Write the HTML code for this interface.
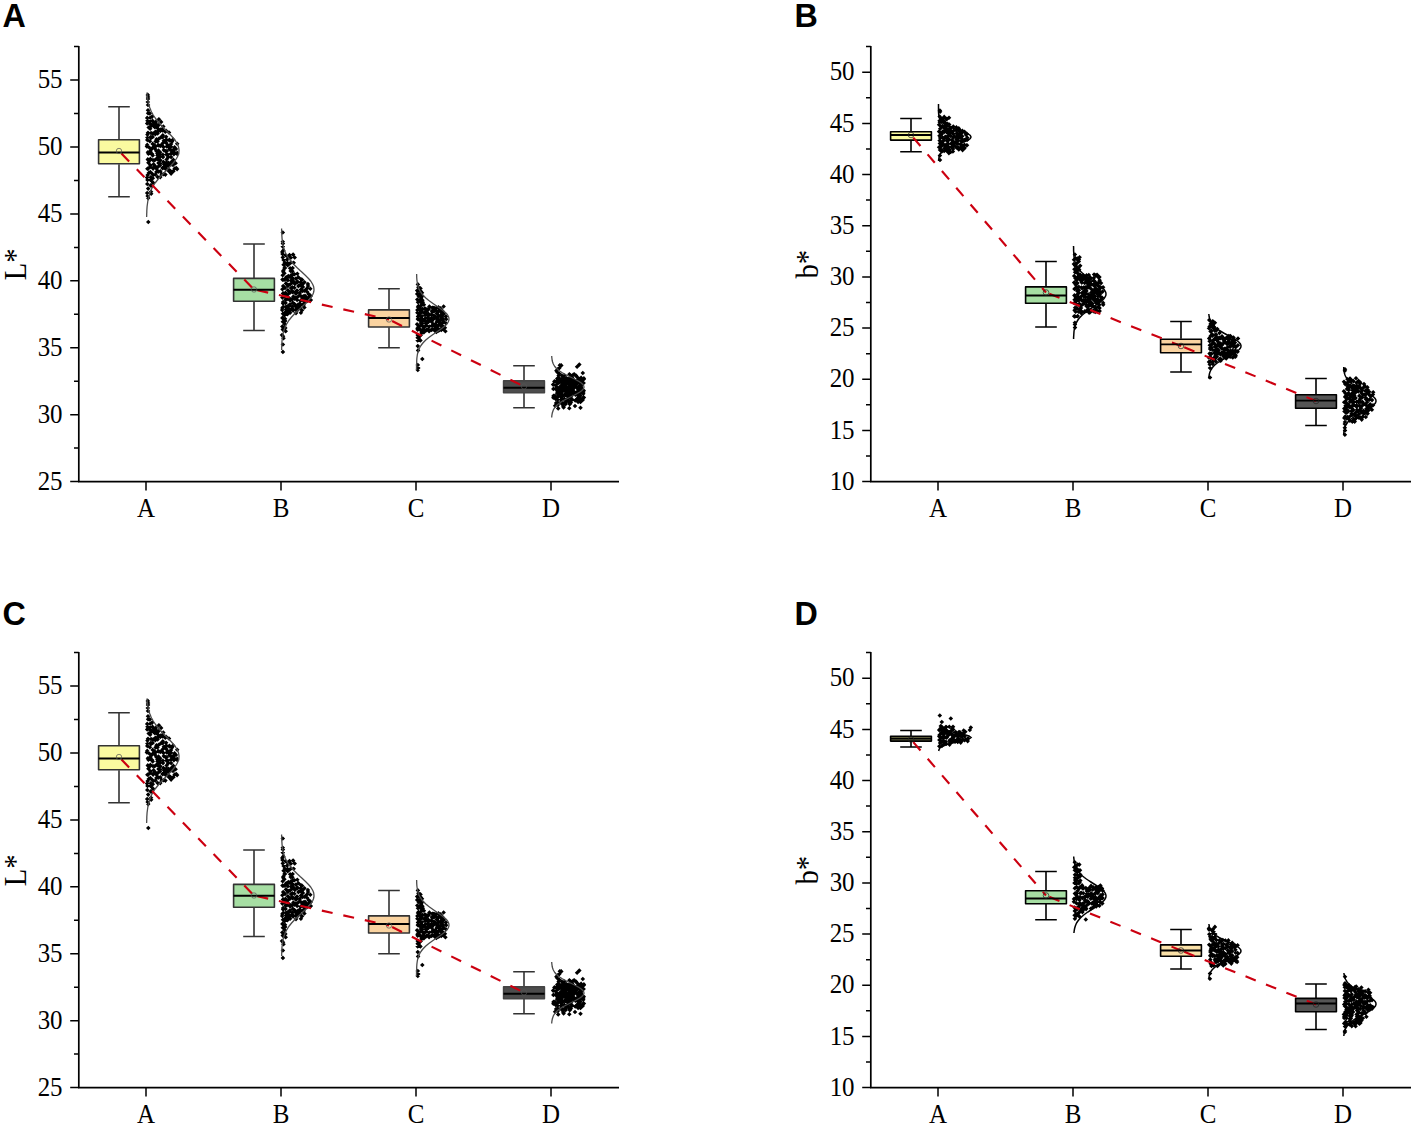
<!DOCTYPE html>
<html lang="en"><head><meta charset="utf-8"><title>Figure</title>
<style>html,body{margin:0;padding:0;background:#fff}svg{display:block}</style></head>
<body>
<svg width="1417" height="1129" viewBox="0 0 1417 1129">
<rect width="1417" height="1129" fill="#fff"/>
<g transform="translate(0 0)">
<path d="M78.8 45.9V481.6H619" fill="none" stroke="#000" stroke-width="1.7"/>
<path d="M78.8 481.6h-8.6M78.8 448.1h-4.8M78.8 414.7h-8.6M78.8 381.2h-4.8M78.8 347.8h-8.6M78.8 314.3h-4.8M78.8 280.8h-8.6M78.8 247.4h-4.8M78.8 213.9h-8.6M78.8 180.4h-4.8M78.8 147h-8.6M78.8 113.5h-4.8M78.8 80.1h-8.6M78.8 46.6h-4.8M146 481.6v9M281 481.6v9M416 481.6v9M551 481.6v9" fill="none" stroke="#000" stroke-width="1.5"/>
<g font-family="'Liberation Serif','Times New Roman',serif" font-size="27" fill="#000">
<text transform="translate(62.6 489.7) scale(0.925 1)" text-anchor="end">25</text>
<text transform="translate(62.6 422.8) scale(0.925 1)" text-anchor="end">30</text>
<text transform="translate(62.6 355.9) scale(0.925 1)" text-anchor="end">35</text>
<text transform="translate(62.6 288.9) scale(0.925 1)" text-anchor="end">40</text>
<text transform="translate(62.6 222) scale(0.925 1)" text-anchor="end">45</text>
<text transform="translate(62.6 155.1) scale(0.925 1)" text-anchor="end">50</text>
<text transform="translate(62.6 88.2) scale(0.925 1)" text-anchor="end">55</text>
<text transform="translate(146 517) scale(0.925 1)" text-anchor="middle">A</text>
<text transform="translate(281 517) scale(0.925 1)" text-anchor="middle">B</text>
<text transform="translate(416 517) scale(0.925 1)" text-anchor="middle">C</text>
<text transform="translate(551 517) scale(0.925 1)" text-anchor="middle">D</text>
<text transform="translate(26.4 264.3) rotate(-90) scale(0.93 1)" text-anchor="middle" font-size="30.8">L*</text>
</g>
<path d="M119 106.8V139.5M119 164.2V196.8M108.2 106.8h21.6M108.2 196.8h21.6" fill="none" stroke="#333333" stroke-width="1.6"/>
<rect x="98.6" y="139.8" width="40.8" height="24" fill="#FAFAA0" stroke="#333333" stroke-width="1.6" stroke-linejoin="round"/>
<path d="M254 244V278M254 301.5V330.5M243.2 244h21.6M243.2 330.5h21.6" fill="none" stroke="#333333" stroke-width="1.6"/>
<rect x="233.6" y="278.4" width="40.8" height="22.8" fill="#A6DEA3" stroke="#333333" stroke-width="1.6" stroke-linejoin="round"/>
<path d="M389 288.8V309.5M389 327.3V347.8M378.2 288.8h21.6M378.2 347.8h21.6" fill="none" stroke="#333333" stroke-width="1.6"/>
<rect x="368.6" y="309.9" width="40.8" height="17.1" fill="#FAD3A0" stroke="#333333" stroke-width="1.6" stroke-linejoin="round"/>
<path d="M524 365.8V380.5M524 393V407.8M513.2 365.8h21.6M513.2 407.8h21.6" fill="none" stroke="#333333" stroke-width="1.6"/>
<rect x="503.6" y="380.9" width="40.8" height="11.8" fill="#4C4C4C" stroke="#444" stroke-width="1.6" stroke-linejoin="round"/>
<path d="M145.5 94.9l2.3-2.3 2.3 2.3-2.3 2.3zM145.7 97l2.3-2.3 2.3 2.3-2.3 2.3zM145.7 98.9l2.3-2.3 2.3 2.3-2.3 2.3zM145.5 102l2.3-2.3 2.3 2.3-2.3 2.3zM145.7 105l2.3-2.3 2.3 2.3-2.3 2.3zM145.7 110.2l2.3-2.3 2.3 2.3-2.3 2.3zM145.8 113.2l2.3-2.3 2.3 2.3-2.3 2.3zM147.5 113.4l2.3-2.3 2.3 2.3-2.3 2.3zM144.9 117.9l2.3-2.3 2.3 2.3-2.3 2.3zM147.9 117.8l2.3-2.3 2.3 2.3-2.3 2.3zM149.9 116.6l2.3-2.3 2.3 2.3-2.3 2.3zM145.2 120.8l2.3-2.3 2.3 2.3-2.3 2.3zM147.7 121.6l2.3-2.3 2.3 2.3-2.3 2.3zM150.2 120.8l2.3-2.3 2.3 2.3-2.3 2.3zM154 121.4l2.3-2.3 2.3 2.3-2.3 2.3zM156.6 119.2l2.3-2.3 2.3 2.3-2.3 2.3zM144.9 123.4l2.3-2.3 2.3 2.3-2.3 2.3zM148.4 124.4l2.3-2.3 2.3 2.3-2.3 2.3zM151.4 122.8l2.3-2.3 2.3 2.3-2.3 2.3zM153.5 123.7l2.3-2.3 2.3 2.3-2.3 2.3zM156.5 125l2.3-2.3 2.3 2.3-2.3 2.3zM158.8 121.9l2.3-2.3 2.3 2.3-2.3 2.3zM146.4 127.5l2.3-2.3 2.3 2.3-2.3 2.3zM147.9 126.9l2.3-2.3 2.3 2.3-2.3 2.3zM150.6 125.2l2.3-2.3 2.3 2.3-2.3 2.3zM152.5 127.3l2.3-2.3 2.3 2.3-2.3 2.3zM155.4 126l2.3-2.3 2.3 2.3-2.3 2.3zM161 126.5l2.3-2.3 2.3 2.3-2.3 2.3zM147.9 128.8l2.3-2.3 2.3 2.3-2.3 2.3zM155.3 128.3l2.3-2.3 2.3 2.3-2.3 2.3zM158.5 129.6l2.3-2.3 2.3 2.3-2.3 2.3zM160.2 129l2.3-2.3 2.3 2.3-2.3 2.3zM163.8 130.8l2.3-2.3 2.3 2.3-2.3 2.3zM145.7 132.8l2.3-2.3 2.3 2.3-2.3 2.3zM148.8 133.1l2.3-2.3 2.3 2.3-2.3 2.3zM153.1 131.8l2.3-2.3 2.3 2.3-2.3 2.3zM156.1 130.6l2.3-2.3 2.3 2.3-2.3 2.3zM158 131l2.3-2.3 2.3 2.3-2.3 2.3zM160.3 130.4l2.3-2.3 2.3 2.3-2.3 2.3zM163 131.7l2.3-2.3 2.3 2.3-2.3 2.3zM166.7 132.5l2.3-2.3 2.3 2.3-2.3 2.3zM145.2 134.6l2.3-2.3 2.3 2.3-2.3 2.3zM148.7 136.8l2.3-2.3 2.3 2.3-2.3 2.3zM150.7 133.6l2.3-2.3 2.3 2.3-2.3 2.3zM153 134.2l2.3-2.3 2.3 2.3-2.3 2.3zM155.3 133.4l2.3-2.3 2.3 2.3-2.3 2.3zM160.5 135.2l2.3-2.3 2.3 2.3-2.3 2.3zM163.8 136.7l2.3-2.3 2.3 2.3-2.3 2.3zM145.1 137.5l2.3-2.3 2.3 2.3-2.3 2.3zM148.6 138.1l2.3-2.3 2.3 2.3-2.3 2.3zM150.4 137l2.3-2.3 2.3 2.3-2.3 2.3zM154.2 139.2l2.3-2.3 2.3 2.3-2.3 2.3zM156.5 138.8l2.3-2.3 2.3 2.3-2.3 2.3zM158.5 137.4l2.3-2.3 2.3 2.3-2.3 2.3zM160.3 137.2l2.3-2.3 2.3 2.3-2.3 2.3zM164 139.5l2.3-2.3 2.3 2.3-2.3 2.3zM167.1 139.7l2.3-2.3 2.3 2.3-2.3 2.3zM145 139.9l2.3-2.3 2.3 2.3-2.3 2.3zM147.6 141.3l2.3-2.3 2.3 2.3-2.3 2.3zM153.3 141.4l2.3-2.3 2.3 2.3-2.3 2.3zM155.2 141.4l2.3-2.3 2.3 2.3-2.3 2.3zM161.6 140.8l2.3-2.3 2.3 2.3-2.3 2.3zM164.2 140.3l2.3-2.3 2.3 2.3-2.3 2.3zM167.1 140.5l2.3-2.3 2.3 2.3-2.3 2.3zM169.7 141.6l2.3-2.3 2.3 2.3-2.3 2.3zM170.8 139.6l2.3-2.3 2.3 2.3-2.3 2.3zM144.9 144.9l2.3-2.3 2.3 2.3-2.3 2.3zM150.4 143.9l2.3-2.3 2.3 2.3-2.3 2.3zM152.4 145.4l2.3-2.3 2.3 2.3-2.3 2.3zM155.9 145.3l2.3-2.3 2.3 2.3-2.3 2.3zM159.2 144.9l2.3-2.3 2.3 2.3-2.3 2.3zM160.7 143l2.3-2.3 2.3 2.3-2.3 2.3zM163.9 142.9l2.3-2.3 2.3 2.3-2.3 2.3zM165.6 145.2l2.3-2.3 2.3 2.3-2.3 2.3zM168.8 144l2.3-2.3 2.3 2.3-2.3 2.3zM174.9 143.8l2.3-2.3 2.3 2.3-2.3 2.3zM144.6 146.4l2.3-2.3 2.3 2.3-2.3 2.3zM147.2 147.7l2.3-2.3 2.3 2.3-2.3 2.3zM150.7 147.4l2.3-2.3 2.3 2.3-2.3 2.3zM153 146.7l2.3-2.3 2.3 2.3-2.3 2.3zM156.4 145.3l2.3-2.3 2.3 2.3-2.3 2.3zM158 145.9l2.3-2.3 2.3 2.3-2.3 2.3zM161.1 146.9l2.3-2.3 2.3 2.3-2.3 2.3zM164.4 146.5l2.3-2.3 2.3 2.3-2.3 2.3zM166.3 146.7l2.3-2.3 2.3 2.3-2.3 2.3zM168.8 146.8l2.3-2.3 2.3 2.3-2.3 2.3zM172.3 147.3l2.3-2.3 2.3 2.3-2.3 2.3zM148.2 151.1l2.3-2.3 2.3 2.3-2.3 2.3zM150 148.2l2.3-2.3 2.3 2.3-2.3 2.3zM152.5 148.6l2.3-2.3 2.3 2.3-2.3 2.3zM156.2 150.5l2.3-2.3 2.3 2.3-2.3 2.3zM161.5 150.1l2.3-2.3 2.3 2.3-2.3 2.3zM164.4 151.2l2.3-2.3 2.3 2.3-2.3 2.3zM167.1 149.2l2.3-2.3 2.3 2.3-2.3 2.3zM169.8 150.7l2.3-2.3 2.3 2.3-2.3 2.3zM171.4 149.6l2.3-2.3 2.3 2.3-2.3 2.3zM173.6 148.9l2.3-2.3 2.3 2.3-2.3 2.3zM145.6 152.2l2.3-2.3 2.3 2.3-2.3 2.3zM147.8 152.9l2.3-2.3 2.3 2.3-2.3 2.3zM149.9 154.1l2.3-2.3 2.3 2.3-2.3 2.3zM154.1 151.1l2.3-2.3 2.3 2.3-2.3 2.3zM155.1 153.4l2.3-2.3 2.3 2.3-2.3 2.3zM157.8 152.2l2.3-2.3 2.3 2.3-2.3 2.3zM163.3 151.2l2.3-2.3 2.3 2.3-2.3 2.3zM169.3 151l2.3-2.3 2.3 2.3-2.3 2.3zM171.8 152.2l2.3-2.3 2.3 2.3-2.3 2.3zM174.9 152.9l2.3-2.3 2.3 2.3-2.3 2.3zM146.1 153.8l2.3-2.3 2.3 2.3-2.3 2.3zM150.4 155.5l2.3-2.3 2.3 2.3-2.3 2.3zM155.2 155.4l2.3-2.3 2.3 2.3-2.3 2.3zM157.8 154.2l2.3-2.3 2.3 2.3-2.3 2.3zM160.6 154.7l2.3-2.3 2.3 2.3-2.3 2.3zM164.2 154.6l2.3-2.3 2.3 2.3-2.3 2.3zM165.7 154.8l2.3-2.3 2.3 2.3-2.3 2.3zM168.5 153.7l2.3-2.3 2.3 2.3-2.3 2.3zM171.6 154.3l2.3-2.3 2.3 2.3-2.3 2.3zM174.9 154l2.3-2.3 2.3 2.3-2.3 2.3zM145.5 159.4l2.3-2.3 2.3 2.3-2.3 2.3zM148.1 158.9l2.3-2.3 2.3 2.3-2.3 2.3zM153.9 159l2.3-2.3 2.3 2.3-2.3 2.3zM155.7 157.7l2.3-2.3 2.3 2.3-2.3 2.3zM157.8 156.7l2.3-2.3 2.3 2.3-2.3 2.3zM160.7 157.1l2.3-2.3 2.3 2.3-2.3 2.3zM164.3 159.5l2.3-2.3 2.3 2.3-2.3 2.3zM165.9 157.3l2.3-2.3 2.3 2.3-2.3 2.3zM168.8 157.1l2.3-2.3 2.3 2.3-2.3 2.3zM171.1 159.9l2.3-2.3 2.3 2.3-2.3 2.3zM146.3 160.5l2.3-2.3 2.3 2.3-2.3 2.3zM147.2 160.7l2.3-2.3 2.3 2.3-2.3 2.3zM150.7 160.1l2.3-2.3 2.3 2.3-2.3 2.3zM152.4 160.3l2.3-2.3 2.3 2.3-2.3 2.3zM155.7 159.5l2.3-2.3 2.3 2.3-2.3 2.3zM158.1 160.2l2.3-2.3 2.3 2.3-2.3 2.3zM161.2 162l2.3-2.3 2.3 2.3-2.3 2.3zM164.1 162.5l2.3-2.3 2.3 2.3-2.3 2.3zM166 162.8l2.3-2.3 2.3 2.3-2.3 2.3zM169.3 161.7l2.3-2.3 2.3 2.3-2.3 2.3zM172.1 162.5l2.3-2.3 2.3 2.3-2.3 2.3zM146.1 162.8l2.3-2.3 2.3 2.3-2.3 2.3zM148.1 165.2l2.3-2.3 2.3 2.3-2.3 2.3zM151.3 164.3l2.3-2.3 2.3 2.3-2.3 2.3zM156.2 163.1l2.3-2.3 2.3 2.3-2.3 2.3zM157.8 163.6l2.3-2.3 2.3 2.3-2.3 2.3zM161.7 164.3l2.3-2.3 2.3 2.3-2.3 2.3zM163.9 164.7l2.3-2.3 2.3 2.3-2.3 2.3zM165.4 165.1l2.3-2.3 2.3 2.3-2.3 2.3zM168.9 164.2l2.3-2.3 2.3 2.3-2.3 2.3zM170.7 164.9l2.3-2.3 2.3 2.3-2.3 2.3zM173.3 163.2l2.3-2.3 2.3 2.3-2.3 2.3zM145.9 168.6l2.3-2.3 2.3 2.3-2.3 2.3zM147.9 166.9l2.3-2.3 2.3 2.3-2.3 2.3zM151.2 167.4l2.3-2.3 2.3 2.3-2.3 2.3zM152.5 165.7l2.3-2.3 2.3 2.3-2.3 2.3zM156.3 166.3l2.3-2.3 2.3 2.3-2.3 2.3zM157.6 165.4l2.3-2.3 2.3 2.3-2.3 2.3zM161.4 167.6l2.3-2.3 2.3 2.3-2.3 2.3zM163.3 167l2.3-2.3 2.3 2.3-2.3 2.3zM166.2 165.6l2.3-2.3 2.3 2.3-2.3 2.3zM172.4 168.5l2.3-2.3 2.3 2.3-2.3 2.3zM174 168.1l2.3-2.3 2.3 2.3-2.3 2.3zM145.1 168.8l2.3-2.3 2.3 2.3-2.3 2.3zM150.8 168.6l2.3-2.3 2.3 2.3-2.3 2.3zM154.1 168.6l2.3-2.3 2.3 2.3-2.3 2.3zM155.9 171.2l2.3-2.3 2.3 2.3-2.3 2.3zM158 171.2l2.3-2.3 2.3 2.3-2.3 2.3zM160.2 168.1l2.3-2.3 2.3 2.3-2.3 2.3zM163.6 169.2l2.3-2.3 2.3 2.3-2.3 2.3zM166 169.2l2.3-2.3 2.3 2.3-2.3 2.3zM168 170.7l2.3-2.3 2.3 2.3-2.3 2.3zM170.8 171.3l2.3-2.3 2.3 2.3-2.3 2.3zM174.8 169.1l2.3-2.3 2.3 2.3-2.3 2.3zM146.4 173.1l2.3-2.3 2.3 2.3-2.3 2.3zM148 172l2.3-2.3 2.3 2.3-2.3 2.3zM150 173.9l2.3-2.3 2.3 2.3-2.3 2.3zM154.1 171.9l2.3-2.3 2.3 2.3-2.3 2.3zM155.9 171.7l2.3-2.3 2.3 2.3-2.3 2.3zM159.3 174.1l2.3-2.3 2.3 2.3-2.3 2.3zM161.3 174.2l2.3-2.3 2.3 2.3-2.3 2.3zM166.7 171.2l2.3-2.3 2.3 2.3-2.3 2.3zM168.8 173.6l2.3-2.3 2.3 2.3-2.3 2.3zM171.1 171.2l2.3-2.3 2.3 2.3-2.3 2.3zM145.4 175.1l2.3-2.3 2.3 2.3-2.3 2.3zM148.5 177.3l2.3-2.3 2.3 2.3-2.3 2.3zM151 175l2.3-2.3 2.3 2.3-2.3 2.3zM153.1 174.5l2.3-2.3 2.3 2.3-2.3 2.3zM155.4 177.1l2.3-2.3 2.3 2.3-2.3 2.3zM158 177.1l2.3-2.3 2.3 2.3-2.3 2.3zM163.1 174.6l2.3-2.3 2.3 2.3-2.3 2.3zM144.8 177.6l2.3-2.3 2.3 2.3-2.3 2.3zM148.2 179.9l2.3-2.3 2.3 2.3-2.3 2.3zM150.5 178.2l2.3-2.3 2.3 2.3-2.3 2.3zM145.2 179.9l2.3-2.3 2.3 2.3-2.3 2.3zM148.9 180.1l2.3-2.3 2.3 2.3-2.3 2.3zM150.9 182.7l2.3-2.3 2.3 2.3-2.3 2.3zM145 184l2.3-2.3 2.3 2.3-2.3 2.3zM148.9 185.6l2.3-2.3 2.3 2.3-2.3 2.3zM145.9 188.6l2.3-2.3 2.3 2.3-2.3 2.3zM148.3 185.5l2.3-2.3 2.3 2.3-2.3 2.3zM148.7 191.8l2.3-2.3 2.3 2.3-2.3 2.3zM144.9 193.1l2.3-2.3 2.3 2.3-2.3 2.3zM148.9 193.8l2.3-2.3 2.3 2.3-2.3 2.3zM145.4 196.1l2.3-2.3 2.3 2.3-2.3 2.3zM145.9 198.1l2.3-2.3 2.3 2.3-2.3 2.3zM146 222l2.3-2.3 2.3 2.3-2.3 2.3z" fill="#000"/>
<path d="M147 92.5 L147.1 94 L147.2 95.5 L147.4 97 L147.6 98.5 L147.8 100 L148.1 101.5 L148.4 103 L148.8 104.5 L149.2 106 L149.7 107.5 L150.3 109 L150.9 110.5 L151.6 112 L152.4 113.5 L153.2 115 L154.2 116.5 L155.2 118 L156.3 119.5 L157.5 121 L158.7 122.5 L160 124 L161.4 125.5 L162.8 127 L164.2 128.5 L165.7 130 L167.2 131.5 L168.7 133 L170.1 134.5 L171.5 136 L172.8 137.5 L174 139 L175.2 140.5 L176.2 142 L177.1 143.5 L177.8 145 L178.4 146.5 L178.7 148 L179 149.5 L179 151 L178.8 152.5 L178.5 154 L178 155.5 L177.3 157 L176.5 158.5 L175.5 160 L174.4 161.5 L173.2 163 L171.9 164.5 L170.6 166 L169.1 167.5 L167.7 169 L166.2 170.5 L164.7 172 L163.3 173.5 L161.8 175 L160.5 176.5 L159.1 178 L157.9 179.5 L156.7 181 L155.5 182.5 L154.5 184 L153.5 185.5 L152.6 187 L151.8 188.5 L151.1 190 L150.5 191.5 L149.9 193 L149.4 194.5 L148.9 196 L148.6 197.5 L148.2 199 L147.9 200.5 L147.7 202 L147.5 203.5 L147.3 205 L147.1 206.5 L147 208 L146.9 209.5 L146.8 211 L146.8 212.5 L146.7 214 L146.7 215.5 L146.6 217" fill="none" stroke="#4a4a4a" stroke-width="1.3"/>
<path d="M280.5 232.5l2.3-2.3 2.3 2.3-2.3 2.3zM280.5 241.7l2.3-2.3 2.3 2.3-2.3 2.3zM280.6 243.6l2.3-2.3 2.3 2.3-2.3 2.3zM280.5 246.6l2.3-2.3 2.3 2.3-2.3 2.3zM281 250.4l2.3-2.3 2.3 2.3-2.3 2.3zM280 251.9l2.3-2.3 2.3 2.3-2.3 2.3zM280.2 254l2.3-2.3 2.3 2.3-2.3 2.3zM283.3 255.3l2.3-2.3 2.3 2.3-2.3 2.3zM285.8 257l2.3-2.3 2.3 2.3-2.3 2.3zM287.2 255l2.3-2.3 2.3 2.3-2.3 2.3zM290.8 254.6l2.3-2.3 2.3 2.3-2.3 2.3zM280.5 257.4l2.3-2.3 2.3 2.3-2.3 2.3zM286.1 257.5l2.3-2.3 2.3 2.3-2.3 2.3zM288.5 257.7l2.3-2.3 2.3 2.3-2.3 2.3zM292.4 257.5l2.3-2.3 2.3 2.3-2.3 2.3zM281.3 260l2.3-2.3 2.3 2.3-2.3 2.3zM282.5 262.8l2.3-2.3 2.3 2.3-2.3 2.3zM284.7 259.7l2.3-2.3 2.3 2.3-2.3 2.3zM288.7 262.5l2.3-2.3 2.3 2.3-2.3 2.3zM291.4 262.7l2.3-2.3 2.3 2.3-2.3 2.3zM281.3 264.8l2.3-2.3 2.3 2.3-2.3 2.3zM283.3 263.6l2.3-2.3 2.3 2.3-2.3 2.3zM285.2 262.9l2.3-2.3 2.3 2.3-2.3 2.3zM287.6 263.5l2.3-2.3 2.3 2.3-2.3 2.3zM282.7 267.9l2.3-2.3 2.3 2.3-2.3 2.3zM285.4 265.3l2.3-2.3 2.3 2.3-2.3 2.3zM287.8 268.2l2.3-2.3 2.3 2.3-2.3 2.3zM290.3 268.1l2.3-2.3 2.3 2.3-2.3 2.3zM281.1 270.5l2.3-2.3 2.3 2.3-2.3 2.3zM282.2 268.1l2.3-2.3 2.3 2.3-2.3 2.3zM288.4 271l2.3-2.3 2.3 2.3-2.3 2.3zM290.1 271.2l2.3-2.3 2.3 2.3-2.3 2.3zM280.9 271.8l2.3-2.3 2.3 2.3-2.3 2.3zM282.1 273.3l2.3-2.3 2.3 2.3-2.3 2.3zM288.8 270.8l2.3-2.3 2.3 2.3-2.3 2.3zM290.5 274l2.3-2.3 2.3 2.3-2.3 2.3zM280.4 275.2l2.3-2.3 2.3 2.3-2.3 2.3zM286 276l2.3-2.3 2.3 2.3-2.3 2.3zM288.5 275.6l2.3-2.3 2.3 2.3-2.3 2.3zM290.2 274.7l2.3-2.3 2.3 2.3-2.3 2.3zM292.2 274.2l2.3-2.3 2.3 2.3-2.3 2.3zM295 273.7l2.3-2.3 2.3 2.3-2.3 2.3zM280.2 279.6l2.3-2.3 2.3 2.3-2.3 2.3zM283.9 277.2l2.3-2.3 2.3 2.3-2.3 2.3zM284.8 278l2.3-2.3 2.3 2.3-2.3 2.3zM287.9 277.1l2.3-2.3 2.3 2.3-2.3 2.3zM290.7 278.6l2.3-2.3 2.3 2.3-2.3 2.3zM293.6 278.6l2.3-2.3 2.3 2.3-2.3 2.3zM296.1 277.3l2.3-2.3 2.3 2.3-2.3 2.3zM280.9 279.8l2.3-2.3 2.3 2.3-2.3 2.3zM282.5 279.6l2.3-2.3 2.3 2.3-2.3 2.3zM285.6 280.2l2.3-2.3 2.3 2.3-2.3 2.3zM288.9 280.8l2.3-2.3 2.3 2.3-2.3 2.3zM291.1 281.3l2.3-2.3 2.3 2.3-2.3 2.3zM295.5 281.9l2.3-2.3 2.3 2.3-2.3 2.3zM298.7 279.2l2.3-2.3 2.3 2.3-2.3 2.3zM299.8 279.7l2.3-2.3 2.3 2.3-2.3 2.3zM283.7 283.4l2.3-2.3 2.3 2.3-2.3 2.3zM286 285.1l2.3-2.3 2.3 2.3-2.3 2.3zM288.2 284l2.3-2.3 2.3 2.3-2.3 2.3zM290.3 282.4l2.3-2.3 2.3 2.3-2.3 2.3zM292.6 283.9l2.3-2.3 2.3 2.3-2.3 2.3zM295 281.9l2.3-2.3 2.3 2.3-2.3 2.3zM298.3 282.5l2.3-2.3 2.3 2.3-2.3 2.3zM300 284.6l2.3-2.3 2.3 2.3-2.3 2.3zM302.2 282.2l2.3-2.3 2.3 2.3-2.3 2.3zM305.6 284.1l2.3-2.3 2.3 2.3-2.3 2.3zM280.9 286.1l2.3-2.3 2.3 2.3-2.3 2.3zM282.7 287.9l2.3-2.3 2.3 2.3-2.3 2.3zM285.6 285.9l2.3-2.3 2.3 2.3-2.3 2.3zM288.7 288.1l2.3-2.3 2.3 2.3-2.3 2.3zM290 287.2l2.3-2.3 2.3 2.3-2.3 2.3zM292.1 287.8l2.3-2.3 2.3 2.3-2.3 2.3zM296.1 286.1l2.3-2.3 2.3 2.3-2.3 2.3zM297.9 285.3l2.3-2.3 2.3 2.3-2.3 2.3zM300.6 286.9l2.3-2.3 2.3 2.3-2.3 2.3zM305.7 286l2.3-2.3 2.3 2.3-2.3 2.3zM280.1 289.3l2.3-2.3 2.3 2.3-2.3 2.3zM285.5 290.2l2.3-2.3 2.3 2.3-2.3 2.3zM289.8 290.7l2.3-2.3 2.3 2.3-2.3 2.3zM294.7 290.6l2.3-2.3 2.3 2.3-2.3 2.3zM298.7 289.6l2.3-2.3 2.3 2.3-2.3 2.3zM299.9 290.2l2.3-2.3 2.3 2.3-2.3 2.3zM302.8 290.4l2.3-2.3 2.3 2.3-2.3 2.3zM304.9 288.2l2.3-2.3 2.3 2.3-2.3 2.3zM308 288.8l2.3-2.3 2.3 2.3-2.3 2.3zM280.9 293.4l2.3-2.3 2.3 2.3-2.3 2.3zM283.1 292.9l2.3-2.3 2.3 2.3-2.3 2.3zM286.1 290.7l2.3-2.3 2.3 2.3-2.3 2.3zM288.1 292.4l2.3-2.3 2.3 2.3-2.3 2.3zM290.4 292.3l2.3-2.3 2.3 2.3-2.3 2.3zM293.3 291.8l2.3-2.3 2.3 2.3-2.3 2.3zM294.6 292.4l2.3-2.3 2.3 2.3-2.3 2.3zM297.5 292.9l2.3-2.3 2.3 2.3-2.3 2.3zM300.4 290.9l2.3-2.3 2.3 2.3-2.3 2.3zM302.3 290.7l2.3-2.3 2.3 2.3-2.3 2.3zM304.8 291.8l2.3-2.3 2.3 2.3-2.3 2.3zM280.7 293.4l2.3-2.3 2.3 2.3-2.3 2.3zM283.5 294.8l2.3-2.3 2.3 2.3-2.3 2.3zM285.5 294.4l2.3-2.3 2.3 2.3-2.3 2.3zM291.1 296.5l2.3-2.3 2.3 2.3-2.3 2.3zM293.6 293.8l2.3-2.3 2.3 2.3-2.3 2.3zM298.8 296.2l2.3-2.3 2.3 2.3-2.3 2.3zM301 296.3l2.3-2.3 2.3 2.3-2.3 2.3zM302.7 295.7l2.3-2.3 2.3 2.3-2.3 2.3zM306.2 294l2.3-2.3 2.3 2.3-2.3 2.3zM307.3 294.8l2.3-2.3 2.3 2.3-2.3 2.3zM280.1 297.6l2.3-2.3 2.3 2.3-2.3 2.3zM282.2 296.5l2.3-2.3 2.3 2.3-2.3 2.3zM286.3 298.2l2.3-2.3 2.3 2.3-2.3 2.3zM287.4 298.6l2.3-2.3 2.3 2.3-2.3 2.3zM290.6 298.1l2.3-2.3 2.3 2.3-2.3 2.3zM293.7 297.8l2.3-2.3 2.3 2.3-2.3 2.3zM296.2 296.3l2.3-2.3 2.3 2.3-2.3 2.3zM300.3 298.6l2.3-2.3 2.3 2.3-2.3 2.3zM303.9 297.9l2.3-2.3 2.3 2.3-2.3 2.3zM306 297.4l2.3-2.3 2.3 2.3-2.3 2.3zM308.4 296.1l2.3-2.3 2.3 2.3-2.3 2.3zM280.8 302l2.3-2.3 2.3 2.3-2.3 2.3zM283.3 299.8l2.3-2.3 2.3 2.3-2.3 2.3zM284.7 299.2l2.3-2.3 2.3 2.3-2.3 2.3zM287.9 300.4l2.3-2.3 2.3 2.3-2.3 2.3zM289.8 299.5l2.3-2.3 2.3 2.3-2.3 2.3zM292.1 298.7l2.3-2.3 2.3 2.3-2.3 2.3zM294.8 299.9l2.3-2.3 2.3 2.3-2.3 2.3zM298.2 300.7l2.3-2.3 2.3 2.3-2.3 2.3zM300.7 300.3l2.3-2.3 2.3 2.3-2.3 2.3zM303.8 299.5l2.3-2.3 2.3 2.3-2.3 2.3zM304.8 300.9l2.3-2.3 2.3 2.3-2.3 2.3zM308.5 300.1l2.3-2.3 2.3 2.3-2.3 2.3zM280.8 303.4l2.3-2.3 2.3 2.3-2.3 2.3zM283.3 303l2.3-2.3 2.3 2.3-2.3 2.3zM287.5 304.6l2.3-2.3 2.3 2.3-2.3 2.3zM290.6 302.9l2.3-2.3 2.3 2.3-2.3 2.3zM292.2 304.1l2.3-2.3 2.3 2.3-2.3 2.3zM295.6 304.7l2.3-2.3 2.3 2.3-2.3 2.3zM297.5 303.6l2.3-2.3 2.3 2.3-2.3 2.3zM300.8 304.3l2.3-2.3 2.3 2.3-2.3 2.3zM302.7 302.5l2.3-2.3 2.3 2.3-2.3 2.3zM281 306.7l2.3-2.3 2.3 2.3-2.3 2.3zM283.6 306.8l2.3-2.3 2.3 2.3-2.3 2.3zM285.9 305.8l2.3-2.3 2.3 2.3-2.3 2.3zM287.3 305.1l2.3-2.3 2.3 2.3-2.3 2.3zM290.2 306.8l2.3-2.3 2.3 2.3-2.3 2.3zM293.6 306.7l2.3-2.3 2.3 2.3-2.3 2.3zM295.6 305.8l2.3-2.3 2.3 2.3-2.3 2.3zM298 305.2l2.3-2.3 2.3 2.3-2.3 2.3zM301.3 305l2.3-2.3 2.3 2.3-2.3 2.3zM280.1 307.9l2.3-2.3 2.3 2.3-2.3 2.3zM283.8 309.6l2.3-2.3 2.3 2.3-2.3 2.3zM286.2 308.2l2.3-2.3 2.3 2.3-2.3 2.3zM288.7 309.2l2.3-2.3 2.3 2.3-2.3 2.3zM290.8 310.4l2.3-2.3 2.3 2.3-2.3 2.3zM293.6 309.5l2.3-2.3 2.3 2.3-2.3 2.3zM295.4 309.6l2.3-2.3 2.3 2.3-2.3 2.3zM297.7 307.8l2.3-2.3 2.3 2.3-2.3 2.3zM299.7 310.2l2.3-2.3 2.3 2.3-2.3 2.3zM302.1 307.5l2.3-2.3 2.3 2.3-2.3 2.3zM279.9 310l2.3-2.3 2.3 2.3-2.3 2.3zM283.3 312.1l2.3-2.3 2.3 2.3-2.3 2.3zM285.9 310.1l2.3-2.3 2.3 2.3-2.3 2.3zM287.8 312.7l2.3-2.3 2.3 2.3-2.3 2.3zM291.2 310.1l2.3-2.3 2.3 2.3-2.3 2.3zM293.7 313.1l2.3-2.3 2.3 2.3-2.3 2.3zM295 310.3l2.3-2.3 2.3 2.3-2.3 2.3zM298.6 312.7l2.3-2.3 2.3 2.3-2.3 2.3zM280.7 313.7l2.3-2.3 2.3 2.3-2.3 2.3zM282.3 315.3l2.3-2.3 2.3 2.3-2.3 2.3zM285.2 314.1l2.3-2.3 2.3 2.3-2.3 2.3zM280.1 317.9l2.3-2.3 2.3 2.3-2.3 2.3zM282.7 318.8l2.3-2.3 2.3 2.3-2.3 2.3zM280.7 318.4l2.3-2.3 2.3 2.3-2.3 2.3zM282.9 320.9l2.3-2.3 2.3 2.3-2.3 2.3zM280.6 321.8l2.3-2.3 2.3 2.3-2.3 2.3zM282.3 323.9l2.3-2.3 2.3 2.3-2.3 2.3zM280 326.5l2.3-2.3 2.3 2.3-2.3 2.3zM280.5 329.4l2.3-2.3 2.3 2.3-2.3 2.3zM283 327.9l2.3-2.3 2.3 2.3-2.3 2.3zM281.3 330.5l2.3-2.3 2.3 2.3-2.3 2.3zM283.4 331.2l2.3-2.3 2.3 2.3-2.3 2.3zM279.7 335l2.3-2.3 2.3 2.3-2.3 2.3zM280.7 336.3l2.3-2.3 2.3 2.3-2.3 2.3zM281.2 338.2l2.3-2.3 2.3 2.3-2.3 2.3zM280.6 344.5l2.3-2.3 2.3 2.3-2.3 2.3zM280.6 351.9l2.3-2.3 2.3 2.3-2.3 2.3z" fill="#000"/>
<path d="M281.6 228.5 L281.6 230 L281.7 231.5 L281.7 233 L281.8 234.5 L281.9 236 L282 237.5 L282.1 239 L282.3 240.5 L282.5 242 L282.7 243.5 L283 245 L283.4 246.5 L283.8 248 L284.3 249.5 L284.8 251 L285.4 252.5 L286.1 254 L287 255.5 L287.9 257 L288.9 258.5 L290 260 L291.2 261.5 L292.5 263 L293.9 264.5 L295.4 266 L296.9 267.5 L298.5 269 L300.1 270.5 L301.8 272 L303.4 273.5 L305 275 L306.5 276.5 L308 278 L309.4 279.5 L310.6 281 L311.6 282.5 L312.5 284 L313.2 285.5 L313.7 287 L313.9 288.5 L314 290 L313.8 291.5 L313.4 293 L312.8 294.5 L311.9 296 L310.9 297.5 L309.8 299 L308.5 300.5 L307 302 L305.5 303.5 L303.9 305 L302.3 306.5 L300.7 308 L299 309.5 L297.4 311 L295.9 312.5 L294.4 314 L293 315.5 L291.6 317 L290.4 318.5 L289.2 320 L288.2 321.5 L287.3 323 L286.4 324.5 L285.7 326 L285 327.5 L284.4 329 L283.9 330.5 L283.5 332 L283.1 333.5 L282.8 335 L282.6 336.5 L282.4 338 L282.2 339.5 L282 341 L281.9 342.5 L281.8 344 L281.8 345.5 L281.7 347 L281.7 348.5 L281.6 350" fill="none" stroke="#4a4a4a" stroke-width="1.3"/>
<path d="M415.6 284.4l2.3-2.3 2.3 2.3-2.3 2.3zM416.1 287.3l2.3-2.3 2.3 2.3-2.3 2.3zM414.9 290.6l2.3-2.3 2.3 2.3-2.3 2.3zM418.2 288.4l2.3-2.3 2.3 2.3-2.3 2.3zM415.6 290.9l2.3-2.3 2.3 2.3-2.3 2.3zM418.5 291.3l2.3-2.3 2.3 2.3-2.3 2.3zM419.7 292.8l2.3-2.3 2.3 2.3-2.3 2.3zM414.9 293.9l2.3-2.3 2.3 2.3-2.3 2.3zM417.8 293.6l2.3-2.3 2.3 2.3-2.3 2.3zM419.5 296.2l2.3-2.3 2.3 2.3-2.3 2.3zM416.3 296l2.3-2.3 2.3 2.3-2.3 2.3zM418.7 298.2l2.3-2.3 2.3 2.3-2.3 2.3zM420 296.3l2.3-2.3 2.3 2.3-2.3 2.3zM415 299.5l2.3-2.3 2.3 2.3-2.3 2.3zM417.6 300.8l2.3-2.3 2.3 2.3-2.3 2.3zM420.1 300.3l2.3-2.3 2.3 2.3-2.3 2.3zM415.7 302.2l2.3-2.3 2.3 2.3-2.3 2.3zM418.5 302.3l2.3-2.3 2.3 2.3-2.3 2.3zM420.5 302.2l2.3-2.3 2.3 2.3-2.3 2.3zM416.2 306l2.3-2.3 2.3 2.3-2.3 2.3zM418.4 305.7l2.3-2.3 2.3 2.3-2.3 2.3zM420 304.5l2.3-2.3 2.3 2.3-2.3 2.3zM421.6 304.8l2.3-2.3 2.3 2.3-2.3 2.3zM415.7 306.9l2.3-2.3 2.3 2.3-2.3 2.3zM417.7 308.1l2.3-2.3 2.3 2.3-2.3 2.3zM420.4 309.1l2.3-2.3 2.3 2.3-2.3 2.3zM422.7 308.6l2.3-2.3 2.3 2.3-2.3 2.3zM424.7 309.2l2.3-2.3 2.3 2.3-2.3 2.3zM427.1 306.6l2.3-2.3 2.3 2.3-2.3 2.3zM430.1 307.8l2.3-2.3 2.3 2.3-2.3 2.3zM431.7 307.8l2.3-2.3 2.3 2.3-2.3 2.3zM433.9 308.1l2.3-2.3 2.3 2.3-2.3 2.3zM436.2 307.4l2.3-2.3 2.3 2.3-2.3 2.3zM438 308.3l2.3-2.3 2.3 2.3-2.3 2.3zM441.3 306.5l2.3-2.3 2.3 2.3-2.3 2.3zM415.1 310l2.3-2.3 2.3 2.3-2.3 2.3zM417.7 310l2.3-2.3 2.3 2.3-2.3 2.3zM419.8 309.5l2.3-2.3 2.3 2.3-2.3 2.3zM422.8 311.7l2.3-2.3 2.3 2.3-2.3 2.3zM424.2 311.3l2.3-2.3 2.3 2.3-2.3 2.3zM426.5 309.1l2.3-2.3 2.3 2.3-2.3 2.3zM429.9 310.7l2.3-2.3 2.3 2.3-2.3 2.3zM431.7 309.4l2.3-2.3 2.3 2.3-2.3 2.3zM433.6 310.7l2.3-2.3 2.3 2.3-2.3 2.3zM436.8 310.2l2.3-2.3 2.3 2.3-2.3 2.3zM438.6 309.1l2.3-2.3 2.3 2.3-2.3 2.3zM440.5 311.4l2.3-2.3 2.3 2.3-2.3 2.3zM415.1 312.7l2.3-2.3 2.3 2.3-2.3 2.3zM416.9 313.6l2.3-2.3 2.3 2.3-2.3 2.3zM419.6 312.3l2.3-2.3 2.3 2.3-2.3 2.3zM422.3 313.3l2.3-2.3 2.3 2.3-2.3 2.3zM424.5 314.3l2.3-2.3 2.3 2.3-2.3 2.3zM426.2 313.9l2.3-2.3 2.3 2.3-2.3 2.3zM429.8 311.7l2.3-2.3 2.3 2.3-2.3 2.3zM431.8 311.3l2.3-2.3 2.3 2.3-2.3 2.3zM434.7 313.4l2.3-2.3 2.3 2.3-2.3 2.3zM435.5 311.8l2.3-2.3 2.3 2.3-2.3 2.3zM439 312.4l2.3-2.3 2.3 2.3-2.3 2.3zM441.5 313.8l2.3-2.3 2.3 2.3-2.3 2.3zM415.7 316.4l2.3-2.3 2.3 2.3-2.3 2.3zM418.5 316.4l2.3-2.3 2.3 2.3-2.3 2.3zM419.6 316.1l2.3-2.3 2.3 2.3-2.3 2.3zM422.8 315.3l2.3-2.3 2.3 2.3-2.3 2.3zM424.8 314.7l2.3-2.3 2.3 2.3-2.3 2.3zM426.4 315.5l2.3-2.3 2.3 2.3-2.3 2.3zM429.2 314.4l2.3-2.3 2.3 2.3-2.3 2.3zM431.6 315.6l2.3-2.3 2.3 2.3-2.3 2.3zM433 316.6l2.3-2.3 2.3 2.3-2.3 2.3zM436.3 316l2.3-2.3 2.3 2.3-2.3 2.3zM438.3 315.2l2.3-2.3 2.3 2.3-2.3 2.3zM440 315.9l2.3-2.3 2.3 2.3-2.3 2.3zM415.7 318.7l2.3-2.3 2.3 2.3-2.3 2.3zM417.5 319.6l2.3-2.3 2.3 2.3-2.3 2.3zM420.1 319.4l2.3-2.3 2.3 2.3-2.3 2.3zM422.8 318.5l2.3-2.3 2.3 2.3-2.3 2.3zM425.4 317.7l2.3-2.3 2.3 2.3-2.3 2.3zM427 319l2.3-2.3 2.3 2.3-2.3 2.3zM429.2 317.9l2.3-2.3 2.3 2.3-2.3 2.3zM432.2 317.4l2.3-2.3 2.3 2.3-2.3 2.3zM433.7 318.1l2.3-2.3 2.3 2.3-2.3 2.3zM436.2 319.6l2.3-2.3 2.3 2.3-2.3 2.3zM439 317.6l2.3-2.3 2.3 2.3-2.3 2.3zM440.4 318.4l2.3-2.3 2.3 2.3-2.3 2.3zM443.6 316.6l2.3-2.3 2.3 2.3-2.3 2.3zM415.6 319.3l2.3-2.3 2.3 2.3-2.3 2.3zM416.9 319.7l2.3-2.3 2.3 2.3-2.3 2.3zM420.3 321.2l2.3-2.3 2.3 2.3-2.3 2.3zM423.1 321.1l2.3-2.3 2.3 2.3-2.3 2.3zM424.9 321.3l2.3-2.3 2.3 2.3-2.3 2.3zM427.3 319.8l2.3-2.3 2.3 2.3-2.3 2.3zM429.2 321.5l2.3-2.3 2.3 2.3-2.3 2.3zM431 319.2l2.3-2.3 2.3 2.3-2.3 2.3zM434.6 321.2l2.3-2.3 2.3 2.3-2.3 2.3zM436.8 321.6l2.3-2.3 2.3 2.3-2.3 2.3zM438.1 320.1l2.3-2.3 2.3 2.3-2.3 2.3zM440.5 320.5l2.3-2.3 2.3 2.3-2.3 2.3zM443.9 319.3l2.3-2.3 2.3 2.3-2.3 2.3zM414.8 324.3l2.3-2.3 2.3 2.3-2.3 2.3zM418.6 323.1l2.3-2.3 2.3 2.3-2.3 2.3zM419.9 323.6l2.3-2.3 2.3 2.3-2.3 2.3zM423.3 323.2l2.3-2.3 2.3 2.3-2.3 2.3zM424 323.8l2.3-2.3 2.3 2.3-2.3 2.3zM426.4 321.7l2.3-2.3 2.3 2.3-2.3 2.3zM429.6 322.1l2.3-2.3 2.3 2.3-2.3 2.3zM430.9 324.5l2.3-2.3 2.3 2.3-2.3 2.3zM433 324l2.3-2.3 2.3 2.3-2.3 2.3zM436.6 322.3l2.3-2.3 2.3 2.3-2.3 2.3zM439 324l2.3-2.3 2.3 2.3-2.3 2.3zM441.2 322l2.3-2.3 2.3 2.3-2.3 2.3zM443.5 323.2l2.3-2.3 2.3 2.3-2.3 2.3zM416.3 326.6l2.3-2.3 2.3 2.3-2.3 2.3zM416.9 326.4l2.3-2.3 2.3 2.3-2.3 2.3zM419.3 325.3l2.3-2.3 2.3 2.3-2.3 2.3zM421.8 327.1l2.3-2.3 2.3 2.3-2.3 2.3zM423.9 325.5l2.3-2.3 2.3 2.3-2.3 2.3zM426.9 326.5l2.3-2.3 2.3 2.3-2.3 2.3zM429.8 325.5l2.3-2.3 2.3 2.3-2.3 2.3zM431.8 325.6l2.3-2.3 2.3 2.3-2.3 2.3zM434.4 327.3l2.3-2.3 2.3 2.3-2.3 2.3zM436.3 325.2l2.3-2.3 2.3 2.3-2.3 2.3zM439.4 326.6l2.3-2.3 2.3 2.3-2.3 2.3zM440.5 326.2l2.3-2.3 2.3 2.3-2.3 2.3zM415.2 328.3l2.3-2.3 2.3 2.3-2.3 2.3zM417.6 329.1l2.3-2.3 2.3 2.3-2.3 2.3zM420.8 329.5l2.3-2.3 2.3 2.3-2.3 2.3zM421.5 327.7l2.3-2.3 2.3 2.3-2.3 2.3zM424.9 329.5l2.3-2.3 2.3 2.3-2.3 2.3zM426.2 329.6l2.3-2.3 2.3 2.3-2.3 2.3zM430 328.7l2.3-2.3 2.3 2.3-2.3 2.3zM432.2 329.5l2.3-2.3 2.3 2.3-2.3 2.3zM434.6 328l2.3-2.3 2.3 2.3-2.3 2.3zM436.3 329.5l2.3-2.3 2.3 2.3-2.3 2.3zM439 329.9l2.3-2.3 2.3 2.3-2.3 2.3zM441 329.1l2.3-2.3 2.3 2.3-2.3 2.3zM442.6 327.7l2.3-2.3 2.3 2.3-2.3 2.3zM415.4 329.8l2.3-2.3 2.3 2.3-2.3 2.3zM418.3 330.2l2.3-2.3 2.3 2.3-2.3 2.3zM420.8 332.3l2.3-2.3 2.3 2.3-2.3 2.3zM422.4 331.4l2.3-2.3 2.3 2.3-2.3 2.3zM424.1 330.1l2.3-2.3 2.3 2.3-2.3 2.3zM426.8 331.3l2.3-2.3 2.3 2.3-2.3 2.3zM429.3 330l2.3-2.3 2.3 2.3-2.3 2.3zM432.5 330.7l2.3-2.3 2.3 2.3-2.3 2.3zM434.1 332l2.3-2.3 2.3 2.3-2.3 2.3zM436.4 330.6l2.3-2.3 2.3 2.3-2.3 2.3zM437.6 329.6l2.3-2.3 2.3 2.3-2.3 2.3zM443.1 331.3l2.3-2.3 2.3 2.3-2.3 2.3zM415.4 335.1l2.3-2.3 2.3 2.3-2.3 2.3zM418.4 335.2l2.3-2.3 2.3 2.3-2.3 2.3zM419.3 332.7l2.3-2.3 2.3 2.3-2.3 2.3zM421.7 332.3l2.3-2.3 2.3 2.3-2.3 2.3zM415.4 337.7l2.3-2.3 2.3 2.3-2.3 2.3zM417 336.6l2.3-2.3 2.3 2.3-2.3 2.3zM416.3 338.1l2.3-2.3 2.3 2.3-2.3 2.3zM418.1 340.4l2.3-2.3 2.3 2.3-2.3 2.3zM415.4 340.4l2.3-2.3 2.3 2.3-2.3 2.3zM415.5 346.1l2.3-2.3 2.3 2.3-2.3 2.3zM415.8 350.4l2.3-2.3 2.3 2.3-2.3 2.3zM420 359l2.3-2.3 2.3 2.3-2.3 2.3zM415.5 365l2.3-2.3 2.3 2.3-2.3 2.3zM416 368l2.3-2.3 2.3 2.3-2.3 2.3zM415.5 370l2.3-2.3 2.3 2.3-2.3 2.3z" fill="#000"/>
<path d="M416.6 274 L416.7 275.5 L416.7 277 L416.8 278.5 L416.9 280 L417.1 281.5 L417.3 283 L417.6 284.5 L418 286 L418.5 287.5 L419.1 289 L419.8 290.5 L420.6 292 L421.7 293.5 L422.9 295 L424.3 296.5 L425.8 298 L427.6 299.5 L429.5 301 L431.6 302.5 L433.7 304 L435.9 305.5 L438.1 307 L440.3 308.5 L442.3 310 L444.2 311.5 L445.9 313 L447.2 314.5 L448.2 316 L448.8 317.5 L449 319 L448.8 320.5 L448.2 322 L447.2 323.5 L445.9 325 L444.2 326.5 L442.3 328 L440.3 329.5 L438.1 331 L435.9 332.5 L433.7 334 L431.6 335.5 L429.5 337 L427.6 338.5 L425.8 340 L424.3 341.5 L422.9 343 L421.7 344.5 L420.6 346 L419.8 347.5 L419.1 349 L418.5 350.5 L418 352 L417.6 353.5 L417.3 355 L417.1 356.5 L416.9 358 L416.8 359.5 L416.7 361 L416.7 362.5 L416.6 364 L416.6 365.5 L416.5 367 L416.5 368.5 L416.5 370" fill="none" stroke="#4a4a4a" stroke-width="1.3"/>
<path d="M572.7 406l2.3-2.3 2.3 2.3-2.3 2.3zM570.7 393.1l2.3-2.3 2.3 2.3-2.3 2.3zM555.2 391.2l2.3-2.3 2.3 2.3-2.3 2.3zM574.1 387.2l2.3-2.3 2.3 2.3-2.3 2.3zM560 402.8l2.3-2.3 2.3 2.3-2.3 2.3zM569 381.4l2.3-2.3 2.3 2.3-2.3 2.3zM560.7 387.8l2.3-2.3 2.3 2.3-2.3 2.3zM558.7 382.3l2.3-2.3 2.3 2.3-2.3 2.3zM555.9 396.5l2.3-2.3 2.3 2.3-2.3 2.3zM558.1 396.4l2.3-2.3 2.3 2.3-2.3 2.3zM551.1 397.8l2.3-2.3 2.3 2.3-2.3 2.3zM572.9 400.5l2.3-2.3 2.3 2.3-2.3 2.3zM579.5 388.5l2.3-2.3 2.3 2.3-2.3 2.3zM557.5 390.3l2.3-2.3 2.3 2.3-2.3 2.3zM578.2 407.7l2.3-2.3 2.3 2.3-2.3 2.3zM555 378.6l2.3-2.3 2.3 2.3-2.3 2.3zM579.5 382.8l2.3-2.3 2.3 2.3-2.3 2.3zM576.8 389.1l2.3-2.3 2.3 2.3-2.3 2.3zM561.2 379.1l2.3-2.3 2.3 2.3-2.3 2.3zM576.2 378.8l2.3-2.3 2.3 2.3-2.3 2.3zM555.1 372.2l2.3-2.3 2.3 2.3-2.3 2.3zM557.6 389.7l2.3-2.3 2.3 2.3-2.3 2.3zM567.9 403.8l2.3-2.3 2.3 2.3-2.3 2.3zM555.2 393.6l2.3-2.3 2.3 2.3-2.3 2.3zM563.5 393.5l2.3-2.3 2.3 2.3-2.3 2.3zM555.5 381.2l2.3-2.3 2.3 2.3-2.3 2.3zM561.1 384.7l2.3-2.3 2.3 2.3-2.3 2.3zM555.9 408.4l2.3-2.3 2.3 2.3-2.3 2.3zM578.7 377.9l2.3-2.3 2.3 2.3-2.3 2.3zM554.2 388l2.3-2.3 2.3 2.3-2.3 2.3zM578.4 391.2l2.3-2.3 2.3 2.3-2.3 2.3zM571.4 387l2.3-2.3 2.3 2.3-2.3 2.3zM559.6 390.5l2.3-2.3 2.3 2.3-2.3 2.3zM558.7 399.7l2.3-2.3 2.3 2.3-2.3 2.3zM581.4 390.6l2.3-2.3 2.3 2.3-2.3 2.3zM581.6 397.5l2.3-2.3 2.3 2.3-2.3 2.3zM559.7 391.9l2.3-2.3 2.3 2.3-2.3 2.3zM578.5 385.2l2.3-2.3 2.3 2.3-2.3 2.3zM559.8 404.1l2.3-2.3 2.3 2.3-2.3 2.3zM581 393.8l2.3-2.3 2.3 2.3-2.3 2.3zM561.3 407.4l2.3-2.3 2.3 2.3-2.3 2.3zM555 389.5l2.3-2.3 2.3 2.3-2.3 2.3zM567 408.3l2.3-2.3 2.3 2.3-2.3 2.3zM556.5 387.8l2.3-2.3 2.3 2.3-2.3 2.3zM557.5 365.2l2.3-2.3 2.3 2.3-2.3 2.3zM568.4 397.1l2.3-2.3 2.3 2.3-2.3 2.3zM574.6 392l2.3-2.3 2.3 2.3-2.3 2.3zM572.8 392.8l2.3-2.3 2.3 2.3-2.3 2.3zM553.4 389l2.3-2.3 2.3 2.3-2.3 2.3zM569.6 391.7l2.3-2.3 2.3 2.3-2.3 2.3zM557.1 378.7l2.3-2.3 2.3 2.3-2.3 2.3zM569.7 387.7l2.3-2.3 2.3 2.3-2.3 2.3zM568.8 382.2l2.3-2.3 2.3 2.3-2.3 2.3zM557 368.1l2.3-2.3 2.3 2.3-2.3 2.3zM563.4 403.9l2.3-2.3 2.3 2.3-2.3 2.3zM573.1 394.7l2.3-2.3 2.3 2.3-2.3 2.3zM561.1 406.4l2.3-2.3 2.3 2.3-2.3 2.3zM576.8 394.3l2.3-2.3 2.3 2.3-2.3 2.3zM551.2 395.9l2.3-2.3 2.3 2.3-2.3 2.3zM578.9 377.9l2.3-2.3 2.3 2.3-2.3 2.3zM559 365.4l2.3-2.3 2.3 2.3-2.3 2.3zM556.5 390.8l2.3-2.3 2.3 2.3-2.3 2.3zM555.8 392.7l2.3-2.3 2.3 2.3-2.3 2.3zM562.2 378.3l2.3-2.3 2.3 2.3-2.3 2.3zM566.8 386.6l2.3-2.3 2.3 2.3-2.3 2.3zM564.5 386.9l2.3-2.3 2.3 2.3-2.3 2.3zM572.9 381.9l2.3-2.3 2.3 2.3-2.3 2.3zM576 387l2.3-2.3 2.3 2.3-2.3 2.3zM572.7 393.9l2.3-2.3 2.3 2.3-2.3 2.3zM562.5 380.3l2.3-2.3 2.3 2.3-2.3 2.3zM577.8 387.5l2.3-2.3 2.3 2.3-2.3 2.3zM580.3 383.6l2.3-2.3 2.3 2.3-2.3 2.3zM567.1 374.3l2.3-2.3 2.3 2.3-2.3 2.3zM567.4 387.9l2.3-2.3 2.3 2.3-2.3 2.3zM557.6 391.2l2.3-2.3 2.3 2.3-2.3 2.3zM558.5 389.6l2.3-2.3 2.3 2.3-2.3 2.3zM576 392.2l2.3-2.3 2.3 2.3-2.3 2.3zM572.4 392.4l2.3-2.3 2.3 2.3-2.3 2.3zM556.7 388.4l2.3-2.3 2.3 2.3-2.3 2.3zM568.6 402.3l2.3-2.3 2.3 2.3-2.3 2.3zM566.9 389.2l2.3-2.3 2.3 2.3-2.3 2.3zM577.7 386l2.3-2.3 2.3 2.3-2.3 2.3zM572.9 382.6l2.3-2.3 2.3 2.3-2.3 2.3zM566 392.9l2.3-2.3 2.3 2.3-2.3 2.3zM566.2 389.1l2.3-2.3 2.3 2.3-2.3 2.3zM563.3 386.5l2.3-2.3 2.3 2.3-2.3 2.3zM554.9 393l2.3-2.3 2.3 2.3-2.3 2.3zM555.3 369.2l2.3-2.3 2.3 2.3-2.3 2.3zM568.5 375.6l2.3-2.3 2.3 2.3-2.3 2.3zM576.3 387.4l2.3-2.3 2.3 2.3-2.3 2.3zM579.8 380.9l2.3-2.3 2.3 2.3-2.3 2.3zM576.7 378.7l2.3-2.3 2.3 2.3-2.3 2.3zM567 394.9l2.3-2.3 2.3 2.3-2.3 2.3zM574.8 366.7l2.3-2.3 2.3 2.3-2.3 2.3zM561.2 403.5l2.3-2.3 2.3 2.3-2.3 2.3zM564.2 388.1l2.3-2.3 2.3 2.3-2.3 2.3zM581.1 397.4l2.3-2.3 2.3 2.3-2.3 2.3zM576 395.6l2.3-2.3 2.3 2.3-2.3 2.3zM577 364.6l2.3-2.3 2.3 2.3-2.3 2.3zM580.4 400l2.3-2.3 2.3 2.3-2.3 2.3zM579.7 391.9l2.3-2.3 2.3 2.3-2.3 2.3zM570.3 387.6l2.3-2.3 2.3 2.3-2.3 2.3zM562 399l2.3-2.3 2.3 2.3-2.3 2.3zM564.1 383.4l2.3-2.3 2.3 2.3-2.3 2.3zM566.3 386.7l2.3-2.3 2.3 2.3-2.3 2.3zM580.8 393.5l2.3-2.3 2.3 2.3-2.3 2.3zM574.8 388.3l2.3-2.3 2.3 2.3-2.3 2.3zM575.8 401.9l2.3-2.3 2.3 2.3-2.3 2.3zM578.1 381.5l2.3-2.3 2.3 2.3-2.3 2.3zM570.6 389.7l2.3-2.3 2.3 2.3-2.3 2.3zM558.9 385.6l2.3-2.3 2.3 2.3-2.3 2.3zM567.5 383.7l2.3-2.3 2.3 2.3-2.3 2.3zM579.4 379.6l2.3-2.3 2.3 2.3-2.3 2.3zM566.8 381.5l2.3-2.3 2.3 2.3-2.3 2.3zM564.1 381.7l2.3-2.3 2.3 2.3-2.3 2.3zM560.2 396.1l2.3-2.3 2.3 2.3-2.3 2.3zM570.8 384.7l2.3-2.3 2.3 2.3-2.3 2.3zM580.3 398.2l2.3-2.3 2.3 2.3-2.3 2.3zM566.6 397.6l2.3-2.3 2.3 2.3-2.3 2.3zM567.2 386.1l2.3-2.3 2.3 2.3-2.3 2.3zM555.3 399.7l2.3-2.3 2.3 2.3-2.3 2.3zM559.8 391.7l2.3-2.3 2.3 2.3-2.3 2.3zM563.3 391.6l2.3-2.3 2.3 2.3-2.3 2.3zM553.4 385.5l2.3-2.3 2.3 2.3-2.3 2.3zM567.6 395.5l2.3-2.3 2.3 2.3-2.3 2.3zM568.4 395.6l2.3-2.3 2.3 2.3-2.3 2.3zM570.9 374.7l2.3-2.3 2.3 2.3-2.3 2.3zM565 392.7l2.3-2.3 2.3 2.3-2.3 2.3zM567.7 404l2.3-2.3 2.3 2.3-2.3 2.3zM560.3 378.1l2.3-2.3 2.3 2.3-2.3 2.3zM558.2 379.4l2.3-2.3 2.3 2.3-2.3 2.3zM562.6 389.8l2.3-2.3 2.3 2.3-2.3 2.3zM568.9 400.5l2.3-2.3 2.3 2.3-2.3 2.3zM577.4 397.7l2.3-2.3 2.3 2.3-2.3 2.3zM558.1 388.3l2.3-2.3 2.3 2.3-2.3 2.3zM559.5 375.5l2.3-2.3 2.3 2.3-2.3 2.3zM581.3 383l2.3-2.3 2.3 2.3-2.3 2.3zM555.6 382.2l2.3-2.3 2.3 2.3-2.3 2.3zM552.8 405.7l2.3-2.3 2.3 2.3-2.3 2.3zM552.6 395.7l2.3-2.3 2.3 2.3-2.3 2.3zM562.7 378.9l2.3-2.3 2.3 2.3-2.3 2.3zM554.1 370.8l2.3-2.3 2.3 2.3-2.3 2.3zM557.7 394.1l2.3-2.3 2.3 2.3-2.3 2.3zM555.5 404.9l2.3-2.3 2.3 2.3-2.3 2.3zM561.1 382.9l2.3-2.3 2.3 2.3-2.3 2.3zM569.8 377.6l2.3-2.3 2.3 2.3-2.3 2.3zM577 400.7l2.3-2.3 2.3 2.3-2.3 2.3zM573.6 393.2l2.3-2.3 2.3 2.3-2.3 2.3zM573.7 375.5l2.3-2.3 2.3 2.3-2.3 2.3zM575 388.3l2.3-2.3 2.3 2.3-2.3 2.3zM572.7 375l2.3-2.3 2.3 2.3-2.3 2.3zM577.7 392.4l2.3-2.3 2.3 2.3-2.3 2.3zM550.8 384.6l2.3-2.3 2.3 2.3-2.3 2.3zM566.1 388.9l2.3-2.3 2.3 2.3-2.3 2.3zM580.5 373l2.3-2.3 2.3 2.3-2.3 2.3zM575 377.2l2.3-2.3 2.3 2.3-2.3 2.3zM577.8 382.5l2.3-2.3 2.3 2.3-2.3 2.3zM564.7 379.1l2.3-2.3 2.3 2.3-2.3 2.3zM564.9 380.8l2.3-2.3 2.3 2.3-2.3 2.3zM562.8 386l2.3-2.3 2.3 2.3-2.3 2.3zM567.9 378.5l2.3-2.3 2.3 2.3-2.3 2.3zM575.1 380.2l2.3-2.3 2.3 2.3-2.3 2.3zM577 393.9l2.3-2.3 2.3 2.3-2.3 2.3zM556.4 375.6l2.3-2.3 2.3 2.3-2.3 2.3zM560.1 387.5l2.3-2.3 2.3 2.3-2.3 2.3zM568.7 396.3l2.3-2.3 2.3 2.3-2.3 2.3zM553.4 398.9l2.3-2.3 2.3 2.3-2.3 2.3zM576.8 396l2.3-2.3 2.3 2.3-2.3 2.3zM576.7 382.8l2.3-2.3 2.3 2.3-2.3 2.3zM563.9 394.7l2.3-2.3 2.3 2.3-2.3 2.3zM578.9 385.6l2.3-2.3 2.3 2.3-2.3 2.3zM568.2 390.9l2.3-2.3 2.3 2.3-2.3 2.3zM566.1 387.7l2.3-2.3 2.3 2.3-2.3 2.3zM567.4 404.1l2.3-2.3 2.3 2.3-2.3 2.3zM581.6 378.4l2.3-2.3 2.3 2.3-2.3 2.3zM571.9 374.3l2.3-2.3 2.3 2.3-2.3 2.3zM562.8 386l2.3-2.3 2.3 2.3-2.3 2.3zM561.6 378.2l2.3-2.3 2.3 2.3-2.3 2.3zM580.1 399l2.3-2.3 2.3 2.3-2.3 2.3zM553.8 381.5l2.3-2.3 2.3 2.3-2.3 2.3zM562.3 375.5l2.3-2.3 2.3 2.3-2.3 2.3zM568.5 376l2.3-2.3 2.3 2.3-2.3 2.3zM578 395.7l2.3-2.3 2.3 2.3-2.3 2.3zM564.3 399.9l2.3-2.3 2.3 2.3-2.3 2.3zM570.1 384.7l2.3-2.3 2.3 2.3-2.3 2.3zM567.1 397.6l2.3-2.3 2.3 2.3-2.3 2.3zM576 387.3l2.3-2.3 2.3 2.3-2.3 2.3zM581 392.1l2.3-2.3 2.3 2.3-2.3 2.3zM576.3 396l2.3-2.3 2.3 2.3-2.3 2.3zM578.4 382.2l2.3-2.3 2.3 2.3-2.3 2.3zM572.1 387.1l2.3-2.3 2.3 2.3-2.3 2.3zM578.2 401.9l2.3-2.3 2.3 2.3-2.3 2.3zM559.7 381.9l2.3-2.3 2.3 2.3-2.3 2.3zM566.6 390.6l2.3-2.3 2.3 2.3-2.3 2.3zM556.4 380.4l2.3-2.3 2.3 2.3-2.3 2.3zM570.2 387.3l2.3-2.3 2.3 2.3-2.3 2.3zM581.5 379.3l2.3-2.3 2.3 2.3-2.3 2.3zM570.4 381.3l2.3-2.3 2.3 2.3-2.3 2.3zM575.1 398.4l2.3-2.3 2.3 2.3-2.3 2.3zM560.2 390.5l2.3-2.3 2.3 2.3-2.3 2.3zM560.1 387.1l2.3-2.3 2.3 2.3-2.3 2.3zM576.8 386.6l2.3-2.3 2.3 2.3-2.3 2.3zM556.8 373.5l2.3-2.3 2.3 2.3-2.3 2.3zM566.1 379.1l2.3-2.3 2.3 2.3-2.3 2.3zM570.8 379.3l2.3-2.3 2.3 2.3-2.3 2.3zM567.2 384.7l2.3-2.3 2.3 2.3-2.3 2.3zM563.4 401.9l2.3-2.3 2.3 2.3-2.3 2.3zM554.5 387.2l2.3-2.3 2.3 2.3-2.3 2.3zM554 397.8l2.3-2.3 2.3 2.3-2.3 2.3zM553.8 403l2.3-2.3 2.3 2.3-2.3 2.3zM576.2 393.9l2.3-2.3 2.3 2.3-2.3 2.3zM569.7 399.2l2.3-2.3 2.3 2.3-2.3 2.3zM551.1 388.9l2.3-2.3 2.3 2.3-2.3 2.3zM574.6 383.8l2.3-2.3 2.3 2.3-2.3 2.3zM561.7 379.8l2.3-2.3 2.3 2.3-2.3 2.3zM556 403.1l2.3-2.3 2.3 2.3-2.3 2.3zM578.7 387l2.3-2.3 2.3 2.3-2.3 2.3zM568.8 392.5l2.3-2.3 2.3 2.3-2.3 2.3zM562.7 380.5l2.3-2.3 2.3 2.3-2.3 2.3zM552.4 397.3l2.3-2.3 2.3 2.3-2.3 2.3zM580.4 398.7l2.3-2.3 2.3 2.3-2.3 2.3zM564.3 378.3l2.3-2.3 2.3 2.3-2.3 2.3zM552.1 381.4l2.3-2.3 2.3 2.3-2.3 2.3zM579.6 381.8l2.3-2.3 2.3 2.3-2.3 2.3zM578.6 393.3l2.3-2.3 2.3 2.3-2.3 2.3zM576 379.9l2.3-2.3 2.3 2.3-2.3 2.3zM580.5 382.6l2.3-2.3 2.3 2.3-2.3 2.3zM566.1 401.6l2.3-2.3 2.3 2.3-2.3 2.3zM562.8 395.3l2.3-2.3 2.3 2.3-2.3 2.3zM573 384.9l2.3-2.3 2.3 2.3-2.3 2.3zM577.8 389.2l2.3-2.3 2.3 2.3-2.3 2.3zM565.7 396.8l2.3-2.3 2.3 2.3-2.3 2.3zM556.1 389.7l2.3-2.3 2.3 2.3-2.3 2.3zM561.8 379.6l2.3-2.3 2.3 2.3-2.3 2.3zM559.7 398.9l2.3-2.3 2.3 2.3-2.3 2.3zM567.2 382.5l2.3-2.3 2.3 2.3-2.3 2.3zM562.7 385.5l2.3-2.3 2.3 2.3-2.3 2.3zM554.5 384.2l2.3-2.3 2.3 2.3-2.3 2.3zM576.3 389.8l2.3-2.3 2.3 2.3-2.3 2.3zM556.6 382.6l2.3-2.3 2.3 2.3-2.3 2.3zM559.5 394.1l2.3-2.3 2.3 2.3-2.3 2.3zM571.3 387.7l2.3-2.3 2.3 2.3-2.3 2.3zM561.3 390.4l2.3-2.3 2.3 2.3-2.3 2.3zM553.6 397.1l2.3-2.3 2.3 2.3-2.3 2.3zM559.1 401.8l2.3-2.3 2.3 2.3-2.3 2.3zM564.4 390.4l2.3-2.3 2.3 2.3-2.3 2.3zM576.6 382.5l2.3-2.3 2.3 2.3-2.3 2.3z" fill="#000"/>
<path d="M551.7 356 L551.8 357.5 L552 359 L552.2 360.5 L552.6 362 L553.1 363.5 L553.9 365 L554.8 366.5 L556.1 368 L557.7 369.5 L559.6 371 L561.9 372.5 L564.5 374 L567.4 375.5 L570.4 377 L573.5 378.5 L576.4 380 L579.1 381.5 L581.3 383 L582.9 384.5 L583.8 386 L584 387.5 L583.3 389 L581.9 390.5 L579.9 392 L577.3 393.5 L574.5 395 L571.4 396.5 L568.4 398 L565.4 399.5 L562.7 401 L560.3 402.5 L558.3 404 L556.6 405.5 L555.2 407 L554.1 408.5 L553.3 410 L552.8 411.5 L552.3 413 L552 414.5 L551.8 416 L551.7 417.5" fill="none" stroke="#4a4a4a" stroke-width="1.3"/>
<line x1="119" y1="151" x2="254" y2="289.5" stroke="#CC0010" stroke-width="2.15" stroke-dasharray="11 11" stroke-dashoffset="18.5"/>
<line x1="254" y1="289.5" x2="389" y2="319.5" stroke="#CC0010" stroke-width="2.15" stroke-dasharray="11 11" stroke-dashoffset="18.5"/>
<line x1="389" y1="319.5" x2="524" y2="386.5" stroke="#CC0010" stroke-width="2.15" stroke-dasharray="11 11" stroke-dashoffset="18.5"/>
<path d="M98.5 152.5h41" stroke="#000" stroke-width="1.9"/>
<circle cx="119" cy="151" r="2.7" fill="none" stroke="#555" stroke-width="0.7"/>
<path d="M233.5 289.8h41" stroke="#000" stroke-width="1.9"/>
<circle cx="254" cy="289.5" r="2.7" fill="none" stroke="#555" stroke-width="0.7"/>
<path d="M368.5 318h41" stroke="#000" stroke-width="1.9"/>
<circle cx="389" cy="319.5" r="2.7" fill="none" stroke="#555" stroke-width="0.7"/>
<path d="M503.5 387.8h41" stroke="#000" stroke-width="1.9"/>
<circle cx="524" cy="386.5" r="2.7" fill="none" stroke="#555" stroke-width="0.7"/>
</g>
<text transform="translate(2.5 27) scale(0.95 1)" font-family="'Liberation Sans',Arial,sans-serif" font-weight="bold" font-size="34" fill="#000">A</text>
<g transform="translate(792 0)">
<path d="M78.8 45.9V481.6H619" fill="none" stroke="#000" stroke-width="1.7"/>
<path d="M78.8 481.6h-8.6M78.8 456h-4.8M78.8 430.4h-8.6M78.8 404.8h-4.8M78.8 379.2h-8.6M78.8 353.7h-4.8M78.8 328.1h-8.6M78.8 302.5h-4.8M78.8 276.9h-8.6M78.8 251.3h-4.8M78.8 225.7h-8.6M78.8 200.1h-4.8M78.8 174.5h-8.6M78.8 149h-4.8M78.8 123.4h-8.6M78.8 97.8h-4.8M78.8 72.2h-8.6M78.8 46.6h-4.8M146 481.6v9M281 481.6v9M416 481.6v9M551 481.6v9" fill="none" stroke="#000" stroke-width="1.5"/>
<g font-family="'Liberation Serif','Times New Roman',serif" font-size="27" fill="#000">
<text transform="translate(62.6 489.7) scale(0.925 1)" text-anchor="end">10</text>
<text transform="translate(62.6 438.5) scale(0.925 1)" text-anchor="end">15</text>
<text transform="translate(62.6 387.3) scale(0.925 1)" text-anchor="end">20</text>
<text transform="translate(62.6 336.2) scale(0.925 1)" text-anchor="end">25</text>
<text transform="translate(62.6 285) scale(0.925 1)" text-anchor="end">30</text>
<text transform="translate(62.6 233.8) scale(0.925 1)" text-anchor="end">35</text>
<text transform="translate(62.6 182.6) scale(0.925 1)" text-anchor="end">40</text>
<text transform="translate(62.6 131.5) scale(0.925 1)" text-anchor="end">45</text>
<text transform="translate(62.6 80.3) scale(0.925 1)" text-anchor="end">50</text>
<text transform="translate(146 517) scale(0.925 1)" text-anchor="middle">A</text>
<text transform="translate(281 517) scale(0.925 1)" text-anchor="middle">B</text>
<text transform="translate(416 517) scale(0.925 1)" text-anchor="middle">C</text>
<text transform="translate(551 517) scale(0.925 1)" text-anchor="middle">D</text>
<text transform="translate(26.4 264.3) rotate(-90) scale(0.93 1)" text-anchor="middle" font-size="30.8">b*</text>
</g>
<path d="M119 118.5V131.5M119 140.5V151.7M108.2 118.5h21.6M108.2 151.7h21.6" fill="none" stroke="#000" stroke-width="1.6"/>
<rect x="98.6" y="131.8" width="40.8" height="8.3" fill="#FAFAA0" stroke="#000" stroke-width="1.6" stroke-linejoin="round"/>
<path d="M254 261.5V286.5M254 303.5V327M243.2 261.5h21.6M243.2 327h21.6" fill="none" stroke="#000" stroke-width="1.6"/>
<rect x="233.6" y="286.9" width="40.8" height="16.3" fill="#A6DEA3" stroke="#000" stroke-width="1.6" stroke-linejoin="round"/>
<path d="M389 321.5V338.8M389 353V372M378.2 321.5h21.6M378.2 372h21.6" fill="none" stroke="#000" stroke-width="1.6"/>
<rect x="368.6" y="339.2" width="40.8" height="13.5" fill="#FAD3A0" stroke="#000" stroke-width="1.6" stroke-linejoin="round"/>
<path d="M524 378.5V394.3M524 408.5V425.5M513.2 378.5h21.6M513.2 425.5h21.6" fill="none" stroke="#000" stroke-width="1.6"/>
<rect x="503.6" y="394.7" width="40.8" height="13.5" fill="#555555" stroke="#000" stroke-width="1.6" stroke-linejoin="round"/>
<path d="M145.6 110.5l2.3-2.3 2.3 2.3-2.3 2.3zM145.8 111.7l2.3-2.3 2.3 2.3-2.3 2.3zM145.4 116.5l2.3-2.3 2.3 2.3-2.3 2.3zM147.4 119l2.3-2.3 2.3 2.3-2.3 2.3zM149.9 116.9l2.3-2.3 2.3 2.3-2.3 2.3zM151.9 118.9l2.3-2.3 2.3 2.3-2.3 2.3zM154.7 117.8l2.3-2.3 2.3 2.3-2.3 2.3zM145.3 120.8l2.3-2.3 2.3 2.3-2.3 2.3zM147.5 119.9l2.3-2.3 2.3 2.3-2.3 2.3zM149.5 121.4l2.3-2.3 2.3 2.3-2.3 2.3zM152.7 119l2.3-2.3 2.3 2.3-2.3 2.3zM145.5 122.3l2.3-2.3 2.3 2.3-2.3 2.3zM147.5 122l2.3-2.3 2.3 2.3-2.3 2.3zM150.5 122.2l2.3-2.3 2.3 2.3-2.3 2.3zM153.1 123.8l2.3-2.3 2.3 2.3-2.3 2.3zM144.8 124.8l2.3-2.3 2.3 2.3-2.3 2.3zM148.1 126l2.3-2.3 2.3 2.3-2.3 2.3zM149.9 126l2.3-2.3 2.3 2.3-2.3 2.3zM151.9 126.6l2.3-2.3 2.3 2.3-2.3 2.3zM154.9 124.5l2.3-2.3 2.3 2.3-2.3 2.3zM145.9 128.8l2.3-2.3 2.3 2.3-2.3 2.3zM147 127l2.3-2.3 2.3 2.3-2.3 2.3zM149.7 127.7l2.3-2.3 2.3 2.3-2.3 2.3zM152.1 128.5l2.3-2.3 2.3 2.3-2.3 2.3zM155.3 128.3l2.3-2.3 2.3 2.3-2.3 2.3zM156.6 127.9l2.3-2.3 2.3 2.3-2.3 2.3zM159 126.5l2.3-2.3 2.3 2.3-2.3 2.3zM162.1 127.4l2.3-2.3 2.3 2.3-2.3 2.3zM164.5 128.4l2.3-2.3 2.3 2.3-2.3 2.3zM144.8 131.6l2.3-2.3 2.3 2.3-2.3 2.3zM148.5 131.5l2.3-2.3 2.3 2.3-2.3 2.3zM150.5 130.4l2.3-2.3 2.3 2.3-2.3 2.3zM153 130l2.3-2.3 2.3 2.3-2.3 2.3zM155.5 130.5l2.3-2.3 2.3 2.3-2.3 2.3zM157.3 131.5l2.3-2.3 2.3 2.3-2.3 2.3zM159.5 130.5l2.3-2.3 2.3 2.3-2.3 2.3zM162 130.5l2.3-2.3 2.3 2.3-2.3 2.3zM164.7 129.5l2.3-2.3 2.3 2.3-2.3 2.3zM165.4 131.3l2.3-2.3 2.3 2.3-2.3 2.3zM168 130.8l2.3-2.3 2.3 2.3-2.3 2.3zM145.6 132.5l2.3-2.3 2.3 2.3-2.3 2.3zM147.5 133l2.3-2.3 2.3 2.3-2.3 2.3zM149.8 132.1l2.3-2.3 2.3 2.3-2.3 2.3zM152.7 132.5l2.3-2.3 2.3 2.3-2.3 2.3zM154.7 133.1l2.3-2.3 2.3 2.3-2.3 2.3zM156.7 132.7l2.3-2.3 2.3 2.3-2.3 2.3zM158.7 133.5l2.3-2.3 2.3 2.3-2.3 2.3zM162.2 133.5l2.3-2.3 2.3 2.3-2.3 2.3zM163.3 133.8l2.3-2.3 2.3 2.3-2.3 2.3zM166.1 134.2l2.3-2.3 2.3 2.3-2.3 2.3zM167.8 132.6l2.3-2.3 2.3 2.3-2.3 2.3zM170.3 131.9l2.3-2.3 2.3 2.3-2.3 2.3zM172.6 133.9l2.3-2.3 2.3 2.3-2.3 2.3zM145.2 135.8l2.3-2.3 2.3 2.3-2.3 2.3zM147.2 134.5l2.3-2.3 2.3 2.3-2.3 2.3zM151 136.7l2.3-2.3 2.3 2.3-2.3 2.3zM152.8 137.4l2.3-2.3 2.3 2.3-2.3 2.3zM154 135.9l2.3-2.3 2.3 2.3-2.3 2.3zM156.4 136l2.3-2.3 2.3 2.3-2.3 2.3zM160.1 136.4l2.3-2.3 2.3 2.3-2.3 2.3zM162.4 136.4l2.3-2.3 2.3 2.3-2.3 2.3zM163.4 134.7l2.3-2.3 2.3 2.3-2.3 2.3zM166.7 137l2.3-2.3 2.3 2.3-2.3 2.3zM167.9 136.3l2.3-2.3 2.3 2.3-2.3 2.3zM171.6 134.8l2.3-2.3 2.3 2.3-2.3 2.3zM145.9 137.9l2.3-2.3 2.3 2.3-2.3 2.3zM148.4 137.9l2.3-2.3 2.3 2.3-2.3 2.3zM150.2 138.1l2.3-2.3 2.3 2.3-2.3 2.3zM151.9 137l2.3-2.3 2.3 2.3-2.3 2.3zM154.9 139.5l2.3-2.3 2.3 2.3-2.3 2.3zM157.7 139.9l2.3-2.3 2.3 2.3-2.3 2.3zM159.3 137.4l2.3-2.3 2.3 2.3-2.3 2.3zM161.7 137.2l2.3-2.3 2.3 2.3-2.3 2.3zM163.3 138.3l2.3-2.3 2.3 2.3-2.3 2.3zM165.5 137l2.3-2.3 2.3 2.3-2.3 2.3zM167.9 139.2l2.3-2.3 2.3 2.3-2.3 2.3zM171.4 139.6l2.3-2.3 2.3 2.3-2.3 2.3zM173 137.8l2.3-2.3 2.3 2.3-2.3 2.3zM145.4 140.6l2.3-2.3 2.3 2.3-2.3 2.3zM148.1 142.1l2.3-2.3 2.3 2.3-2.3 2.3zM149.5 140.4l2.3-2.3 2.3 2.3-2.3 2.3zM152.5 140.6l2.3-2.3 2.3 2.3-2.3 2.3zM154 140.5l2.3-2.3 2.3 2.3-2.3 2.3zM157.8 142.4l2.3-2.3 2.3 2.3-2.3 2.3zM160.2 142.6l2.3-2.3 2.3 2.3-2.3 2.3zM162.2 139.7l2.3-2.3 2.3 2.3-2.3 2.3zM164.1 140.5l2.3-2.3 2.3 2.3-2.3 2.3zM167 141l2.3-2.3 2.3 2.3-2.3 2.3zM168.1 140.6l2.3-2.3 2.3 2.3-2.3 2.3zM170 140.1l2.3-2.3 2.3 2.3-2.3 2.3zM173 139.8l2.3-2.3 2.3 2.3-2.3 2.3zM145.6 143.4l2.3-2.3 2.3 2.3-2.3 2.3zM147.9 143.4l2.3-2.3 2.3 2.3-2.3 2.3zM149.5 144.9l2.3-2.3 2.3 2.3-2.3 2.3zM151.7 144.9l2.3-2.3 2.3 2.3-2.3 2.3zM154 143.8l2.3-2.3 2.3 2.3-2.3 2.3zM157 143.9l2.3-2.3 2.3 2.3-2.3 2.3zM159.4 142.5l2.3-2.3 2.3 2.3-2.3 2.3zM161.8 142.4l2.3-2.3 2.3 2.3-2.3 2.3zM163.1 143.5l2.3-2.3 2.3 2.3-2.3 2.3zM166.3 144.4l2.3-2.3 2.3 2.3-2.3 2.3zM167.8 145.3l2.3-2.3 2.3 2.3-2.3 2.3zM170.1 144.8l2.3-2.3 2.3 2.3-2.3 2.3zM172.5 145.2l2.3-2.3 2.3 2.3-2.3 2.3zM144.8 147.2l2.3-2.3 2.3 2.3-2.3 2.3zM147.3 145.9l2.3-2.3 2.3 2.3-2.3 2.3zM150.3 145.4l2.3-2.3 2.3 2.3-2.3 2.3zM152.8 146.1l2.3-2.3 2.3 2.3-2.3 2.3zM154.9 147.5l2.3-2.3 2.3 2.3-2.3 2.3zM157.8 147.5l2.3-2.3 2.3 2.3-2.3 2.3zM159.7 145.8l2.3-2.3 2.3 2.3-2.3 2.3zM161.9 147.3l2.3-2.3 2.3 2.3-2.3 2.3zM163.7 147.1l2.3-2.3 2.3 2.3-2.3 2.3zM166.6 144.8l2.3-2.3 2.3 2.3-2.3 2.3zM167.8 146.5l2.3-2.3 2.3 2.3-2.3 2.3zM170.1 147.7l2.3-2.3 2.3 2.3-2.3 2.3zM172.7 145.3l2.3-2.3 2.3 2.3-2.3 2.3zM145.6 147.7l2.3-2.3 2.3 2.3-2.3 2.3zM147.1 149.9l2.3-2.3 2.3 2.3-2.3 2.3zM150.2 148.2l2.3-2.3 2.3 2.3-2.3 2.3zM152.2 147.8l2.3-2.3 2.3 2.3-2.3 2.3zM154.8 149.5l2.3-2.3 2.3 2.3-2.3 2.3zM157.8 147.3l2.3-2.3 2.3 2.3-2.3 2.3zM158.7 148.9l2.3-2.3 2.3 2.3-2.3 2.3zM162.1 147.4l2.3-2.3 2.3 2.3-2.3 2.3zM164.5 149.5l2.3-2.3 2.3 2.3-2.3 2.3zM166.2 147.8l2.3-2.3 2.3 2.3-2.3 2.3zM168.3 150.1l2.3-2.3 2.3 2.3-2.3 2.3zM170 148.4l2.3-2.3 2.3 2.3-2.3 2.3zM145.7 150l2.3-2.3 2.3 2.3-2.3 2.3zM147.5 151.4l2.3-2.3 2.3 2.3-2.3 2.3zM149.9 151l2.3-2.3 2.3 2.3-2.3 2.3zM152.5 151l2.3-2.3 2.3 2.3-2.3 2.3zM154.6 153.1l2.3-2.3 2.3 2.3-2.3 2.3zM156.4 152l2.3-2.3 2.3 2.3-2.3 2.3zM158.6 151.5l2.3-2.3 2.3 2.3-2.3 2.3zM145.6 155.6l2.3-2.3 2.3 2.3-2.3 2.3zM145.7 160l2.3-2.3 2.3 2.3-2.3 2.3z" fill="#000"/>
<path d="M146.5 104 L146.5 105.5 L146.5 107 L146.5 108.5 L146.5 110 L146.5 111.5 L146.6 113 L146.7 114.5 L146.9 116 L147.2 117.5 L147.7 119 L148.5 120.5 L149.8 122 L151.6 123.5 L154 125 L157.1 126.5 L160.7 128 L164.8 129.5 L169 131 L172.9 132.5 L176.1 134 L178.3 135.5 L179 137 L178.3 138.5 L176.1 140 L172.9 141.5 L169 143 L164.8 144.5 L160.7 146 L157.1 147.5 L154 149 L151.6 150.5 L149.8 152 L148.5 153.5 L147.7 155 L147.2 156.5 L146.9 158 L146.7 159.5 L146.6 161" fill="none" stroke="#000" stroke-width="1.5"/>
<path d="M280.6 254.5l2.3-2.3 2.3 2.3-2.3 2.3zM281.3 258.3l2.3-2.3 2.3 2.3-2.3 2.3zM283.3 258.5l2.3-2.3 2.3 2.3-2.3 2.3zM285.3 257.2l2.3-2.3 2.3 2.3-2.3 2.3zM279.7 259.8l2.3-2.3 2.3 2.3-2.3 2.3zM283.7 260.2l2.3-2.3 2.3 2.3-2.3 2.3zM284.6 259.5l2.3-2.3 2.3 2.3-2.3 2.3zM279.6 264.1l2.3-2.3 2.3 2.3-2.3 2.3zM282.7 263.1l2.3-2.3 2.3 2.3-2.3 2.3zM284.5 261.5l2.3-2.3 2.3 2.3-2.3 2.3zM280.9 265.7l2.3-2.3 2.3 2.3-2.3 2.3zM285.9 265.8l2.3-2.3 2.3 2.3-2.3 2.3zM280.6 269.7l2.3-2.3 2.3 2.3-2.3 2.3zM283.3 267.9l2.3-2.3 2.3 2.3-2.3 2.3zM284.3 268.1l2.3-2.3 2.3 2.3-2.3 2.3zM280.1 269.2l2.3-2.3 2.3 2.3-2.3 2.3zM282.4 271.4l2.3-2.3 2.3 2.3-2.3 2.3zM284.9 269.7l2.3-2.3 2.3 2.3-2.3 2.3zM280.8 272.3l2.3-2.3 2.3 2.3-2.3 2.3zM283.6 273.6l2.3-2.3 2.3 2.3-2.3 2.3zM285.7 274.5l2.3-2.3 2.3 2.3-2.3 2.3zM279.9 276l2.3-2.3 2.3 2.3-2.3 2.3zM283.1 277.3l2.3-2.3 2.3 2.3-2.3 2.3zM284.8 276.7l2.3-2.3 2.3 2.3-2.3 2.3zM287.2 276.5l2.3-2.3 2.3 2.3-2.3 2.3zM288.9 275.6l2.3-2.3 2.3 2.3-2.3 2.3zM292.2 275.4l2.3-2.3 2.3 2.3-2.3 2.3zM294.5 275.1l2.3-2.3 2.3 2.3-2.3 2.3zM295.7 277.3l2.3-2.3 2.3 2.3-2.3 2.3zM299.8 274.5l2.3-2.3 2.3 2.3-2.3 2.3zM301.6 275.4l2.3-2.3 2.3 2.3-2.3 2.3zM302.8 274.8l2.3-2.3 2.3 2.3-2.3 2.3zM281.1 278.3l2.3-2.3 2.3 2.3-2.3 2.3zM283 278.7l2.3-2.3 2.3 2.3-2.3 2.3zM285.3 278l2.3-2.3 2.3 2.3-2.3 2.3zM287 279.2l2.3-2.3 2.3 2.3-2.3 2.3zM290.2 277.9l2.3-2.3 2.3 2.3-2.3 2.3zM292.9 278.4l2.3-2.3 2.3 2.3-2.3 2.3zM294.3 279.9l2.3-2.3 2.3 2.3-2.3 2.3zM295.7 278.4l2.3-2.3 2.3 2.3-2.3 2.3zM299.4 278.1l2.3-2.3 2.3 2.3-2.3 2.3zM304 277.2l2.3-2.3 2.3 2.3-2.3 2.3zM305.1 277.1l2.3-2.3 2.3 2.3-2.3 2.3zM279.9 282.5l2.3-2.3 2.3 2.3-2.3 2.3zM282.2 280.1l2.3-2.3 2.3 2.3-2.3 2.3zM285.9 280l2.3-2.3 2.3 2.3-2.3 2.3zM287.9 280.3l2.3-2.3 2.3 2.3-2.3 2.3zM292.2 280.6l2.3-2.3 2.3 2.3-2.3 2.3zM294.2 280.5l2.3-2.3 2.3 2.3-2.3 2.3zM295.9 281.8l2.3-2.3 2.3 2.3-2.3 2.3zM299.2 280.8l2.3-2.3 2.3 2.3-2.3 2.3zM300.4 281.3l2.3-2.3 2.3 2.3-2.3 2.3zM304.3 282.5l2.3-2.3 2.3 2.3-2.3 2.3zM305.3 280.3l2.3-2.3 2.3 2.3-2.3 2.3zM280 282.8l2.3-2.3 2.3 2.3-2.3 2.3zM283.1 283.1l2.3-2.3 2.3 2.3-2.3 2.3zM287.5 282.6l2.3-2.3 2.3 2.3-2.3 2.3zM290.4 283l2.3-2.3 2.3 2.3-2.3 2.3zM292.6 283l2.3-2.3 2.3 2.3-2.3 2.3zM294.3 285l2.3-2.3 2.3 2.3-2.3 2.3zM296.9 284l2.3-2.3 2.3 2.3-2.3 2.3zM299 284.9l2.3-2.3 2.3 2.3-2.3 2.3zM301.9 283.3l2.3-2.3 2.3 2.3-2.3 2.3zM304.2 282.7l2.3-2.3 2.3 2.3-2.3 2.3zM306.7 283.1l2.3-2.3 2.3 2.3-2.3 2.3zM281.4 284.7l2.3-2.3 2.3 2.3-2.3 2.3zM282.2 287.1l2.3-2.3 2.3 2.3-2.3 2.3zM284.5 286.9l2.3-2.3 2.3 2.3-2.3 2.3zM287.1 287.6l2.3-2.3 2.3 2.3-2.3 2.3zM290.4 287.8l2.3-2.3 2.3 2.3-2.3 2.3zM291.5 287.2l2.3-2.3 2.3 2.3-2.3 2.3zM293.5 286.3l2.3-2.3 2.3 2.3-2.3 2.3zM296.5 285l2.3-2.3 2.3 2.3-2.3 2.3zM299.8 285.7l2.3-2.3 2.3 2.3-2.3 2.3zM300.5 286.3l2.3-2.3 2.3 2.3-2.3 2.3zM303.4 285.3l2.3-2.3 2.3 2.3-2.3 2.3zM305.1 287.1l2.3-2.3 2.3 2.3-2.3 2.3zM280.2 288.9l2.3-2.3 2.3 2.3-2.3 2.3zM282.5 288l2.3-2.3 2.3 2.3-2.3 2.3zM287.8 288.2l2.3-2.3 2.3 2.3-2.3 2.3zM289.3 287.5l2.3-2.3 2.3 2.3-2.3 2.3zM292 288.6l2.3-2.3 2.3 2.3-2.3 2.3zM294.1 287.3l2.3-2.3 2.3 2.3-2.3 2.3zM296.9 289l2.3-2.3 2.3 2.3-2.3 2.3zM299.2 290.4l2.3-2.3 2.3 2.3-2.3 2.3zM301.6 288.6l2.3-2.3 2.3 2.3-2.3 2.3zM303.4 290.4l2.3-2.3 2.3 2.3-2.3 2.3zM305.6 288.6l2.3-2.3 2.3 2.3-2.3 2.3zM308.8 287.3l2.3-2.3 2.3 2.3-2.3 2.3zM283 291.1l2.3-2.3 2.3 2.3-2.3 2.3zM284.6 290.3l2.3-2.3 2.3 2.3-2.3 2.3zM287.9 292.8l2.3-2.3 2.3 2.3-2.3 2.3zM290 290.9l2.3-2.3 2.3 2.3-2.3 2.3zM292.1 290.9l2.3-2.3 2.3 2.3-2.3 2.3zM297 292.6l2.3-2.3 2.3 2.3-2.3 2.3zM299.1 293.1l2.3-2.3 2.3 2.3-2.3 2.3zM301.4 292.3l2.3-2.3 2.3 2.3-2.3 2.3zM303.9 291.2l2.3-2.3 2.3 2.3-2.3 2.3zM306 292.1l2.3-2.3 2.3 2.3-2.3 2.3zM308.3 291.6l2.3-2.3 2.3 2.3-2.3 2.3zM280.1 295.4l2.3-2.3 2.3 2.3-2.3 2.3zM283.2 294.2l2.3-2.3 2.3 2.3-2.3 2.3zM284.6 293l2.3-2.3 2.3 2.3-2.3 2.3zM289.7 294.2l2.3-2.3 2.3 2.3-2.3 2.3zM291.5 293.1l2.3-2.3 2.3 2.3-2.3 2.3zM294.2 294.5l2.3-2.3 2.3 2.3-2.3 2.3zM297.3 295.3l2.3-2.3 2.3 2.3-2.3 2.3zM298.7 295.2l2.3-2.3 2.3 2.3-2.3 2.3zM300.5 293l2.3-2.3 2.3 2.3-2.3 2.3zM302.8 293.6l2.3-2.3 2.3 2.3-2.3 2.3zM305.8 293.9l2.3-2.3 2.3 2.3-2.3 2.3zM281.4 297.3l2.3-2.3 2.3 2.3-2.3 2.3zM282.8 297.7l2.3-2.3 2.3 2.3-2.3 2.3zM284.5 297.3l2.3-2.3 2.3 2.3-2.3 2.3zM287.4 295.9l2.3-2.3 2.3 2.3-2.3 2.3zM289.4 296.3l2.3-2.3 2.3 2.3-2.3 2.3zM291.5 296.9l2.3-2.3 2.3 2.3-2.3 2.3zM293.7 297.4l2.3-2.3 2.3 2.3-2.3 2.3zM296.3 295.9l2.3-2.3 2.3 2.3-2.3 2.3zM298.2 297.1l2.3-2.3 2.3 2.3-2.3 2.3zM300.7 296.5l2.3-2.3 2.3 2.3-2.3 2.3zM303.7 296.3l2.3-2.3 2.3 2.3-2.3 2.3zM305.7 296.3l2.3-2.3 2.3 2.3-2.3 2.3zM280.3 299.8l2.3-2.3 2.3 2.3-2.3 2.3zM282.5 298.9l2.3-2.3 2.3 2.3-2.3 2.3zM285.9 298.3l2.3-2.3 2.3 2.3-2.3 2.3zM289.5 299.8l2.3-2.3 2.3 2.3-2.3 2.3zM291.2 300.1l2.3-2.3 2.3 2.3-2.3 2.3zM294.3 299.3l2.3-2.3 2.3 2.3-2.3 2.3zM297.1 297.8l2.3-2.3 2.3 2.3-2.3 2.3zM298.8 299.2l2.3-2.3 2.3 2.3-2.3 2.3zM301 299.2l2.3-2.3 2.3 2.3-2.3 2.3zM303.4 299.3l2.3-2.3 2.3 2.3-2.3 2.3zM306.4 299.8l2.3-2.3 2.3 2.3-2.3 2.3zM307.9 297.8l2.3-2.3 2.3 2.3-2.3 2.3zM281 302.8l2.3-2.3 2.3 2.3-2.3 2.3zM282.3 300.5l2.3-2.3 2.3 2.3-2.3 2.3zM284.4 300.6l2.3-2.3 2.3 2.3-2.3 2.3zM287.5 300.5l2.3-2.3 2.3 2.3-2.3 2.3zM290.1 301.8l2.3-2.3 2.3 2.3-2.3 2.3zM292.3 301.6l2.3-2.3 2.3 2.3-2.3 2.3zM295.2 302.9l2.3-2.3 2.3 2.3-2.3 2.3zM296 301.4l2.3-2.3 2.3 2.3-2.3 2.3zM298 303.5l2.3-2.3 2.3 2.3-2.3 2.3zM300.8 301.3l2.3-2.3 2.3 2.3-2.3 2.3zM304.1 302.1l2.3-2.3 2.3 2.3-2.3 2.3zM305.7 300.5l2.3-2.3 2.3 2.3-2.3 2.3zM308.8 302.9l2.3-2.3 2.3 2.3-2.3 2.3zM280 303.1l2.3-2.3 2.3 2.3-2.3 2.3zM282.6 304.4l2.3-2.3 2.3 2.3-2.3 2.3zM285.3 304.1l2.3-2.3 2.3 2.3-2.3 2.3zM286.9 305.8l2.3-2.3 2.3 2.3-2.3 2.3zM288.9 303.9l2.3-2.3 2.3 2.3-2.3 2.3zM291.8 304.7l2.3-2.3 2.3 2.3-2.3 2.3zM293.9 305.4l2.3-2.3 2.3 2.3-2.3 2.3zM297 305.5l2.3-2.3 2.3 2.3-2.3 2.3zM298.8 305.9l2.3-2.3 2.3 2.3-2.3 2.3zM301.9 303.1l2.3-2.3 2.3 2.3-2.3 2.3zM303.8 303.1l2.3-2.3 2.3 2.3-2.3 2.3zM305 304.8l2.3-2.3 2.3 2.3-2.3 2.3zM308.9 304.7l2.3-2.3 2.3 2.3-2.3 2.3zM280.8 307.7l2.3-2.3 2.3 2.3-2.3 2.3zM282.3 308.2l2.3-2.3 2.3 2.3-2.3 2.3zM285.9 306.2l2.3-2.3 2.3 2.3-2.3 2.3zM286.7 308l2.3-2.3 2.3 2.3-2.3 2.3zM292.3 306.3l2.3-2.3 2.3 2.3-2.3 2.3zM294.6 306l2.3-2.3 2.3 2.3-2.3 2.3zM297 305.6l2.3-2.3 2.3 2.3-2.3 2.3zM298.5 306.2l2.3-2.3 2.3 2.3-2.3 2.3zM300.9 307.3l2.3-2.3 2.3 2.3-2.3 2.3zM304.2 306.5l2.3-2.3 2.3 2.3-2.3 2.3zM305.2 308.1l2.3-2.3 2.3 2.3-2.3 2.3zM280.3 310.2l2.3-2.3 2.3 2.3-2.3 2.3zM282.9 308.4l2.3-2.3 2.3 2.3-2.3 2.3zM285.5 309.5l2.3-2.3 2.3 2.3-2.3 2.3zM286.7 310.8l2.3-2.3 2.3 2.3-2.3 2.3zM290.5 311.3l2.3-2.3 2.3 2.3-2.3 2.3zM293.9 309.2l2.3-2.3 2.3 2.3-2.3 2.3zM296.6 311.1l2.3-2.3 2.3 2.3-2.3 2.3zM298.9 310.9l2.3-2.3 2.3 2.3-2.3 2.3zM301.3 308.4l2.3-2.3 2.3 2.3-2.3 2.3zM303.1 311l2.3-2.3 2.3 2.3-2.3 2.3zM305.3 311.1l2.3-2.3 2.3 2.3-2.3 2.3zM281.3 311.8l2.3-2.3 2.3 2.3-2.3 2.3zM284.3 311.8l2.3-2.3 2.3 2.3-2.3 2.3zM286.9 313.1l2.3-2.3 2.3 2.3-2.3 2.3zM290.2 311.7l2.3-2.3 2.3 2.3-2.3 2.3zM292.1 311l2.3-2.3 2.3 2.3-2.3 2.3zM294.8 312.6l2.3-2.3 2.3 2.3-2.3 2.3zM295.8 312.3l2.3-2.3 2.3 2.3-2.3 2.3zM299.2 311.1l2.3-2.3 2.3 2.3-2.3 2.3zM300.9 311.9l2.3-2.3 2.3 2.3-2.3 2.3zM279.9 316.3l2.3-2.3 2.3 2.3-2.3 2.3zM283.4 316.1l2.3-2.3 2.3 2.3-2.3 2.3zM280.6 316.4l2.3-2.3 2.3 2.3-2.3 2.3zM280.6 322.8l2.3-2.3 2.3 2.3-2.3 2.3zM280.6 324.4l2.3-2.3 2.3 2.3-2.3 2.3zM280.7 327.6l2.3-2.3 2.3 2.3-2.3 2.3z" fill="#000"/>
<path d="M281.5 246 L281.6 247.5 L281.6 249 L281.6 250.5 L281.7 252 L281.8 253.5 L281.9 255 L282 256.5 L282.2 258 L282.5 259.5 L282.8 261 L283.2 262.5 L283.8 264 L284.4 265.5 L285.3 267 L286.2 268.5 L287.4 270 L288.8 271.5 L290.3 273 L292.1 274.5 L294 276 L296 277.5 L298.2 279 L300.5 280.5 L302.7 282 L305 283.5 L307.1 285 L309 286.5 L310.7 288 L312.1 289.5 L313.1 291 L313.8 292.5 L314 294 L313.8 295.5 L313.1 297 L312.1 298.5 L310.7 300 L309 301.5 L307.1 303 L305 304.5 L302.7 306 L300.5 307.5 L298.2 309 L296 310.5 L294 312 L292.1 313.5 L290.3 315 L288.8 316.5 L287.4 318 L286.2 319.5 L285.3 321 L284.4 322.5 L283.8 324 L283.2 325.5 L282.8 327 L282.5 328.5 L282.2 330 L282 331.5 L281.9 333 L281.8 334.5 L281.7 336 L281.6 337.5 L281.6 339" fill="none" stroke="#000" stroke-width="1.5"/>
<path d="M415 320.1l2.3-2.3 2.3 2.3-2.3 2.3zM418.5 321.3l2.3-2.3 2.3 2.3-2.3 2.3zM416.3 323.9l2.3-2.3 2.3 2.3-2.3 2.3zM417.9 324.5l2.3-2.3 2.3 2.3-2.3 2.3zM420.6 322.8l2.3-2.3 2.3 2.3-2.3 2.3zM415.3 326.6l2.3-2.3 2.3 2.3-2.3 2.3zM418.5 325.2l2.3-2.3 2.3 2.3-2.3 2.3zM419.6 326.8l2.3-2.3 2.3 2.3-2.3 2.3zM414.7 328.3l2.3-2.3 2.3 2.3-2.3 2.3zM418.7 327.6l2.3-2.3 2.3 2.3-2.3 2.3zM420.4 330.1l2.3-2.3 2.3 2.3-2.3 2.3zM423 329l2.3-2.3 2.3 2.3-2.3 2.3zM416.3 331.4l2.3-2.3 2.3 2.3-2.3 2.3zM417.1 330.9l2.3-2.3 2.3 2.3-2.3 2.3zM420.4 330.6l2.3-2.3 2.3 2.3-2.3 2.3zM421.8 330.7l2.3-2.3 2.3 2.3-2.3 2.3zM416.4 335.9l2.3-2.3 2.3 2.3-2.3 2.3zM417.8 334.3l2.3-2.3 2.3 2.3-2.3 2.3zM420.8 335.1l2.3-2.3 2.3 2.3-2.3 2.3zM421.9 334.7l2.3-2.3 2.3 2.3-2.3 2.3zM425.2 333l2.3-2.3 2.3 2.3-2.3 2.3zM414.9 338.4l2.3-2.3 2.3 2.3-2.3 2.3zM418.2 335.7l2.3-2.3 2.3 2.3-2.3 2.3zM420.9 338.2l2.3-2.3 2.3 2.3-2.3 2.3zM423 337.9l2.3-2.3 2.3 2.3-2.3 2.3zM424.6 337.9l2.3-2.3 2.3 2.3-2.3 2.3zM427.7 336.3l2.3-2.3 2.3 2.3-2.3 2.3zM429.4 338.3l2.3-2.3 2.3 2.3-2.3 2.3zM432.4 337.8l2.3-2.3 2.3 2.3-2.3 2.3zM434.5 336l2.3-2.3 2.3 2.3-2.3 2.3zM436.1 336.1l2.3-2.3 2.3 2.3-2.3 2.3zM439.2 337.5l2.3-2.3 2.3 2.3-2.3 2.3zM416 340.4l2.3-2.3 2.3 2.3-2.3 2.3zM418.6 340.5l2.3-2.3 2.3 2.3-2.3 2.3zM419.4 340l2.3-2.3 2.3 2.3-2.3 2.3zM422.1 339.8l2.3-2.3 2.3 2.3-2.3 2.3zM425.2 337.9l2.3-2.3 2.3 2.3-2.3 2.3zM426.1 338.3l2.3-2.3 2.3 2.3-2.3 2.3zM429.2 339.8l2.3-2.3 2.3 2.3-2.3 2.3zM431.3 338.6l2.3-2.3 2.3 2.3-2.3 2.3zM434.5 339.9l2.3-2.3 2.3 2.3-2.3 2.3zM435.5 338.8l2.3-2.3 2.3 2.3-2.3 2.3zM438.4 340l2.3-2.3 2.3 2.3-2.3 2.3zM440.1 340.1l2.3-2.3 2.3 2.3-2.3 2.3zM443.7 338.5l2.3-2.3 2.3 2.3-2.3 2.3zM415.3 341.2l2.3-2.3 2.3 2.3-2.3 2.3zM418 343.4l2.3-2.3 2.3 2.3-2.3 2.3zM420.1 343.6l2.3-2.3 2.3 2.3-2.3 2.3zM423.3 341.1l2.3-2.3 2.3 2.3-2.3 2.3zM424.1 342.2l2.3-2.3 2.3 2.3-2.3 2.3zM426.4 343.5l2.3-2.3 2.3 2.3-2.3 2.3zM429.9 341.3l2.3-2.3 2.3 2.3-2.3 2.3zM430.9 342.3l2.3-2.3 2.3 2.3-2.3 2.3zM433.9 341.7l2.3-2.3 2.3 2.3-2.3 2.3zM436.9 342.6l2.3-2.3 2.3 2.3-2.3 2.3zM438.7 341.9l2.3-2.3 2.3 2.3-2.3 2.3zM440.6 342.6l2.3-2.3 2.3 2.3-2.3 2.3zM415.5 345.3l2.3-2.3 2.3 2.3-2.3 2.3zM417.8 344.3l2.3-2.3 2.3 2.3-2.3 2.3zM423 345.3l2.3-2.3 2.3 2.3-2.3 2.3zM424.6 345.5l2.3-2.3 2.3 2.3-2.3 2.3zM427.4 345.5l2.3-2.3 2.3 2.3-2.3 2.3zM429 343.5l2.3-2.3 2.3 2.3-2.3 2.3zM432.3 343.6l2.3-2.3 2.3 2.3-2.3 2.3zM434 343.2l2.3-2.3 2.3 2.3-2.3 2.3zM436.6 345.2l2.3-2.3 2.3 2.3-2.3 2.3zM439 344l2.3-2.3 2.3 2.3-2.3 2.3zM440.7 346.2l2.3-2.3 2.3 2.3-2.3 2.3zM443.6 345.3l2.3-2.3 2.3 2.3-2.3 2.3zM415.9 347.9l2.3-2.3 2.3 2.3-2.3 2.3zM417.2 347.5l2.3-2.3 2.3 2.3-2.3 2.3zM420.6 346.8l2.3-2.3 2.3 2.3-2.3 2.3zM422.4 348.5l2.3-2.3 2.3 2.3-2.3 2.3zM425.1 346.2l2.3-2.3 2.3 2.3-2.3 2.3zM426.2 346.7l2.3-2.3 2.3 2.3-2.3 2.3zM430.1 348.8l2.3-2.3 2.3 2.3-2.3 2.3zM431.3 348.7l2.3-2.3 2.3 2.3-2.3 2.3zM433.6 347.1l2.3-2.3 2.3 2.3-2.3 2.3zM435.8 347l2.3-2.3 2.3 2.3-2.3 2.3zM439.3 346.6l2.3-2.3 2.3 2.3-2.3 2.3zM441.5 347.1l2.3-2.3 2.3 2.3-2.3 2.3zM416 349.3l2.3-2.3 2.3 2.3-2.3 2.3zM418.3 349.8l2.3-2.3 2.3 2.3-2.3 2.3zM420.4 350.7l2.3-2.3 2.3 2.3-2.3 2.3zM422.2 351.2l2.3-2.3 2.3 2.3-2.3 2.3zM424.3 350.3l2.3-2.3 2.3 2.3-2.3 2.3zM427.5 348.4l2.3-2.3 2.3 2.3-2.3 2.3zM429.4 349.4l2.3-2.3 2.3 2.3-2.3 2.3zM431.2 349.1l2.3-2.3 2.3 2.3-2.3 2.3zM434 350.7l2.3-2.3 2.3 2.3-2.3 2.3zM436 350.9l2.3-2.3 2.3 2.3-2.3 2.3zM438.2 350.4l2.3-2.3 2.3 2.3-2.3 2.3zM441 350.5l2.3-2.3 2.3 2.3-2.3 2.3zM442.9 351.3l2.3-2.3 2.3 2.3-2.3 2.3zM415.3 353.5l2.3-2.3 2.3 2.3-2.3 2.3zM417.2 353.7l2.3-2.3 2.3 2.3-2.3 2.3zM420.1 353l2.3-2.3 2.3 2.3-2.3 2.3zM421.7 352l2.3-2.3 2.3 2.3-2.3 2.3zM424.5 352.5l2.3-2.3 2.3 2.3-2.3 2.3zM427.3 352.7l2.3-2.3 2.3 2.3-2.3 2.3zM429.4 351.8l2.3-2.3 2.3 2.3-2.3 2.3zM432.1 353.6l2.3-2.3 2.3 2.3-2.3 2.3zM434.2 353.3l2.3-2.3 2.3 2.3-2.3 2.3zM436.9 353.8l2.3-2.3 2.3 2.3-2.3 2.3zM439.1 353l2.3-2.3 2.3 2.3-2.3 2.3zM440.1 353.2l2.3-2.3 2.3 2.3-2.3 2.3zM443.3 351.8l2.3-2.3 2.3 2.3-2.3 2.3zM416.1 354.4l2.3-2.3 2.3 2.3-2.3 2.3zM417.3 353.8l2.3-2.3 2.3 2.3-2.3 2.3zM421 356.1l2.3-2.3 2.3 2.3-2.3 2.3zM422.8 353.7l2.3-2.3 2.3 2.3-2.3 2.3zM424.4 353.5l2.3-2.3 2.3 2.3-2.3 2.3zM426.3 354.4l2.3-2.3 2.3 2.3-2.3 2.3zM429.2 355.3l2.3-2.3 2.3 2.3-2.3 2.3zM430.8 356.1l2.3-2.3 2.3 2.3-2.3 2.3zM433.4 355.5l2.3-2.3 2.3 2.3-2.3 2.3zM435.9 355.3l2.3-2.3 2.3 2.3-2.3 2.3zM439 354.2l2.3-2.3 2.3 2.3-2.3 2.3zM441.4 355.2l2.3-2.3 2.3 2.3-2.3 2.3zM414.7 357.7l2.3-2.3 2.3 2.3-2.3 2.3zM417 358.1l2.3-2.3 2.3 2.3-2.3 2.3zM420.3 357.4l2.3-2.3 2.3 2.3-2.3 2.3zM422.6 356.8l2.3-2.3 2.3 2.3-2.3 2.3zM425.6 358.7l2.3-2.3 2.3 2.3-2.3 2.3zM426.7 359.3l2.3-2.3 2.3 2.3-2.3 2.3zM429.3 356.5l2.3-2.3 2.3 2.3-2.3 2.3zM431.9 358.4l2.3-2.3 2.3 2.3-2.3 2.3zM433.6 356.7l2.3-2.3 2.3 2.3-2.3 2.3zM435.8 356.7l2.3-2.3 2.3 2.3-2.3 2.3zM438.5 357.5l2.3-2.3 2.3 2.3-2.3 2.3zM441.1 356.7l2.3-2.3 2.3 2.3-2.3 2.3zM415.9 361.8l2.3-2.3 2.3 2.3-2.3 2.3zM418.6 361.6l2.3-2.3 2.3 2.3-2.3 2.3zM420.5 358.9l2.3-2.3 2.3 2.3-2.3 2.3zM421.5 361.5l2.3-2.3 2.3 2.3-2.3 2.3zM424.9 359.5l2.3-2.3 2.3 2.3-2.3 2.3zM426.4 360.7l2.3-2.3 2.3 2.3-2.3 2.3zM414.7 361.9l2.3-2.3 2.3 2.3-2.3 2.3zM418.5 363.9l2.3-2.3 2.3 2.3-2.3 2.3zM415.5 364.5l2.3-2.3 2.3 2.3-2.3 2.3zM415.7 368l2.3-2.3 2.3 2.3-2.3 2.3zM415.7 377.5l2.3-2.3 2.3 2.3-2.3 2.3z" fill="#000"/>
<path d="M416.8 314 L417 315.5 L417.2 317 L417.6 318.5 L418 320 L418.6 321.5 L419.5 323 L420.5 324.5 L421.8 326 L423.4 327.5 L425.3 329 L427.4 330.5 L429.9 332 L432.5 333.5 L435.3 335 L438.1 336.5 L440.8 338 L443.3 339.5 L445.5 341 L447.2 342.5 L448.4 344 L449 345.5 L448.9 347 L448.1 348.5 L446.7 350 L444.8 351.5 L442.5 353 L439.9 354.5 L437.2 356 L434.3 357.5 L431.6 359 L429 360.5 L426.7 362 L424.6 363.5 L422.8 365 L421.3 366.5 L420.1 368 L419.2 369.5 L418.4 371 L417.8 372.5 L417.4 374 L417.1 375.5 L416.9 377 L416.8 378.5" fill="none" stroke="#000" stroke-width="1.5"/>
<path d="M550.7 369.3l2.3-2.3 2.3 2.3-2.3 2.3zM550.6 370.7l2.3-2.3 2.3 2.3-2.3 2.3zM553.2 379.3l2.3-2.3 2.3 2.3-2.3 2.3zM555.7 378.5l2.3-2.3 2.3 2.3-2.3 2.3zM556.9 380l2.3-2.3 2.3 2.3-2.3 2.3zM558.8 380.8l2.3-2.3 2.3 2.3-2.3 2.3zM561.7 378.2l2.3-2.3 2.3 2.3-2.3 2.3zM549.7 381.7l2.3-2.3 2.3 2.3-2.3 2.3zM553.5 382.3l2.3-2.3 2.3 2.3-2.3 2.3zM554.6 381.5l2.3-2.3 2.3 2.3-2.3 2.3zM557.2 381l2.3-2.3 2.3 2.3-2.3 2.3zM559 381.3l2.3-2.3 2.3 2.3-2.3 2.3zM562.2 382.7l2.3-2.3 2.3 2.3-2.3 2.3zM564.2 380.9l2.3-2.3 2.3 2.3-2.3 2.3zM565.8 382.2l2.3-2.3 2.3 2.3-2.3 2.3zM550.9 384.1l2.3-2.3 2.3 2.3-2.3 2.3zM553.1 384.8l2.3-2.3 2.3 2.3-2.3 2.3zM555.8 385.2l2.3-2.3 2.3 2.3-2.3 2.3zM556.9 386.5l2.3-2.3 2.3 2.3-2.3 2.3zM559.5 385.8l2.3-2.3 2.3 2.3-2.3 2.3zM562.2 385.7l2.3-2.3 2.3 2.3-2.3 2.3zM563.6 386.4l2.3-2.3 2.3 2.3-2.3 2.3zM565.8 383.5l2.3-2.3 2.3 2.3-2.3 2.3zM569.7 384l2.3-2.3 2.3 2.3-2.3 2.3zM553.6 386.7l2.3-2.3 2.3 2.3-2.3 2.3zM554.2 388.3l2.3-2.3 2.3 2.3-2.3 2.3zM558.3 388.2l2.3-2.3 2.3 2.3-2.3 2.3zM560.3 386.4l2.3-2.3 2.3 2.3-2.3 2.3zM561.3 388.4l2.3-2.3 2.3 2.3-2.3 2.3zM565 385.9l2.3-2.3 2.3 2.3-2.3 2.3zM566.7 388.5l2.3-2.3 2.3 2.3-2.3 2.3zM569.1 387.8l2.3-2.3 2.3 2.3-2.3 2.3zM570.4 386.1l2.3-2.3 2.3 2.3-2.3 2.3zM573.1 387.2l2.3-2.3 2.3 2.3-2.3 2.3zM549.6 391.2l2.3-2.3 2.3 2.3-2.3 2.3zM552.7 388.9l2.3-2.3 2.3 2.3-2.3 2.3zM554.6 389.9l2.3-2.3 2.3 2.3-2.3 2.3zM558.3 390.2l2.3-2.3 2.3 2.3-2.3 2.3zM559 390.8l2.3-2.3 2.3 2.3-2.3 2.3zM562.6 388.8l2.3-2.3 2.3 2.3-2.3 2.3zM563.9 390.9l2.3-2.3 2.3 2.3-2.3 2.3zM566.8 391.6l2.3-2.3 2.3 2.3-2.3 2.3zM568 388.7l2.3-2.3 2.3 2.3-2.3 2.3zM571.5 390.4l2.3-2.3 2.3 2.3-2.3 2.3zM573.4 389.8l2.3-2.3 2.3 2.3-2.3 2.3zM551.2 393.4l2.3-2.3 2.3 2.3-2.3 2.3zM553.5 393.8l2.3-2.3 2.3 2.3-2.3 2.3zM554.3 393.3l2.3-2.3 2.3 2.3-2.3 2.3zM557.3 393.9l2.3-2.3 2.3 2.3-2.3 2.3zM560.5 392.5l2.3-2.3 2.3 2.3-2.3 2.3zM561.6 392.1l2.3-2.3 2.3 2.3-2.3 2.3zM564 391.4l2.3-2.3 2.3 2.3-2.3 2.3zM567.5 393.2l2.3-2.3 2.3 2.3-2.3 2.3zM571.8 394.3l2.3-2.3 2.3 2.3-2.3 2.3zM573.1 391.9l2.3-2.3 2.3 2.3-2.3 2.3zM574.9 391.8l2.3-2.3 2.3 2.3-2.3 2.3zM578.9 392.2l2.3-2.3 2.3 2.3-2.3 2.3zM551.2 396.2l2.3-2.3 2.3 2.3-2.3 2.3zM552.1 396.3l2.3-2.3 2.3 2.3-2.3 2.3zM555.3 394.9l2.3-2.3 2.3 2.3-2.3 2.3zM558.2 394.2l2.3-2.3 2.3 2.3-2.3 2.3zM560 395.4l2.3-2.3 2.3 2.3-2.3 2.3zM565 395.9l2.3-2.3 2.3 2.3-2.3 2.3zM568.4 394.6l2.3-2.3 2.3 2.3-2.3 2.3zM570.3 394.5l2.3-2.3 2.3 2.3-2.3 2.3zM574.4 394.3l2.3-2.3 2.3 2.3-2.3 2.3zM576.1 395.9l2.3-2.3 2.3 2.3-2.3 2.3zM578.6 394.5l2.3-2.3 2.3 2.3-2.3 2.3zM550.8 397l2.3-2.3 2.3 2.3-2.3 2.3zM553.6 398.4l2.3-2.3 2.3 2.3-2.3 2.3zM555.4 398.2l2.3-2.3 2.3 2.3-2.3 2.3zM557 396.5l2.3-2.3 2.3 2.3-2.3 2.3zM558.8 397.5l2.3-2.3 2.3 2.3-2.3 2.3zM561.3 397.9l2.3-2.3 2.3 2.3-2.3 2.3zM566.2 398.8l2.3-2.3 2.3 2.3-2.3 2.3zM568.2 397.3l2.3-2.3 2.3 2.3-2.3 2.3zM571.5 397.7l2.3-2.3 2.3 2.3-2.3 2.3zM572.8 399.3l2.3-2.3 2.3 2.3-2.3 2.3zM576.4 396.4l2.3-2.3 2.3 2.3-2.3 2.3zM551.1 401.5l2.3-2.3 2.3 2.3-2.3 2.3zM552.4 398.9l2.3-2.3 2.3 2.3-2.3 2.3zM555.8 399.4l2.3-2.3 2.3 2.3-2.3 2.3zM557.6 401l2.3-2.3 2.3 2.3-2.3 2.3zM559.1 399.2l2.3-2.3 2.3 2.3-2.3 2.3zM564.6 400.7l2.3-2.3 2.3 2.3-2.3 2.3zM565.8 398.9l2.3-2.3 2.3 2.3-2.3 2.3zM568.2 402l2.3-2.3 2.3 2.3-2.3 2.3zM571.6 399.3l2.3-2.3 2.3 2.3-2.3 2.3zM573.1 400.1l2.3-2.3 2.3 2.3-2.3 2.3zM575.1 399.7l2.3-2.3 2.3 2.3-2.3 2.3zM577.7 400.1l2.3-2.3 2.3 2.3-2.3 2.3zM549.9 402.2l2.3-2.3 2.3 2.3-2.3 2.3zM552.6 403.6l2.3-2.3 2.3 2.3-2.3 2.3zM555.8 401.7l2.3-2.3 2.3 2.3-2.3 2.3zM558 402.3l2.3-2.3 2.3 2.3-2.3 2.3zM559.6 401.9l2.3-2.3 2.3 2.3-2.3 2.3zM562.4 401.8l2.3-2.3 2.3 2.3-2.3 2.3zM564.3 402.1l2.3-2.3 2.3 2.3-2.3 2.3zM566.5 401.9l2.3-2.3 2.3 2.3-2.3 2.3zM568.7 403l2.3-2.3 2.3 2.3-2.3 2.3zM572.7 402.2l2.3-2.3 2.3 2.3-2.3 2.3zM575.9 404.3l2.3-2.3 2.3 2.3-2.3 2.3zM551.3 405.8l2.3-2.3 2.3 2.3-2.3 2.3zM552.2 406.9l2.3-2.3 2.3 2.3-2.3 2.3zM554.3 404.9l2.3-2.3 2.3 2.3-2.3 2.3zM557.3 406.4l2.3-2.3 2.3 2.3-2.3 2.3zM559.6 405.1l2.3-2.3 2.3 2.3-2.3 2.3zM562.3 405.3l2.3-2.3 2.3 2.3-2.3 2.3zM565.2 405.6l2.3-2.3 2.3 2.3-2.3 2.3zM565.7 406.2l2.3-2.3 2.3 2.3-2.3 2.3zM568 405.6l2.3-2.3 2.3 2.3-2.3 2.3zM571.3 404.8l2.3-2.3 2.3 2.3-2.3 2.3zM573.7 406.2l2.3-2.3 2.3 2.3-2.3 2.3zM576.3 407.1l2.3-2.3 2.3 2.3-2.3 2.3zM578.7 405.3l2.3-2.3 2.3 2.3-2.3 2.3zM550 408.6l2.3-2.3 2.3 2.3-2.3 2.3zM552 407.4l2.3-2.3 2.3 2.3-2.3 2.3zM555 407.1l2.3-2.3 2.3 2.3-2.3 2.3zM557.8 408.6l2.3-2.3 2.3 2.3-2.3 2.3zM562.3 406.7l2.3-2.3 2.3 2.3-2.3 2.3zM566.6 408.3l2.3-2.3 2.3 2.3-2.3 2.3zM572.1 408.7l2.3-2.3 2.3 2.3-2.3 2.3zM574.1 407.3l2.3-2.3 2.3 2.3-2.3 2.3zM577.6 409.8l2.3-2.3 2.3 2.3-2.3 2.3zM550.2 411.4l2.3-2.3 2.3 2.3-2.3 2.3zM552.6 409.8l2.3-2.3 2.3 2.3-2.3 2.3zM554.2 411.2l2.3-2.3 2.3 2.3-2.3 2.3zM557.3 411.1l2.3-2.3 2.3 2.3-2.3 2.3zM559 410.1l2.3-2.3 2.3 2.3-2.3 2.3zM562.8 409.8l2.3-2.3 2.3 2.3-2.3 2.3zM564.3 411.2l2.3-2.3 2.3 2.3-2.3 2.3zM565.8 410l2.3-2.3 2.3 2.3-2.3 2.3zM569.1 410.7l2.3-2.3 2.3 2.3-2.3 2.3zM571.9 411.4l2.3-2.3 2.3 2.3-2.3 2.3zM574.3 410.2l2.3-2.3 2.3 2.3-2.3 2.3zM551.2 412.2l2.3-2.3 2.3 2.3-2.3 2.3zM552.4 412.8l2.3-2.3 2.3 2.3-2.3 2.3zM557.3 413.6l2.3-2.3 2.3 2.3-2.3 2.3zM560.3 414l2.3-2.3 2.3 2.3-2.3 2.3zM561.3 412.7l2.3-2.3 2.3 2.3-2.3 2.3zM564.5 414.5l2.3-2.3 2.3 2.3-2.3 2.3zM567.4 412.5l2.3-2.3 2.3 2.3-2.3 2.3zM569.6 413.7l2.3-2.3 2.3 2.3-2.3 2.3zM571.5 412.7l2.3-2.3 2.3 2.3-2.3 2.3zM573.3 413.6l2.3-2.3 2.3 2.3-2.3 2.3zM550.9 416.5l2.3-2.3 2.3 2.3-2.3 2.3zM553.1 417.1l2.3-2.3 2.3 2.3-2.3 2.3zM555.1 416.7l2.3-2.3 2.3 2.3-2.3 2.3zM557.7 415.1l2.3-2.3 2.3 2.3-2.3 2.3zM561.5 415.9l2.3-2.3 2.3 2.3-2.3 2.3zM566.4 417.6l2.3-2.3 2.3 2.3-2.3 2.3zM568.4 416.9l2.3-2.3 2.3 2.3-2.3 2.3zM571.5 417l2.3-2.3 2.3 2.3-2.3 2.3zM550 418l2.3-2.3 2.3 2.3-2.3 2.3zM552.1 418.4l2.3-2.3 2.3 2.3-2.3 2.3zM554.3 419l2.3-2.3 2.3 2.3-2.3 2.3zM559.4 419.4l2.3-2.3 2.3 2.3-2.3 2.3zM561.4 418.6l2.3-2.3 2.3 2.3-2.3 2.3zM564.6 417.6l2.3-2.3 2.3 2.3-2.3 2.3zM567.4 419.6l2.3-2.3 2.3 2.3-2.3 2.3zM550.7 422l2.3-2.3 2.3 2.3-2.3 2.3zM555.6 420.7l2.3-2.3 2.3 2.3-2.3 2.3zM558 421.6l2.3-2.3 2.3 2.3-2.3 2.3zM560.4 421.6l2.3-2.3 2.3 2.3-2.3 2.3zM550.5 424l2.3-2.3 2.3 2.3-2.3 2.3zM550.5 427.8l2.3-2.3 2.3 2.3-2.3 2.3zM550.7 430.4l2.3-2.3 2.3 2.3-2.3 2.3zM550.6 434.8l2.3-2.3 2.3 2.3-2.3 2.3z" fill="#000"/>
<path d="M551.7 367 L551.8 368.5 L551.9 370 L552.1 371.5 L552.4 373 L552.8 374.5 L553.4 376 L554.2 377.5 L555.1 379 L556.3 380.5 L557.8 382 L559.6 383.5 L561.7 385 L564 386.5 L566.6 388 L569.3 389.5 L572.2 391 L574.9 392.5 L577.5 394 L579.8 395.5 L581.7 397 L583.1 398.5 L583.9 400 L584 401.5 L583.4 403 L582.2 404.5 L580.5 406 L578.3 407.5 L575.8 409 L573.1 410.5 L570.3 412 L567.5 413.5 L564.9 415 L562.4 416.5 L560.3 418 L558.4 419.5 L556.8 421 L555.5 422.5 L554.5 424 L553.6 425.5 L553 427 L552.6 428.5 L552.2 430 L552 431.5 L551.8 433 L551.7 434.5" fill="none" stroke="#000" stroke-width="1.5"/>
<line x1="119" y1="135" x2="254" y2="292.5" stroke="#CC0010" stroke-width="2.15" stroke-dasharray="11 11" stroke-dashoffset="18.5"/>
<line x1="254" y1="292.5" x2="389" y2="346" stroke="#CC0010" stroke-width="2.15" stroke-dasharray="11 11" stroke-dashoffset="18.5"/>
<line x1="389" y1="346" x2="524" y2="401" stroke="#CC0010" stroke-width="2.15" stroke-dasharray="11 11" stroke-dashoffset="18.5"/>
<path d="M98.5 135h41" stroke="#000" stroke-width="1.8"/>
<circle cx="119" cy="135" r="2.8" fill="none" stroke="#222" stroke-width="0.7"/>
<path d="M233.5 295.5h41" stroke="#000" stroke-width="1.8"/>
<circle cx="254" cy="292.5" r="2.8" fill="none" stroke="#222" stroke-width="0.7"/>
<path d="M368.5 344.3h41" stroke="#000" stroke-width="1.8"/>
<circle cx="389" cy="346" r="2.8" fill="none" stroke="#222" stroke-width="0.7"/>
<path d="M503.5 400.7h41" stroke="#000" stroke-width="1.8"/>
<circle cx="524" cy="401" r="2.8" fill="none" stroke="#222" stroke-width="0.7"/>
</g>
<text transform="translate(794.5 27) scale(0.95 1)" font-family="'Liberation Sans',Arial,sans-serif" font-weight="bold" font-size="34" fill="#000">B</text>
<g transform="translate(0 606)">
<path d="M78.8 45.9V481.6H619" fill="none" stroke="#000" stroke-width="1.7"/>
<path d="M78.8 481.6h-8.6M78.8 448.1h-4.8M78.8 414.7h-8.6M78.8 381.2h-4.8M78.8 347.8h-8.6M78.8 314.3h-4.8M78.8 280.8h-8.6M78.8 247.4h-4.8M78.8 213.9h-8.6M78.8 180.4h-4.8M78.8 147h-8.6M78.8 113.5h-4.8M78.8 80.1h-8.6M78.8 46.6h-4.8M146 481.6v9M281 481.6v9M416 481.6v9M551 481.6v9" fill="none" stroke="#000" stroke-width="1.5"/>
<g font-family="'Liberation Serif','Times New Roman',serif" font-size="27" fill="#000">
<text transform="translate(62.6 489.7) scale(0.925 1)" text-anchor="end">25</text>
<text transform="translate(62.6 422.8) scale(0.925 1)" text-anchor="end">30</text>
<text transform="translate(62.6 355.9) scale(0.925 1)" text-anchor="end">35</text>
<text transform="translate(62.6 288.9) scale(0.925 1)" text-anchor="end">40</text>
<text transform="translate(62.6 222) scale(0.925 1)" text-anchor="end">45</text>
<text transform="translate(62.6 155.1) scale(0.925 1)" text-anchor="end">50</text>
<text transform="translate(62.6 88.2) scale(0.925 1)" text-anchor="end">55</text>
<text transform="translate(146 517) scale(0.925 1)" text-anchor="middle">A</text>
<text transform="translate(281 517) scale(0.925 1)" text-anchor="middle">B</text>
<text transform="translate(416 517) scale(0.925 1)" text-anchor="middle">C</text>
<text transform="translate(551 517) scale(0.925 1)" text-anchor="middle">D</text>
<text transform="translate(26.4 264.3) rotate(-90) scale(0.93 1)" text-anchor="middle" font-size="30.8">L*</text>
</g>
<path d="M119 106.8V139.5M119 164.2V196.8M108.2 106.8h21.6M108.2 196.8h21.6" fill="none" stroke="#333333" stroke-width="1.6"/>
<rect x="98.6" y="139.8" width="40.8" height="24" fill="#FAFAA0" stroke="#333333" stroke-width="1.6" stroke-linejoin="round"/>
<path d="M254 244V278M254 301.5V330.5M243.2 244h21.6M243.2 330.5h21.6" fill="none" stroke="#333333" stroke-width="1.6"/>
<rect x="233.6" y="278.4" width="40.8" height="22.8" fill="#A6DEA3" stroke="#333333" stroke-width="1.6" stroke-linejoin="round"/>
<path d="M389 284.5V309.5M389 327.3V347.8M378.2 284.5h21.6M378.2 347.8h21.6" fill="none" stroke="#333333" stroke-width="1.6"/>
<rect x="368.6" y="309.9" width="40.8" height="17.1" fill="#FAD3A0" stroke="#333333" stroke-width="1.6" stroke-linejoin="round"/>
<path d="M524 365.8V380.5M524 393V407.8M513.2 365.8h21.6M513.2 407.8h21.6" fill="none" stroke="#333333" stroke-width="1.6"/>
<rect x="503.6" y="380.9" width="40.8" height="11.8" fill="#4C4C4C" stroke="#444" stroke-width="1.6" stroke-linejoin="round"/>
<path d="M145.5 94.9l2.3-2.3 2.3 2.3-2.3 2.3zM145.7 97l2.3-2.3 2.3 2.3-2.3 2.3zM145.7 98.9l2.3-2.3 2.3 2.3-2.3 2.3zM145.5 102l2.3-2.3 2.3 2.3-2.3 2.3zM145.7 105l2.3-2.3 2.3 2.3-2.3 2.3zM145.7 110.2l2.3-2.3 2.3 2.3-2.3 2.3zM145.8 113.2l2.3-2.3 2.3 2.3-2.3 2.3zM147.5 113.4l2.3-2.3 2.3 2.3-2.3 2.3zM144.9 117.9l2.3-2.3 2.3 2.3-2.3 2.3zM147.9 117.8l2.3-2.3 2.3 2.3-2.3 2.3zM149.9 116.6l2.3-2.3 2.3 2.3-2.3 2.3zM145.2 120.8l2.3-2.3 2.3 2.3-2.3 2.3zM147.7 121.6l2.3-2.3 2.3 2.3-2.3 2.3zM150.2 120.8l2.3-2.3 2.3 2.3-2.3 2.3zM154 121.4l2.3-2.3 2.3 2.3-2.3 2.3zM156.6 119.2l2.3-2.3 2.3 2.3-2.3 2.3zM144.9 123.4l2.3-2.3 2.3 2.3-2.3 2.3zM148.4 124.4l2.3-2.3 2.3 2.3-2.3 2.3zM151.4 122.8l2.3-2.3 2.3 2.3-2.3 2.3zM153.5 123.7l2.3-2.3 2.3 2.3-2.3 2.3zM156.5 125l2.3-2.3 2.3 2.3-2.3 2.3zM158.8 121.9l2.3-2.3 2.3 2.3-2.3 2.3zM146.4 127.5l2.3-2.3 2.3 2.3-2.3 2.3zM147.9 126.9l2.3-2.3 2.3 2.3-2.3 2.3zM150.6 125.2l2.3-2.3 2.3 2.3-2.3 2.3zM152.5 127.3l2.3-2.3 2.3 2.3-2.3 2.3zM155.4 126l2.3-2.3 2.3 2.3-2.3 2.3zM161 126.5l2.3-2.3 2.3 2.3-2.3 2.3zM147.9 128.8l2.3-2.3 2.3 2.3-2.3 2.3zM155.3 128.3l2.3-2.3 2.3 2.3-2.3 2.3zM158.5 129.6l2.3-2.3 2.3 2.3-2.3 2.3zM160.2 129l2.3-2.3 2.3 2.3-2.3 2.3zM163.8 130.8l2.3-2.3 2.3 2.3-2.3 2.3zM145.7 132.8l2.3-2.3 2.3 2.3-2.3 2.3zM148.8 133.1l2.3-2.3 2.3 2.3-2.3 2.3zM153.1 131.8l2.3-2.3 2.3 2.3-2.3 2.3zM156.1 130.6l2.3-2.3 2.3 2.3-2.3 2.3zM158 131l2.3-2.3 2.3 2.3-2.3 2.3zM160.3 130.4l2.3-2.3 2.3 2.3-2.3 2.3zM163 131.7l2.3-2.3 2.3 2.3-2.3 2.3zM166.7 132.5l2.3-2.3 2.3 2.3-2.3 2.3zM145.2 134.6l2.3-2.3 2.3 2.3-2.3 2.3zM148.7 136.8l2.3-2.3 2.3 2.3-2.3 2.3zM150.7 133.6l2.3-2.3 2.3 2.3-2.3 2.3zM153 134.2l2.3-2.3 2.3 2.3-2.3 2.3zM155.3 133.4l2.3-2.3 2.3 2.3-2.3 2.3zM160.5 135.2l2.3-2.3 2.3 2.3-2.3 2.3zM163.8 136.7l2.3-2.3 2.3 2.3-2.3 2.3zM145.1 137.5l2.3-2.3 2.3 2.3-2.3 2.3zM148.6 138.1l2.3-2.3 2.3 2.3-2.3 2.3zM150.4 137l2.3-2.3 2.3 2.3-2.3 2.3zM154.2 139.2l2.3-2.3 2.3 2.3-2.3 2.3zM156.5 138.8l2.3-2.3 2.3 2.3-2.3 2.3zM158.5 137.4l2.3-2.3 2.3 2.3-2.3 2.3zM160.3 137.2l2.3-2.3 2.3 2.3-2.3 2.3zM164 139.5l2.3-2.3 2.3 2.3-2.3 2.3zM167.1 139.7l2.3-2.3 2.3 2.3-2.3 2.3zM145 139.9l2.3-2.3 2.3 2.3-2.3 2.3zM147.6 141.3l2.3-2.3 2.3 2.3-2.3 2.3zM153.3 141.4l2.3-2.3 2.3 2.3-2.3 2.3zM155.2 141.4l2.3-2.3 2.3 2.3-2.3 2.3zM161.6 140.8l2.3-2.3 2.3 2.3-2.3 2.3zM164.2 140.3l2.3-2.3 2.3 2.3-2.3 2.3zM167.1 140.5l2.3-2.3 2.3 2.3-2.3 2.3zM169.7 141.6l2.3-2.3 2.3 2.3-2.3 2.3zM170.8 139.6l2.3-2.3 2.3 2.3-2.3 2.3zM144.9 144.9l2.3-2.3 2.3 2.3-2.3 2.3zM150.4 143.9l2.3-2.3 2.3 2.3-2.3 2.3zM152.4 145.4l2.3-2.3 2.3 2.3-2.3 2.3zM155.9 145.3l2.3-2.3 2.3 2.3-2.3 2.3zM159.2 144.9l2.3-2.3 2.3 2.3-2.3 2.3zM160.7 143l2.3-2.3 2.3 2.3-2.3 2.3zM163.9 142.9l2.3-2.3 2.3 2.3-2.3 2.3zM165.6 145.2l2.3-2.3 2.3 2.3-2.3 2.3zM168.8 144l2.3-2.3 2.3 2.3-2.3 2.3zM174.9 143.8l2.3-2.3 2.3 2.3-2.3 2.3zM144.6 146.4l2.3-2.3 2.3 2.3-2.3 2.3zM147.2 147.7l2.3-2.3 2.3 2.3-2.3 2.3zM150.7 147.4l2.3-2.3 2.3 2.3-2.3 2.3zM153 146.7l2.3-2.3 2.3 2.3-2.3 2.3zM156.4 145.3l2.3-2.3 2.3 2.3-2.3 2.3zM158 145.9l2.3-2.3 2.3 2.3-2.3 2.3zM161.1 146.9l2.3-2.3 2.3 2.3-2.3 2.3zM164.4 146.5l2.3-2.3 2.3 2.3-2.3 2.3zM166.3 146.7l2.3-2.3 2.3 2.3-2.3 2.3zM168.8 146.8l2.3-2.3 2.3 2.3-2.3 2.3zM172.3 147.3l2.3-2.3 2.3 2.3-2.3 2.3zM148.2 151.1l2.3-2.3 2.3 2.3-2.3 2.3zM150 148.2l2.3-2.3 2.3 2.3-2.3 2.3zM152.5 148.6l2.3-2.3 2.3 2.3-2.3 2.3zM156.2 150.5l2.3-2.3 2.3 2.3-2.3 2.3zM161.5 150.1l2.3-2.3 2.3 2.3-2.3 2.3zM164.4 151.2l2.3-2.3 2.3 2.3-2.3 2.3zM167.1 149.2l2.3-2.3 2.3 2.3-2.3 2.3zM169.8 150.7l2.3-2.3 2.3 2.3-2.3 2.3zM171.4 149.6l2.3-2.3 2.3 2.3-2.3 2.3zM173.6 148.9l2.3-2.3 2.3 2.3-2.3 2.3zM145.6 152.2l2.3-2.3 2.3 2.3-2.3 2.3zM147.8 152.9l2.3-2.3 2.3 2.3-2.3 2.3zM149.9 154.1l2.3-2.3 2.3 2.3-2.3 2.3zM154.1 151.1l2.3-2.3 2.3 2.3-2.3 2.3zM155.1 153.4l2.3-2.3 2.3 2.3-2.3 2.3zM157.8 152.2l2.3-2.3 2.3 2.3-2.3 2.3zM163.3 151.2l2.3-2.3 2.3 2.3-2.3 2.3zM169.3 151l2.3-2.3 2.3 2.3-2.3 2.3zM171.8 152.2l2.3-2.3 2.3 2.3-2.3 2.3zM174.9 152.9l2.3-2.3 2.3 2.3-2.3 2.3zM146.1 153.8l2.3-2.3 2.3 2.3-2.3 2.3zM150.4 155.5l2.3-2.3 2.3 2.3-2.3 2.3zM155.2 155.4l2.3-2.3 2.3 2.3-2.3 2.3zM157.8 154.2l2.3-2.3 2.3 2.3-2.3 2.3zM160.6 154.7l2.3-2.3 2.3 2.3-2.3 2.3zM164.2 154.6l2.3-2.3 2.3 2.3-2.3 2.3zM165.7 154.8l2.3-2.3 2.3 2.3-2.3 2.3zM168.5 153.7l2.3-2.3 2.3 2.3-2.3 2.3zM171.6 154.3l2.3-2.3 2.3 2.3-2.3 2.3zM174.9 154l2.3-2.3 2.3 2.3-2.3 2.3zM145.5 159.4l2.3-2.3 2.3 2.3-2.3 2.3zM148.1 158.9l2.3-2.3 2.3 2.3-2.3 2.3zM153.9 159l2.3-2.3 2.3 2.3-2.3 2.3zM155.7 157.7l2.3-2.3 2.3 2.3-2.3 2.3zM157.8 156.7l2.3-2.3 2.3 2.3-2.3 2.3zM160.7 157.1l2.3-2.3 2.3 2.3-2.3 2.3zM164.3 159.5l2.3-2.3 2.3 2.3-2.3 2.3zM165.9 157.3l2.3-2.3 2.3 2.3-2.3 2.3zM168.8 157.1l2.3-2.3 2.3 2.3-2.3 2.3zM171.1 159.9l2.3-2.3 2.3 2.3-2.3 2.3zM146.3 160.5l2.3-2.3 2.3 2.3-2.3 2.3zM147.2 160.7l2.3-2.3 2.3 2.3-2.3 2.3zM150.7 160.1l2.3-2.3 2.3 2.3-2.3 2.3zM152.4 160.3l2.3-2.3 2.3 2.3-2.3 2.3zM155.7 159.5l2.3-2.3 2.3 2.3-2.3 2.3zM158.1 160.2l2.3-2.3 2.3 2.3-2.3 2.3zM161.2 162l2.3-2.3 2.3 2.3-2.3 2.3zM164.1 162.5l2.3-2.3 2.3 2.3-2.3 2.3zM166 162.8l2.3-2.3 2.3 2.3-2.3 2.3zM169.3 161.7l2.3-2.3 2.3 2.3-2.3 2.3zM172.1 162.5l2.3-2.3 2.3 2.3-2.3 2.3zM146.1 162.8l2.3-2.3 2.3 2.3-2.3 2.3zM148.1 165.2l2.3-2.3 2.3 2.3-2.3 2.3zM151.3 164.3l2.3-2.3 2.3 2.3-2.3 2.3zM156.2 163.1l2.3-2.3 2.3 2.3-2.3 2.3zM157.8 163.6l2.3-2.3 2.3 2.3-2.3 2.3zM161.7 164.3l2.3-2.3 2.3 2.3-2.3 2.3zM163.9 164.7l2.3-2.3 2.3 2.3-2.3 2.3zM165.4 165.1l2.3-2.3 2.3 2.3-2.3 2.3zM168.9 164.2l2.3-2.3 2.3 2.3-2.3 2.3zM170.7 164.9l2.3-2.3 2.3 2.3-2.3 2.3zM173.3 163.2l2.3-2.3 2.3 2.3-2.3 2.3zM145.9 168.6l2.3-2.3 2.3 2.3-2.3 2.3zM147.9 166.9l2.3-2.3 2.3 2.3-2.3 2.3zM151.2 167.4l2.3-2.3 2.3 2.3-2.3 2.3zM152.5 165.7l2.3-2.3 2.3 2.3-2.3 2.3zM156.3 166.3l2.3-2.3 2.3 2.3-2.3 2.3zM157.6 165.4l2.3-2.3 2.3 2.3-2.3 2.3zM161.4 167.6l2.3-2.3 2.3 2.3-2.3 2.3zM163.3 167l2.3-2.3 2.3 2.3-2.3 2.3zM166.2 165.6l2.3-2.3 2.3 2.3-2.3 2.3zM172.4 168.5l2.3-2.3 2.3 2.3-2.3 2.3zM174 168.1l2.3-2.3 2.3 2.3-2.3 2.3zM145.1 168.8l2.3-2.3 2.3 2.3-2.3 2.3zM150.8 168.6l2.3-2.3 2.3 2.3-2.3 2.3zM154.1 168.6l2.3-2.3 2.3 2.3-2.3 2.3zM155.9 171.2l2.3-2.3 2.3 2.3-2.3 2.3zM158 171.2l2.3-2.3 2.3 2.3-2.3 2.3zM160.2 168.1l2.3-2.3 2.3 2.3-2.3 2.3zM163.6 169.2l2.3-2.3 2.3 2.3-2.3 2.3zM166 169.2l2.3-2.3 2.3 2.3-2.3 2.3zM168 170.7l2.3-2.3 2.3 2.3-2.3 2.3zM170.8 171.3l2.3-2.3 2.3 2.3-2.3 2.3zM174.8 169.1l2.3-2.3 2.3 2.3-2.3 2.3zM146.4 173.1l2.3-2.3 2.3 2.3-2.3 2.3zM148 172l2.3-2.3 2.3 2.3-2.3 2.3zM150 173.9l2.3-2.3 2.3 2.3-2.3 2.3zM154.1 171.9l2.3-2.3 2.3 2.3-2.3 2.3zM155.9 171.7l2.3-2.3 2.3 2.3-2.3 2.3zM159.3 174.1l2.3-2.3 2.3 2.3-2.3 2.3zM161.3 174.2l2.3-2.3 2.3 2.3-2.3 2.3zM166.7 171.2l2.3-2.3 2.3 2.3-2.3 2.3zM168.8 173.6l2.3-2.3 2.3 2.3-2.3 2.3zM171.1 171.2l2.3-2.3 2.3 2.3-2.3 2.3zM145.4 175.1l2.3-2.3 2.3 2.3-2.3 2.3zM148.5 177.3l2.3-2.3 2.3 2.3-2.3 2.3zM151 175l2.3-2.3 2.3 2.3-2.3 2.3zM153.1 174.5l2.3-2.3 2.3 2.3-2.3 2.3zM155.4 177.1l2.3-2.3 2.3 2.3-2.3 2.3zM158 177.1l2.3-2.3 2.3 2.3-2.3 2.3zM163.1 174.6l2.3-2.3 2.3 2.3-2.3 2.3zM144.8 177.6l2.3-2.3 2.3 2.3-2.3 2.3zM148.2 179.9l2.3-2.3 2.3 2.3-2.3 2.3zM150.5 178.2l2.3-2.3 2.3 2.3-2.3 2.3zM145.2 179.9l2.3-2.3 2.3 2.3-2.3 2.3zM148.9 180.1l2.3-2.3 2.3 2.3-2.3 2.3zM150.9 182.7l2.3-2.3 2.3 2.3-2.3 2.3zM145 184l2.3-2.3 2.3 2.3-2.3 2.3zM148.9 185.6l2.3-2.3 2.3 2.3-2.3 2.3zM145.9 188.6l2.3-2.3 2.3 2.3-2.3 2.3zM148.3 185.5l2.3-2.3 2.3 2.3-2.3 2.3zM148.7 191.8l2.3-2.3 2.3 2.3-2.3 2.3zM144.9 193.1l2.3-2.3 2.3 2.3-2.3 2.3zM148.9 193.8l2.3-2.3 2.3 2.3-2.3 2.3zM145.4 196.1l2.3-2.3 2.3 2.3-2.3 2.3zM145.9 198.1l2.3-2.3 2.3 2.3-2.3 2.3zM146 222l2.3-2.3 2.3 2.3-2.3 2.3z" fill="#000"/>
<path d="M147 92.5 L147.1 94 L147.2 95.5 L147.4 97 L147.6 98.5 L147.8 100 L148.1 101.5 L148.4 103 L148.8 104.5 L149.2 106 L149.7 107.5 L150.3 109 L150.9 110.5 L151.6 112 L152.4 113.5 L153.2 115 L154.2 116.5 L155.2 118 L156.3 119.5 L157.5 121 L158.7 122.5 L160 124 L161.4 125.5 L162.8 127 L164.2 128.5 L165.7 130 L167.2 131.5 L168.7 133 L170.1 134.5 L171.5 136 L172.8 137.5 L174 139 L175.2 140.5 L176.2 142 L177.1 143.5 L177.8 145 L178.4 146.5 L178.7 148 L179 149.5 L179 151 L178.8 152.5 L178.5 154 L178 155.5 L177.3 157 L176.5 158.5 L175.5 160 L174.4 161.5 L173.2 163 L171.9 164.5 L170.6 166 L169.1 167.5 L167.7 169 L166.2 170.5 L164.7 172 L163.3 173.5 L161.8 175 L160.5 176.5 L159.1 178 L157.9 179.5 L156.7 181 L155.5 182.5 L154.5 184 L153.5 185.5 L152.6 187 L151.8 188.5 L151.1 190 L150.5 191.5 L149.9 193 L149.4 194.5 L148.9 196 L148.6 197.5 L148.2 199 L147.9 200.5 L147.7 202 L147.5 203.5 L147.3 205 L147.1 206.5 L147 208 L146.9 209.5 L146.8 211 L146.8 212.5 L146.7 214 L146.7 215.5 L146.6 217" fill="none" stroke="#4a4a4a" stroke-width="1.3"/>
<path d="M280.5 232.5l2.3-2.3 2.3 2.3-2.3 2.3zM280.5 241.7l2.3-2.3 2.3 2.3-2.3 2.3zM280.6 243.6l2.3-2.3 2.3 2.3-2.3 2.3zM280.5 246.6l2.3-2.3 2.3 2.3-2.3 2.3zM281 250.4l2.3-2.3 2.3 2.3-2.3 2.3zM280 251.9l2.3-2.3 2.3 2.3-2.3 2.3zM280.2 254l2.3-2.3 2.3 2.3-2.3 2.3zM283.3 255.3l2.3-2.3 2.3 2.3-2.3 2.3zM285.8 257l2.3-2.3 2.3 2.3-2.3 2.3zM287.2 255l2.3-2.3 2.3 2.3-2.3 2.3zM290.8 254.6l2.3-2.3 2.3 2.3-2.3 2.3zM280.5 257.4l2.3-2.3 2.3 2.3-2.3 2.3zM286.1 257.5l2.3-2.3 2.3 2.3-2.3 2.3zM288.5 257.7l2.3-2.3 2.3 2.3-2.3 2.3zM292.4 257.5l2.3-2.3 2.3 2.3-2.3 2.3zM281.3 260l2.3-2.3 2.3 2.3-2.3 2.3zM282.5 262.8l2.3-2.3 2.3 2.3-2.3 2.3zM284.7 259.7l2.3-2.3 2.3 2.3-2.3 2.3zM288.7 262.5l2.3-2.3 2.3 2.3-2.3 2.3zM291.4 262.7l2.3-2.3 2.3 2.3-2.3 2.3zM281.3 264.8l2.3-2.3 2.3 2.3-2.3 2.3zM283.3 263.6l2.3-2.3 2.3 2.3-2.3 2.3zM285.2 262.9l2.3-2.3 2.3 2.3-2.3 2.3zM287.6 263.5l2.3-2.3 2.3 2.3-2.3 2.3zM282.7 267.9l2.3-2.3 2.3 2.3-2.3 2.3zM285.4 265.3l2.3-2.3 2.3 2.3-2.3 2.3zM287.8 268.2l2.3-2.3 2.3 2.3-2.3 2.3zM290.3 268.1l2.3-2.3 2.3 2.3-2.3 2.3zM281.1 270.5l2.3-2.3 2.3 2.3-2.3 2.3zM282.2 268.1l2.3-2.3 2.3 2.3-2.3 2.3zM288.4 271l2.3-2.3 2.3 2.3-2.3 2.3zM290.1 271.2l2.3-2.3 2.3 2.3-2.3 2.3zM280.9 271.8l2.3-2.3 2.3 2.3-2.3 2.3zM282.1 273.3l2.3-2.3 2.3 2.3-2.3 2.3zM288.8 270.8l2.3-2.3 2.3 2.3-2.3 2.3zM290.5 274l2.3-2.3 2.3 2.3-2.3 2.3zM280.4 275.2l2.3-2.3 2.3 2.3-2.3 2.3zM286 276l2.3-2.3 2.3 2.3-2.3 2.3zM288.5 275.6l2.3-2.3 2.3 2.3-2.3 2.3zM290.2 274.7l2.3-2.3 2.3 2.3-2.3 2.3zM292.2 274.2l2.3-2.3 2.3 2.3-2.3 2.3zM295 273.7l2.3-2.3 2.3 2.3-2.3 2.3zM280.2 279.6l2.3-2.3 2.3 2.3-2.3 2.3zM283.9 277.2l2.3-2.3 2.3 2.3-2.3 2.3zM284.8 278l2.3-2.3 2.3 2.3-2.3 2.3zM287.9 277.1l2.3-2.3 2.3 2.3-2.3 2.3zM290.7 278.6l2.3-2.3 2.3 2.3-2.3 2.3zM293.6 278.6l2.3-2.3 2.3 2.3-2.3 2.3zM296.1 277.3l2.3-2.3 2.3 2.3-2.3 2.3zM280.9 279.8l2.3-2.3 2.3 2.3-2.3 2.3zM282.5 279.6l2.3-2.3 2.3 2.3-2.3 2.3zM285.6 280.2l2.3-2.3 2.3 2.3-2.3 2.3zM288.9 280.8l2.3-2.3 2.3 2.3-2.3 2.3zM291.1 281.3l2.3-2.3 2.3 2.3-2.3 2.3zM295.5 281.9l2.3-2.3 2.3 2.3-2.3 2.3zM298.7 279.2l2.3-2.3 2.3 2.3-2.3 2.3zM299.8 279.7l2.3-2.3 2.3 2.3-2.3 2.3zM283.7 283.4l2.3-2.3 2.3 2.3-2.3 2.3zM286 285.1l2.3-2.3 2.3 2.3-2.3 2.3zM288.2 284l2.3-2.3 2.3 2.3-2.3 2.3zM290.3 282.4l2.3-2.3 2.3 2.3-2.3 2.3zM292.6 283.9l2.3-2.3 2.3 2.3-2.3 2.3zM295 281.9l2.3-2.3 2.3 2.3-2.3 2.3zM298.3 282.5l2.3-2.3 2.3 2.3-2.3 2.3zM300 284.6l2.3-2.3 2.3 2.3-2.3 2.3zM302.2 282.2l2.3-2.3 2.3 2.3-2.3 2.3zM305.6 284.1l2.3-2.3 2.3 2.3-2.3 2.3zM280.9 286.1l2.3-2.3 2.3 2.3-2.3 2.3zM282.7 287.9l2.3-2.3 2.3 2.3-2.3 2.3zM285.6 285.9l2.3-2.3 2.3 2.3-2.3 2.3zM288.7 288.1l2.3-2.3 2.3 2.3-2.3 2.3zM290 287.2l2.3-2.3 2.3 2.3-2.3 2.3zM292.1 287.8l2.3-2.3 2.3 2.3-2.3 2.3zM296.1 286.1l2.3-2.3 2.3 2.3-2.3 2.3zM297.9 285.3l2.3-2.3 2.3 2.3-2.3 2.3zM300.6 286.9l2.3-2.3 2.3 2.3-2.3 2.3zM305.7 286l2.3-2.3 2.3 2.3-2.3 2.3zM280.1 289.3l2.3-2.3 2.3 2.3-2.3 2.3zM285.5 290.2l2.3-2.3 2.3 2.3-2.3 2.3zM289.8 290.7l2.3-2.3 2.3 2.3-2.3 2.3zM294.7 290.6l2.3-2.3 2.3 2.3-2.3 2.3zM298.7 289.6l2.3-2.3 2.3 2.3-2.3 2.3zM299.9 290.2l2.3-2.3 2.3 2.3-2.3 2.3zM302.8 290.4l2.3-2.3 2.3 2.3-2.3 2.3zM304.9 288.2l2.3-2.3 2.3 2.3-2.3 2.3zM308 288.8l2.3-2.3 2.3 2.3-2.3 2.3zM280.9 293.4l2.3-2.3 2.3 2.3-2.3 2.3zM283.1 292.9l2.3-2.3 2.3 2.3-2.3 2.3zM286.1 290.7l2.3-2.3 2.3 2.3-2.3 2.3zM288.1 292.4l2.3-2.3 2.3 2.3-2.3 2.3zM290.4 292.3l2.3-2.3 2.3 2.3-2.3 2.3zM293.3 291.8l2.3-2.3 2.3 2.3-2.3 2.3zM294.6 292.4l2.3-2.3 2.3 2.3-2.3 2.3zM297.5 292.9l2.3-2.3 2.3 2.3-2.3 2.3zM300.4 290.9l2.3-2.3 2.3 2.3-2.3 2.3zM302.3 290.7l2.3-2.3 2.3 2.3-2.3 2.3zM304.8 291.8l2.3-2.3 2.3 2.3-2.3 2.3zM280.7 293.4l2.3-2.3 2.3 2.3-2.3 2.3zM283.5 294.8l2.3-2.3 2.3 2.3-2.3 2.3zM285.5 294.4l2.3-2.3 2.3 2.3-2.3 2.3zM291.1 296.5l2.3-2.3 2.3 2.3-2.3 2.3zM293.6 293.8l2.3-2.3 2.3 2.3-2.3 2.3zM298.8 296.2l2.3-2.3 2.3 2.3-2.3 2.3zM301 296.3l2.3-2.3 2.3 2.3-2.3 2.3zM302.7 295.7l2.3-2.3 2.3 2.3-2.3 2.3zM306.2 294l2.3-2.3 2.3 2.3-2.3 2.3zM307.3 294.8l2.3-2.3 2.3 2.3-2.3 2.3zM280.1 297.6l2.3-2.3 2.3 2.3-2.3 2.3zM282.2 296.5l2.3-2.3 2.3 2.3-2.3 2.3zM286.3 298.2l2.3-2.3 2.3 2.3-2.3 2.3zM287.4 298.6l2.3-2.3 2.3 2.3-2.3 2.3zM290.6 298.1l2.3-2.3 2.3 2.3-2.3 2.3zM293.7 297.8l2.3-2.3 2.3 2.3-2.3 2.3zM296.2 296.3l2.3-2.3 2.3 2.3-2.3 2.3zM300.3 298.6l2.3-2.3 2.3 2.3-2.3 2.3zM303.9 297.9l2.3-2.3 2.3 2.3-2.3 2.3zM306 297.4l2.3-2.3 2.3 2.3-2.3 2.3zM308.4 296.1l2.3-2.3 2.3 2.3-2.3 2.3zM280.8 302l2.3-2.3 2.3 2.3-2.3 2.3zM283.3 299.8l2.3-2.3 2.3 2.3-2.3 2.3zM284.7 299.2l2.3-2.3 2.3 2.3-2.3 2.3zM287.9 300.4l2.3-2.3 2.3 2.3-2.3 2.3zM289.8 299.5l2.3-2.3 2.3 2.3-2.3 2.3zM292.1 298.7l2.3-2.3 2.3 2.3-2.3 2.3zM294.8 299.9l2.3-2.3 2.3 2.3-2.3 2.3zM298.2 300.7l2.3-2.3 2.3 2.3-2.3 2.3zM300.7 300.3l2.3-2.3 2.3 2.3-2.3 2.3zM303.8 299.5l2.3-2.3 2.3 2.3-2.3 2.3zM304.8 300.9l2.3-2.3 2.3 2.3-2.3 2.3zM308.5 300.1l2.3-2.3 2.3 2.3-2.3 2.3zM280.8 303.4l2.3-2.3 2.3 2.3-2.3 2.3zM283.3 303l2.3-2.3 2.3 2.3-2.3 2.3zM287.5 304.6l2.3-2.3 2.3 2.3-2.3 2.3zM290.6 302.9l2.3-2.3 2.3 2.3-2.3 2.3zM292.2 304.1l2.3-2.3 2.3 2.3-2.3 2.3zM295.6 304.7l2.3-2.3 2.3 2.3-2.3 2.3zM297.5 303.6l2.3-2.3 2.3 2.3-2.3 2.3zM300.8 304.3l2.3-2.3 2.3 2.3-2.3 2.3zM302.7 302.5l2.3-2.3 2.3 2.3-2.3 2.3zM281 306.7l2.3-2.3 2.3 2.3-2.3 2.3zM283.6 306.8l2.3-2.3 2.3 2.3-2.3 2.3zM285.9 305.8l2.3-2.3 2.3 2.3-2.3 2.3zM287.3 305.1l2.3-2.3 2.3 2.3-2.3 2.3zM290.2 306.8l2.3-2.3 2.3 2.3-2.3 2.3zM293.6 306.7l2.3-2.3 2.3 2.3-2.3 2.3zM295.6 305.8l2.3-2.3 2.3 2.3-2.3 2.3zM298 305.2l2.3-2.3 2.3 2.3-2.3 2.3zM301.3 305l2.3-2.3 2.3 2.3-2.3 2.3zM280.1 307.9l2.3-2.3 2.3 2.3-2.3 2.3zM283.8 309.6l2.3-2.3 2.3 2.3-2.3 2.3zM286.2 308.2l2.3-2.3 2.3 2.3-2.3 2.3zM288.7 309.2l2.3-2.3 2.3 2.3-2.3 2.3zM290.8 310.4l2.3-2.3 2.3 2.3-2.3 2.3zM293.6 309.5l2.3-2.3 2.3 2.3-2.3 2.3zM295.4 309.6l2.3-2.3 2.3 2.3-2.3 2.3zM297.7 307.8l2.3-2.3 2.3 2.3-2.3 2.3zM299.7 310.2l2.3-2.3 2.3 2.3-2.3 2.3zM302.1 307.5l2.3-2.3 2.3 2.3-2.3 2.3zM279.9 310l2.3-2.3 2.3 2.3-2.3 2.3zM283.3 312.1l2.3-2.3 2.3 2.3-2.3 2.3zM285.9 310.1l2.3-2.3 2.3 2.3-2.3 2.3zM287.8 312.7l2.3-2.3 2.3 2.3-2.3 2.3zM291.2 310.1l2.3-2.3 2.3 2.3-2.3 2.3zM293.7 313.1l2.3-2.3 2.3 2.3-2.3 2.3zM295 310.3l2.3-2.3 2.3 2.3-2.3 2.3zM298.6 312.7l2.3-2.3 2.3 2.3-2.3 2.3zM280.7 313.7l2.3-2.3 2.3 2.3-2.3 2.3zM282.3 315.3l2.3-2.3 2.3 2.3-2.3 2.3zM285.2 314.1l2.3-2.3 2.3 2.3-2.3 2.3zM280.1 317.9l2.3-2.3 2.3 2.3-2.3 2.3zM282.7 318.8l2.3-2.3 2.3 2.3-2.3 2.3zM280.7 318.4l2.3-2.3 2.3 2.3-2.3 2.3zM282.9 320.9l2.3-2.3 2.3 2.3-2.3 2.3zM280.6 321.8l2.3-2.3 2.3 2.3-2.3 2.3zM282.3 323.9l2.3-2.3 2.3 2.3-2.3 2.3zM280 326.5l2.3-2.3 2.3 2.3-2.3 2.3zM280.5 329.4l2.3-2.3 2.3 2.3-2.3 2.3zM283 327.9l2.3-2.3 2.3 2.3-2.3 2.3zM281.3 330.5l2.3-2.3 2.3 2.3-2.3 2.3zM283.4 331.2l2.3-2.3 2.3 2.3-2.3 2.3zM279.7 335l2.3-2.3 2.3 2.3-2.3 2.3zM280.7 336.3l2.3-2.3 2.3 2.3-2.3 2.3zM281.2 338.2l2.3-2.3 2.3 2.3-2.3 2.3zM280.6 344.5l2.3-2.3 2.3 2.3-2.3 2.3zM280.6 351.9l2.3-2.3 2.3 2.3-2.3 2.3z" fill="#000"/>
<path d="M281.6 228.5 L281.6 230 L281.7 231.5 L281.7 233 L281.8 234.5 L281.9 236 L282 237.5 L282.1 239 L282.3 240.5 L282.5 242 L282.7 243.5 L283 245 L283.4 246.5 L283.8 248 L284.3 249.5 L284.8 251 L285.4 252.5 L286.1 254 L287 255.5 L287.9 257 L288.9 258.5 L290 260 L291.2 261.5 L292.5 263 L293.9 264.5 L295.4 266 L296.9 267.5 L298.5 269 L300.1 270.5 L301.8 272 L303.4 273.5 L305 275 L306.5 276.5 L308 278 L309.4 279.5 L310.6 281 L311.6 282.5 L312.5 284 L313.2 285.5 L313.7 287 L313.9 288.5 L314 290 L313.8 291.5 L313.4 293 L312.8 294.5 L311.9 296 L310.9 297.5 L309.8 299 L308.5 300.5 L307 302 L305.5 303.5 L303.9 305 L302.3 306.5 L300.7 308 L299 309.5 L297.4 311 L295.9 312.5 L294.4 314 L293 315.5 L291.6 317 L290.4 318.5 L289.2 320 L288.2 321.5 L287.3 323 L286.4 324.5 L285.7 326 L285 327.5 L284.4 329 L283.9 330.5 L283.5 332 L283.1 333.5 L282.8 335 L282.6 336.5 L282.4 338 L282.2 339.5 L282 341 L281.9 342.5 L281.8 344 L281.8 345.5 L281.7 347 L281.7 348.5 L281.6 350" fill="none" stroke="#4a4a4a" stroke-width="1.3"/>
<path d="M415.6 284.4l2.3-2.3 2.3 2.3-2.3 2.3zM416.1 287.3l2.3-2.3 2.3 2.3-2.3 2.3zM414.9 290.6l2.3-2.3 2.3 2.3-2.3 2.3zM418.2 288.4l2.3-2.3 2.3 2.3-2.3 2.3zM415.6 290.9l2.3-2.3 2.3 2.3-2.3 2.3zM418.5 291.3l2.3-2.3 2.3 2.3-2.3 2.3zM419.7 292.8l2.3-2.3 2.3 2.3-2.3 2.3zM414.9 293.9l2.3-2.3 2.3 2.3-2.3 2.3zM417.8 293.6l2.3-2.3 2.3 2.3-2.3 2.3zM419.5 296.2l2.3-2.3 2.3 2.3-2.3 2.3zM416.3 296l2.3-2.3 2.3 2.3-2.3 2.3zM418.7 298.2l2.3-2.3 2.3 2.3-2.3 2.3zM420 296.3l2.3-2.3 2.3 2.3-2.3 2.3zM415 299.5l2.3-2.3 2.3 2.3-2.3 2.3zM417.6 300.8l2.3-2.3 2.3 2.3-2.3 2.3zM420.1 300.3l2.3-2.3 2.3 2.3-2.3 2.3zM415.7 302.2l2.3-2.3 2.3 2.3-2.3 2.3zM418.5 302.3l2.3-2.3 2.3 2.3-2.3 2.3zM420.5 302.2l2.3-2.3 2.3 2.3-2.3 2.3zM416.2 306l2.3-2.3 2.3 2.3-2.3 2.3zM418.4 305.7l2.3-2.3 2.3 2.3-2.3 2.3zM420 304.5l2.3-2.3 2.3 2.3-2.3 2.3zM421.6 304.8l2.3-2.3 2.3 2.3-2.3 2.3zM415.7 306.9l2.3-2.3 2.3 2.3-2.3 2.3zM417.7 308.1l2.3-2.3 2.3 2.3-2.3 2.3zM420.4 309.1l2.3-2.3 2.3 2.3-2.3 2.3zM422.7 308.6l2.3-2.3 2.3 2.3-2.3 2.3zM424.7 309.2l2.3-2.3 2.3 2.3-2.3 2.3zM427.1 306.6l2.3-2.3 2.3 2.3-2.3 2.3zM430.1 307.8l2.3-2.3 2.3 2.3-2.3 2.3zM431.7 307.8l2.3-2.3 2.3 2.3-2.3 2.3zM433.9 308.1l2.3-2.3 2.3 2.3-2.3 2.3zM436.2 307.4l2.3-2.3 2.3 2.3-2.3 2.3zM438 308.3l2.3-2.3 2.3 2.3-2.3 2.3zM441.3 306.5l2.3-2.3 2.3 2.3-2.3 2.3zM415.1 310l2.3-2.3 2.3 2.3-2.3 2.3zM417.7 310l2.3-2.3 2.3 2.3-2.3 2.3zM419.8 309.5l2.3-2.3 2.3 2.3-2.3 2.3zM422.8 311.7l2.3-2.3 2.3 2.3-2.3 2.3zM424.2 311.3l2.3-2.3 2.3 2.3-2.3 2.3zM426.5 309.1l2.3-2.3 2.3 2.3-2.3 2.3zM429.9 310.7l2.3-2.3 2.3 2.3-2.3 2.3zM431.7 309.4l2.3-2.3 2.3 2.3-2.3 2.3zM433.6 310.7l2.3-2.3 2.3 2.3-2.3 2.3zM436.8 310.2l2.3-2.3 2.3 2.3-2.3 2.3zM438.6 309.1l2.3-2.3 2.3 2.3-2.3 2.3zM440.5 311.4l2.3-2.3 2.3 2.3-2.3 2.3zM415.1 312.7l2.3-2.3 2.3 2.3-2.3 2.3zM416.9 313.6l2.3-2.3 2.3 2.3-2.3 2.3zM419.6 312.3l2.3-2.3 2.3 2.3-2.3 2.3zM422.3 313.3l2.3-2.3 2.3 2.3-2.3 2.3zM424.5 314.3l2.3-2.3 2.3 2.3-2.3 2.3zM426.2 313.9l2.3-2.3 2.3 2.3-2.3 2.3zM429.8 311.7l2.3-2.3 2.3 2.3-2.3 2.3zM431.8 311.3l2.3-2.3 2.3 2.3-2.3 2.3zM434.7 313.4l2.3-2.3 2.3 2.3-2.3 2.3zM435.5 311.8l2.3-2.3 2.3 2.3-2.3 2.3zM439 312.4l2.3-2.3 2.3 2.3-2.3 2.3zM441.5 313.8l2.3-2.3 2.3 2.3-2.3 2.3zM415.7 316.4l2.3-2.3 2.3 2.3-2.3 2.3zM418.5 316.4l2.3-2.3 2.3 2.3-2.3 2.3zM419.6 316.1l2.3-2.3 2.3 2.3-2.3 2.3zM422.8 315.3l2.3-2.3 2.3 2.3-2.3 2.3zM424.8 314.7l2.3-2.3 2.3 2.3-2.3 2.3zM426.4 315.5l2.3-2.3 2.3 2.3-2.3 2.3zM429.2 314.4l2.3-2.3 2.3 2.3-2.3 2.3zM431.6 315.6l2.3-2.3 2.3 2.3-2.3 2.3zM433 316.6l2.3-2.3 2.3 2.3-2.3 2.3zM436.3 316l2.3-2.3 2.3 2.3-2.3 2.3zM438.3 315.2l2.3-2.3 2.3 2.3-2.3 2.3zM440 315.9l2.3-2.3 2.3 2.3-2.3 2.3zM415.7 318.7l2.3-2.3 2.3 2.3-2.3 2.3zM417.5 319.6l2.3-2.3 2.3 2.3-2.3 2.3zM420.1 319.4l2.3-2.3 2.3 2.3-2.3 2.3zM422.8 318.5l2.3-2.3 2.3 2.3-2.3 2.3zM425.4 317.7l2.3-2.3 2.3 2.3-2.3 2.3zM427 319l2.3-2.3 2.3 2.3-2.3 2.3zM429.2 317.9l2.3-2.3 2.3 2.3-2.3 2.3zM432.2 317.4l2.3-2.3 2.3 2.3-2.3 2.3zM433.7 318.1l2.3-2.3 2.3 2.3-2.3 2.3zM436.2 319.6l2.3-2.3 2.3 2.3-2.3 2.3zM439 317.6l2.3-2.3 2.3 2.3-2.3 2.3zM440.4 318.4l2.3-2.3 2.3 2.3-2.3 2.3zM443.6 316.6l2.3-2.3 2.3 2.3-2.3 2.3zM415.6 319.3l2.3-2.3 2.3 2.3-2.3 2.3zM416.9 319.7l2.3-2.3 2.3 2.3-2.3 2.3zM420.3 321.2l2.3-2.3 2.3 2.3-2.3 2.3zM423.1 321.1l2.3-2.3 2.3 2.3-2.3 2.3zM424.9 321.3l2.3-2.3 2.3 2.3-2.3 2.3zM427.3 319.8l2.3-2.3 2.3 2.3-2.3 2.3zM429.2 321.5l2.3-2.3 2.3 2.3-2.3 2.3zM431 319.2l2.3-2.3 2.3 2.3-2.3 2.3zM434.6 321.2l2.3-2.3 2.3 2.3-2.3 2.3zM436.8 321.6l2.3-2.3 2.3 2.3-2.3 2.3zM438.1 320.1l2.3-2.3 2.3 2.3-2.3 2.3zM440.5 320.5l2.3-2.3 2.3 2.3-2.3 2.3zM443.9 319.3l2.3-2.3 2.3 2.3-2.3 2.3zM414.8 324.3l2.3-2.3 2.3 2.3-2.3 2.3zM418.6 323.1l2.3-2.3 2.3 2.3-2.3 2.3zM419.9 323.6l2.3-2.3 2.3 2.3-2.3 2.3zM423.3 323.2l2.3-2.3 2.3 2.3-2.3 2.3zM424 323.8l2.3-2.3 2.3 2.3-2.3 2.3zM426.4 321.7l2.3-2.3 2.3 2.3-2.3 2.3zM429.6 322.1l2.3-2.3 2.3 2.3-2.3 2.3zM430.9 324.5l2.3-2.3 2.3 2.3-2.3 2.3zM433 324l2.3-2.3 2.3 2.3-2.3 2.3zM436.6 322.3l2.3-2.3 2.3 2.3-2.3 2.3zM439 324l2.3-2.3 2.3 2.3-2.3 2.3zM441.2 322l2.3-2.3 2.3 2.3-2.3 2.3zM443.5 323.2l2.3-2.3 2.3 2.3-2.3 2.3zM416.3 326.6l2.3-2.3 2.3 2.3-2.3 2.3zM416.9 326.4l2.3-2.3 2.3 2.3-2.3 2.3zM419.3 325.3l2.3-2.3 2.3 2.3-2.3 2.3zM421.8 327.1l2.3-2.3 2.3 2.3-2.3 2.3zM423.9 325.5l2.3-2.3 2.3 2.3-2.3 2.3zM426.9 326.5l2.3-2.3 2.3 2.3-2.3 2.3zM429.8 325.5l2.3-2.3 2.3 2.3-2.3 2.3zM431.8 325.6l2.3-2.3 2.3 2.3-2.3 2.3zM434.4 327.3l2.3-2.3 2.3 2.3-2.3 2.3zM436.3 325.2l2.3-2.3 2.3 2.3-2.3 2.3zM439.4 326.6l2.3-2.3 2.3 2.3-2.3 2.3zM440.5 326.2l2.3-2.3 2.3 2.3-2.3 2.3zM415.2 328.3l2.3-2.3 2.3 2.3-2.3 2.3zM417.6 329.1l2.3-2.3 2.3 2.3-2.3 2.3zM420.8 329.5l2.3-2.3 2.3 2.3-2.3 2.3zM421.5 327.7l2.3-2.3 2.3 2.3-2.3 2.3zM424.9 329.5l2.3-2.3 2.3 2.3-2.3 2.3zM426.2 329.6l2.3-2.3 2.3 2.3-2.3 2.3zM430 328.7l2.3-2.3 2.3 2.3-2.3 2.3zM432.2 329.5l2.3-2.3 2.3 2.3-2.3 2.3zM434.6 328l2.3-2.3 2.3 2.3-2.3 2.3zM436.3 329.5l2.3-2.3 2.3 2.3-2.3 2.3zM439 329.9l2.3-2.3 2.3 2.3-2.3 2.3zM441 329.1l2.3-2.3 2.3 2.3-2.3 2.3zM442.6 327.7l2.3-2.3 2.3 2.3-2.3 2.3zM415.4 329.8l2.3-2.3 2.3 2.3-2.3 2.3zM418.3 330.2l2.3-2.3 2.3 2.3-2.3 2.3zM420.8 332.3l2.3-2.3 2.3 2.3-2.3 2.3zM422.4 331.4l2.3-2.3 2.3 2.3-2.3 2.3zM424.1 330.1l2.3-2.3 2.3 2.3-2.3 2.3zM426.8 331.3l2.3-2.3 2.3 2.3-2.3 2.3zM429.3 330l2.3-2.3 2.3 2.3-2.3 2.3zM432.5 330.7l2.3-2.3 2.3 2.3-2.3 2.3zM434.1 332l2.3-2.3 2.3 2.3-2.3 2.3zM436.4 330.6l2.3-2.3 2.3 2.3-2.3 2.3zM437.6 329.6l2.3-2.3 2.3 2.3-2.3 2.3zM443.1 331.3l2.3-2.3 2.3 2.3-2.3 2.3zM415.4 335.1l2.3-2.3 2.3 2.3-2.3 2.3zM418.4 335.2l2.3-2.3 2.3 2.3-2.3 2.3zM419.3 332.7l2.3-2.3 2.3 2.3-2.3 2.3zM421.7 332.3l2.3-2.3 2.3 2.3-2.3 2.3zM415.4 337.7l2.3-2.3 2.3 2.3-2.3 2.3zM417 336.6l2.3-2.3 2.3 2.3-2.3 2.3zM416.3 338.1l2.3-2.3 2.3 2.3-2.3 2.3zM418.1 340.4l2.3-2.3 2.3 2.3-2.3 2.3zM415.4 340.4l2.3-2.3 2.3 2.3-2.3 2.3zM415.5 346.1l2.3-2.3 2.3 2.3-2.3 2.3zM415.8 350.4l2.3-2.3 2.3 2.3-2.3 2.3zM420 359l2.3-2.3 2.3 2.3-2.3 2.3zM415.5 365l2.3-2.3 2.3 2.3-2.3 2.3zM416 368l2.3-2.3 2.3 2.3-2.3 2.3zM415.5 370l2.3-2.3 2.3 2.3-2.3 2.3z" fill="#000"/>
<path d="M416.6 274 L416.7 275.5 L416.7 277 L416.8 278.5 L416.9 280 L417.1 281.5 L417.3 283 L417.6 284.5 L418 286 L418.5 287.5 L419.1 289 L419.8 290.5 L420.6 292 L421.7 293.5 L422.9 295 L424.3 296.5 L425.8 298 L427.6 299.5 L429.5 301 L431.6 302.5 L433.7 304 L435.9 305.5 L438.1 307 L440.3 308.5 L442.3 310 L444.2 311.5 L445.9 313 L447.2 314.5 L448.2 316 L448.8 317.5 L449 319 L448.8 320.5 L448.2 322 L447.2 323.5 L445.9 325 L444.2 326.5 L442.3 328 L440.3 329.5 L438.1 331 L435.9 332.5 L433.7 334 L431.6 335.5 L429.5 337 L427.6 338.5 L425.8 340 L424.3 341.5 L422.9 343 L421.7 344.5 L420.6 346 L419.8 347.5 L419.1 349 L418.5 350.5 L418 352 L417.6 353.5 L417.3 355 L417.1 356.5 L416.9 358 L416.8 359.5 L416.7 361 L416.7 362.5 L416.6 364 L416.6 365.5 L416.5 367 L416.5 368.5 L416.5 370" fill="none" stroke="#4a4a4a" stroke-width="1.3"/>
<path d="M572.7 406l2.3-2.3 2.3 2.3-2.3 2.3zM570.7 393.1l2.3-2.3 2.3 2.3-2.3 2.3zM555.2 391.2l2.3-2.3 2.3 2.3-2.3 2.3zM574.1 387.2l2.3-2.3 2.3 2.3-2.3 2.3zM560 402.8l2.3-2.3 2.3 2.3-2.3 2.3zM569 381.4l2.3-2.3 2.3 2.3-2.3 2.3zM560.7 387.8l2.3-2.3 2.3 2.3-2.3 2.3zM558.7 382.3l2.3-2.3 2.3 2.3-2.3 2.3zM555.9 396.5l2.3-2.3 2.3 2.3-2.3 2.3zM558.1 396.4l2.3-2.3 2.3 2.3-2.3 2.3zM551.1 397.8l2.3-2.3 2.3 2.3-2.3 2.3zM572.9 400.5l2.3-2.3 2.3 2.3-2.3 2.3zM579.5 388.5l2.3-2.3 2.3 2.3-2.3 2.3zM557.5 390.3l2.3-2.3 2.3 2.3-2.3 2.3zM578.2 407.7l2.3-2.3 2.3 2.3-2.3 2.3zM555 378.6l2.3-2.3 2.3 2.3-2.3 2.3zM579.5 382.8l2.3-2.3 2.3 2.3-2.3 2.3zM576.8 389.1l2.3-2.3 2.3 2.3-2.3 2.3zM561.2 379.1l2.3-2.3 2.3 2.3-2.3 2.3zM576.2 378.8l2.3-2.3 2.3 2.3-2.3 2.3zM555.1 372.2l2.3-2.3 2.3 2.3-2.3 2.3zM557.6 389.7l2.3-2.3 2.3 2.3-2.3 2.3zM567.9 403.8l2.3-2.3 2.3 2.3-2.3 2.3zM555.2 393.6l2.3-2.3 2.3 2.3-2.3 2.3zM563.5 393.5l2.3-2.3 2.3 2.3-2.3 2.3zM555.5 381.2l2.3-2.3 2.3 2.3-2.3 2.3zM561.1 384.7l2.3-2.3 2.3 2.3-2.3 2.3zM555.9 408.4l2.3-2.3 2.3 2.3-2.3 2.3zM578.7 377.9l2.3-2.3 2.3 2.3-2.3 2.3zM554.2 388l2.3-2.3 2.3 2.3-2.3 2.3zM578.4 391.2l2.3-2.3 2.3 2.3-2.3 2.3zM571.4 387l2.3-2.3 2.3 2.3-2.3 2.3zM559.6 390.5l2.3-2.3 2.3 2.3-2.3 2.3zM558.7 399.7l2.3-2.3 2.3 2.3-2.3 2.3zM581.4 390.6l2.3-2.3 2.3 2.3-2.3 2.3zM581.6 397.5l2.3-2.3 2.3 2.3-2.3 2.3zM559.7 391.9l2.3-2.3 2.3 2.3-2.3 2.3zM578.5 385.2l2.3-2.3 2.3 2.3-2.3 2.3zM559.8 404.1l2.3-2.3 2.3 2.3-2.3 2.3zM581 393.8l2.3-2.3 2.3 2.3-2.3 2.3zM561.3 407.4l2.3-2.3 2.3 2.3-2.3 2.3zM555 389.5l2.3-2.3 2.3 2.3-2.3 2.3zM567 408.3l2.3-2.3 2.3 2.3-2.3 2.3zM556.5 387.8l2.3-2.3 2.3 2.3-2.3 2.3zM557.5 365.2l2.3-2.3 2.3 2.3-2.3 2.3zM568.4 397.1l2.3-2.3 2.3 2.3-2.3 2.3zM574.6 392l2.3-2.3 2.3 2.3-2.3 2.3zM572.8 392.8l2.3-2.3 2.3 2.3-2.3 2.3zM553.4 389l2.3-2.3 2.3 2.3-2.3 2.3zM569.6 391.7l2.3-2.3 2.3 2.3-2.3 2.3zM557.1 378.7l2.3-2.3 2.3 2.3-2.3 2.3zM569.7 387.7l2.3-2.3 2.3 2.3-2.3 2.3zM568.8 382.2l2.3-2.3 2.3 2.3-2.3 2.3zM557 368.1l2.3-2.3 2.3 2.3-2.3 2.3zM563.4 403.9l2.3-2.3 2.3 2.3-2.3 2.3zM573.1 394.7l2.3-2.3 2.3 2.3-2.3 2.3zM561.1 406.4l2.3-2.3 2.3 2.3-2.3 2.3zM576.8 394.3l2.3-2.3 2.3 2.3-2.3 2.3zM551.2 395.9l2.3-2.3 2.3 2.3-2.3 2.3zM578.9 377.9l2.3-2.3 2.3 2.3-2.3 2.3zM559 365.4l2.3-2.3 2.3 2.3-2.3 2.3zM556.5 390.8l2.3-2.3 2.3 2.3-2.3 2.3zM555.8 392.7l2.3-2.3 2.3 2.3-2.3 2.3zM562.2 378.3l2.3-2.3 2.3 2.3-2.3 2.3zM566.8 386.6l2.3-2.3 2.3 2.3-2.3 2.3zM564.5 386.9l2.3-2.3 2.3 2.3-2.3 2.3zM572.9 381.9l2.3-2.3 2.3 2.3-2.3 2.3zM576 387l2.3-2.3 2.3 2.3-2.3 2.3zM572.7 393.9l2.3-2.3 2.3 2.3-2.3 2.3zM562.5 380.3l2.3-2.3 2.3 2.3-2.3 2.3zM577.8 387.5l2.3-2.3 2.3 2.3-2.3 2.3zM580.3 383.6l2.3-2.3 2.3 2.3-2.3 2.3zM567.1 374.3l2.3-2.3 2.3 2.3-2.3 2.3zM567.4 387.9l2.3-2.3 2.3 2.3-2.3 2.3zM557.6 391.2l2.3-2.3 2.3 2.3-2.3 2.3zM558.5 389.6l2.3-2.3 2.3 2.3-2.3 2.3zM576 392.2l2.3-2.3 2.3 2.3-2.3 2.3zM572.4 392.4l2.3-2.3 2.3 2.3-2.3 2.3zM556.7 388.4l2.3-2.3 2.3 2.3-2.3 2.3zM568.6 402.3l2.3-2.3 2.3 2.3-2.3 2.3zM566.9 389.2l2.3-2.3 2.3 2.3-2.3 2.3zM577.7 386l2.3-2.3 2.3 2.3-2.3 2.3zM572.9 382.6l2.3-2.3 2.3 2.3-2.3 2.3zM566 392.9l2.3-2.3 2.3 2.3-2.3 2.3zM566.2 389.1l2.3-2.3 2.3 2.3-2.3 2.3zM563.3 386.5l2.3-2.3 2.3 2.3-2.3 2.3zM554.9 393l2.3-2.3 2.3 2.3-2.3 2.3zM555.3 369.2l2.3-2.3 2.3 2.3-2.3 2.3zM568.5 375.6l2.3-2.3 2.3 2.3-2.3 2.3zM576.3 387.4l2.3-2.3 2.3 2.3-2.3 2.3zM579.8 380.9l2.3-2.3 2.3 2.3-2.3 2.3zM576.7 378.7l2.3-2.3 2.3 2.3-2.3 2.3zM567 394.9l2.3-2.3 2.3 2.3-2.3 2.3zM574.8 366.7l2.3-2.3 2.3 2.3-2.3 2.3zM561.2 403.5l2.3-2.3 2.3 2.3-2.3 2.3zM564.2 388.1l2.3-2.3 2.3 2.3-2.3 2.3zM581.1 397.4l2.3-2.3 2.3 2.3-2.3 2.3zM576 395.6l2.3-2.3 2.3 2.3-2.3 2.3zM577 364.6l2.3-2.3 2.3 2.3-2.3 2.3zM580.4 400l2.3-2.3 2.3 2.3-2.3 2.3zM579.7 391.9l2.3-2.3 2.3 2.3-2.3 2.3zM570.3 387.6l2.3-2.3 2.3 2.3-2.3 2.3zM562 399l2.3-2.3 2.3 2.3-2.3 2.3zM564.1 383.4l2.3-2.3 2.3 2.3-2.3 2.3zM566.3 386.7l2.3-2.3 2.3 2.3-2.3 2.3zM580.8 393.5l2.3-2.3 2.3 2.3-2.3 2.3zM574.8 388.3l2.3-2.3 2.3 2.3-2.3 2.3zM575.8 401.9l2.3-2.3 2.3 2.3-2.3 2.3zM578.1 381.5l2.3-2.3 2.3 2.3-2.3 2.3zM570.6 389.7l2.3-2.3 2.3 2.3-2.3 2.3zM558.9 385.6l2.3-2.3 2.3 2.3-2.3 2.3zM567.5 383.7l2.3-2.3 2.3 2.3-2.3 2.3zM579.4 379.6l2.3-2.3 2.3 2.3-2.3 2.3zM566.8 381.5l2.3-2.3 2.3 2.3-2.3 2.3zM564.1 381.7l2.3-2.3 2.3 2.3-2.3 2.3zM560.2 396.1l2.3-2.3 2.3 2.3-2.3 2.3zM570.8 384.7l2.3-2.3 2.3 2.3-2.3 2.3zM580.3 398.2l2.3-2.3 2.3 2.3-2.3 2.3zM566.6 397.6l2.3-2.3 2.3 2.3-2.3 2.3zM567.2 386.1l2.3-2.3 2.3 2.3-2.3 2.3zM555.3 399.7l2.3-2.3 2.3 2.3-2.3 2.3zM559.8 391.7l2.3-2.3 2.3 2.3-2.3 2.3zM563.3 391.6l2.3-2.3 2.3 2.3-2.3 2.3zM553.4 385.5l2.3-2.3 2.3 2.3-2.3 2.3zM567.6 395.5l2.3-2.3 2.3 2.3-2.3 2.3zM568.4 395.6l2.3-2.3 2.3 2.3-2.3 2.3zM570.9 374.7l2.3-2.3 2.3 2.3-2.3 2.3zM565 392.7l2.3-2.3 2.3 2.3-2.3 2.3zM567.7 404l2.3-2.3 2.3 2.3-2.3 2.3zM560.3 378.1l2.3-2.3 2.3 2.3-2.3 2.3zM558.2 379.4l2.3-2.3 2.3 2.3-2.3 2.3zM562.6 389.8l2.3-2.3 2.3 2.3-2.3 2.3zM568.9 400.5l2.3-2.3 2.3 2.3-2.3 2.3zM577.4 397.7l2.3-2.3 2.3 2.3-2.3 2.3zM558.1 388.3l2.3-2.3 2.3 2.3-2.3 2.3zM559.5 375.5l2.3-2.3 2.3 2.3-2.3 2.3zM581.3 383l2.3-2.3 2.3 2.3-2.3 2.3zM555.6 382.2l2.3-2.3 2.3 2.3-2.3 2.3zM552.8 405.7l2.3-2.3 2.3 2.3-2.3 2.3zM552.6 395.7l2.3-2.3 2.3 2.3-2.3 2.3zM562.7 378.9l2.3-2.3 2.3 2.3-2.3 2.3zM554.1 370.8l2.3-2.3 2.3 2.3-2.3 2.3zM557.7 394.1l2.3-2.3 2.3 2.3-2.3 2.3zM555.5 404.9l2.3-2.3 2.3 2.3-2.3 2.3zM561.1 382.9l2.3-2.3 2.3 2.3-2.3 2.3zM569.8 377.6l2.3-2.3 2.3 2.3-2.3 2.3zM577 400.7l2.3-2.3 2.3 2.3-2.3 2.3zM573.6 393.2l2.3-2.3 2.3 2.3-2.3 2.3zM573.7 375.5l2.3-2.3 2.3 2.3-2.3 2.3zM575 388.3l2.3-2.3 2.3 2.3-2.3 2.3zM572.7 375l2.3-2.3 2.3 2.3-2.3 2.3zM577.7 392.4l2.3-2.3 2.3 2.3-2.3 2.3zM550.8 384.6l2.3-2.3 2.3 2.3-2.3 2.3zM566.1 388.9l2.3-2.3 2.3 2.3-2.3 2.3zM580.5 373l2.3-2.3 2.3 2.3-2.3 2.3zM575 377.2l2.3-2.3 2.3 2.3-2.3 2.3zM577.8 382.5l2.3-2.3 2.3 2.3-2.3 2.3zM564.7 379.1l2.3-2.3 2.3 2.3-2.3 2.3zM564.9 380.8l2.3-2.3 2.3 2.3-2.3 2.3zM562.8 386l2.3-2.3 2.3 2.3-2.3 2.3zM567.9 378.5l2.3-2.3 2.3 2.3-2.3 2.3zM575.1 380.2l2.3-2.3 2.3 2.3-2.3 2.3zM577 393.9l2.3-2.3 2.3 2.3-2.3 2.3zM556.4 375.6l2.3-2.3 2.3 2.3-2.3 2.3zM560.1 387.5l2.3-2.3 2.3 2.3-2.3 2.3zM568.7 396.3l2.3-2.3 2.3 2.3-2.3 2.3zM553.4 398.9l2.3-2.3 2.3 2.3-2.3 2.3zM576.8 396l2.3-2.3 2.3 2.3-2.3 2.3zM576.7 382.8l2.3-2.3 2.3 2.3-2.3 2.3zM563.9 394.7l2.3-2.3 2.3 2.3-2.3 2.3zM578.9 385.6l2.3-2.3 2.3 2.3-2.3 2.3zM568.2 390.9l2.3-2.3 2.3 2.3-2.3 2.3zM566.1 387.7l2.3-2.3 2.3 2.3-2.3 2.3zM567.4 404.1l2.3-2.3 2.3 2.3-2.3 2.3zM581.6 378.4l2.3-2.3 2.3 2.3-2.3 2.3zM571.9 374.3l2.3-2.3 2.3 2.3-2.3 2.3zM562.8 386l2.3-2.3 2.3 2.3-2.3 2.3zM561.6 378.2l2.3-2.3 2.3 2.3-2.3 2.3zM580.1 399l2.3-2.3 2.3 2.3-2.3 2.3zM553.8 381.5l2.3-2.3 2.3 2.3-2.3 2.3zM562.3 375.5l2.3-2.3 2.3 2.3-2.3 2.3zM568.5 376l2.3-2.3 2.3 2.3-2.3 2.3zM578 395.7l2.3-2.3 2.3 2.3-2.3 2.3zM564.3 399.9l2.3-2.3 2.3 2.3-2.3 2.3zM570.1 384.7l2.3-2.3 2.3 2.3-2.3 2.3zM567.1 397.6l2.3-2.3 2.3 2.3-2.3 2.3zM576 387.3l2.3-2.3 2.3 2.3-2.3 2.3zM581 392.1l2.3-2.3 2.3 2.3-2.3 2.3zM576.3 396l2.3-2.3 2.3 2.3-2.3 2.3zM578.4 382.2l2.3-2.3 2.3 2.3-2.3 2.3zM572.1 387.1l2.3-2.3 2.3 2.3-2.3 2.3zM578.2 401.9l2.3-2.3 2.3 2.3-2.3 2.3zM559.7 381.9l2.3-2.3 2.3 2.3-2.3 2.3zM566.6 390.6l2.3-2.3 2.3 2.3-2.3 2.3zM556.4 380.4l2.3-2.3 2.3 2.3-2.3 2.3zM570.2 387.3l2.3-2.3 2.3 2.3-2.3 2.3zM581.5 379.3l2.3-2.3 2.3 2.3-2.3 2.3zM570.4 381.3l2.3-2.3 2.3 2.3-2.3 2.3zM575.1 398.4l2.3-2.3 2.3 2.3-2.3 2.3zM560.2 390.5l2.3-2.3 2.3 2.3-2.3 2.3zM560.1 387.1l2.3-2.3 2.3 2.3-2.3 2.3zM576.8 386.6l2.3-2.3 2.3 2.3-2.3 2.3zM556.8 373.5l2.3-2.3 2.3 2.3-2.3 2.3zM566.1 379.1l2.3-2.3 2.3 2.3-2.3 2.3zM570.8 379.3l2.3-2.3 2.3 2.3-2.3 2.3zM567.2 384.7l2.3-2.3 2.3 2.3-2.3 2.3zM563.4 401.9l2.3-2.3 2.3 2.3-2.3 2.3zM554.5 387.2l2.3-2.3 2.3 2.3-2.3 2.3zM554 397.8l2.3-2.3 2.3 2.3-2.3 2.3zM553.8 403l2.3-2.3 2.3 2.3-2.3 2.3zM576.2 393.9l2.3-2.3 2.3 2.3-2.3 2.3zM569.7 399.2l2.3-2.3 2.3 2.3-2.3 2.3zM551.1 388.9l2.3-2.3 2.3 2.3-2.3 2.3zM574.6 383.8l2.3-2.3 2.3 2.3-2.3 2.3zM561.7 379.8l2.3-2.3 2.3 2.3-2.3 2.3zM556 403.1l2.3-2.3 2.3 2.3-2.3 2.3zM578.7 387l2.3-2.3 2.3 2.3-2.3 2.3zM568.8 392.5l2.3-2.3 2.3 2.3-2.3 2.3zM562.7 380.5l2.3-2.3 2.3 2.3-2.3 2.3zM552.4 397.3l2.3-2.3 2.3 2.3-2.3 2.3zM580.4 398.7l2.3-2.3 2.3 2.3-2.3 2.3zM564.3 378.3l2.3-2.3 2.3 2.3-2.3 2.3zM552.1 381.4l2.3-2.3 2.3 2.3-2.3 2.3zM579.6 381.8l2.3-2.3 2.3 2.3-2.3 2.3zM578.6 393.3l2.3-2.3 2.3 2.3-2.3 2.3zM576 379.9l2.3-2.3 2.3 2.3-2.3 2.3zM580.5 382.6l2.3-2.3 2.3 2.3-2.3 2.3zM566.1 401.6l2.3-2.3 2.3 2.3-2.3 2.3zM562.8 395.3l2.3-2.3 2.3 2.3-2.3 2.3zM573 384.9l2.3-2.3 2.3 2.3-2.3 2.3zM577.8 389.2l2.3-2.3 2.3 2.3-2.3 2.3zM565.7 396.8l2.3-2.3 2.3 2.3-2.3 2.3zM556.1 389.7l2.3-2.3 2.3 2.3-2.3 2.3zM561.8 379.6l2.3-2.3 2.3 2.3-2.3 2.3zM559.7 398.9l2.3-2.3 2.3 2.3-2.3 2.3zM567.2 382.5l2.3-2.3 2.3 2.3-2.3 2.3zM562.7 385.5l2.3-2.3 2.3 2.3-2.3 2.3zM554.5 384.2l2.3-2.3 2.3 2.3-2.3 2.3zM576.3 389.8l2.3-2.3 2.3 2.3-2.3 2.3zM556.6 382.6l2.3-2.3 2.3 2.3-2.3 2.3zM559.5 394.1l2.3-2.3 2.3 2.3-2.3 2.3zM571.3 387.7l2.3-2.3 2.3 2.3-2.3 2.3zM561.3 390.4l2.3-2.3 2.3 2.3-2.3 2.3zM553.6 397.1l2.3-2.3 2.3 2.3-2.3 2.3zM559.1 401.8l2.3-2.3 2.3 2.3-2.3 2.3zM564.4 390.4l2.3-2.3 2.3 2.3-2.3 2.3zM576.6 382.5l2.3-2.3 2.3 2.3-2.3 2.3z" fill="#000"/>
<path d="M551.7 356 L551.8 357.5 L552 359 L552.2 360.5 L552.6 362 L553.1 363.5 L553.9 365 L554.8 366.5 L556.1 368 L557.7 369.5 L559.6 371 L561.9 372.5 L564.5 374 L567.4 375.5 L570.4 377 L573.5 378.5 L576.4 380 L579.1 381.5 L581.3 383 L582.9 384.5 L583.8 386 L584 387.5 L583.3 389 L581.9 390.5 L579.9 392 L577.3 393.5 L574.5 395 L571.4 396.5 L568.4 398 L565.4 399.5 L562.7 401 L560.3 402.5 L558.3 404 L556.6 405.5 L555.2 407 L554.1 408.5 L553.3 410 L552.8 411.5 L552.3 413 L552 414.5 L551.8 416 L551.7 417.5" fill="none" stroke="#4a4a4a" stroke-width="1.3"/>
<line x1="119" y1="151" x2="254" y2="289.5" stroke="#CC0010" stroke-width="2.15" stroke-dasharray="11 11" stroke-dashoffset="18.5"/>
<line x1="254" y1="289.5" x2="389" y2="319.5" stroke="#CC0010" stroke-width="2.15" stroke-dasharray="11 11" stroke-dashoffset="18.5"/>
<line x1="389" y1="319.5" x2="524" y2="386.5" stroke="#CC0010" stroke-width="2.15" stroke-dasharray="11 11" stroke-dashoffset="18.5"/>
<path d="M98.5 152.5h41" stroke="#000" stroke-width="1.9"/>
<circle cx="119" cy="151" r="2.7" fill="none" stroke="#555" stroke-width="0.7"/>
<path d="M233.5 289.8h41" stroke="#000" stroke-width="1.9"/>
<circle cx="254" cy="289.5" r="2.7" fill="none" stroke="#555" stroke-width="0.7"/>
<path d="M368.5 318h41" stroke="#000" stroke-width="1.9"/>
<circle cx="389" cy="319.5" r="2.7" fill="none" stroke="#555" stroke-width="0.7"/>
<path d="M503.5 387.8h41" stroke="#000" stroke-width="1.9"/>
<circle cx="524" cy="386.5" r="2.7" fill="none" stroke="#555" stroke-width="0.7"/>
</g>
<text transform="translate(2.5 625) scale(0.95 1)" font-family="'Liberation Sans',Arial,sans-serif" font-weight="bold" font-size="34" fill="#000">C</text>
<g transform="translate(792 606)">
<path d="M78.8 45.9V481.6H619" fill="none" stroke="#000" stroke-width="1.7"/>
<path d="M78.8 481.6h-8.6M78.8 456h-4.8M78.8 430.4h-8.6M78.8 404.8h-4.8M78.8 379.2h-8.6M78.8 353.7h-4.8M78.8 328.1h-8.6M78.8 302.5h-4.8M78.8 276.9h-8.6M78.8 251.3h-4.8M78.8 225.7h-8.6M78.8 200.1h-4.8M78.8 174.5h-8.6M78.8 149h-4.8M78.8 123.4h-8.6M78.8 97.8h-4.8M78.8 72.2h-8.6M78.8 46.6h-4.8M146 481.6v9M281 481.6v9M416 481.6v9M551 481.6v9" fill="none" stroke="#000" stroke-width="1.5"/>
<g font-family="'Liberation Serif','Times New Roman',serif" font-size="27" fill="#000">
<text transform="translate(62.6 489.7) scale(0.925 1)" text-anchor="end">10</text>
<text transform="translate(62.6 438.5) scale(0.925 1)" text-anchor="end">15</text>
<text transform="translate(62.6 387.3) scale(0.925 1)" text-anchor="end">20</text>
<text transform="translate(62.6 336.2) scale(0.925 1)" text-anchor="end">25</text>
<text transform="translate(62.6 285) scale(0.925 1)" text-anchor="end">30</text>
<text transform="translate(62.6 233.8) scale(0.925 1)" text-anchor="end">35</text>
<text transform="translate(62.6 182.6) scale(0.925 1)" text-anchor="end">40</text>
<text transform="translate(62.6 131.5) scale(0.925 1)" text-anchor="end">45</text>
<text transform="translate(62.6 80.3) scale(0.925 1)" text-anchor="end">50</text>
<text transform="translate(146 517) scale(0.925 1)" text-anchor="middle">A</text>
<text transform="translate(281 517) scale(0.925 1)" text-anchor="middle">B</text>
<text transform="translate(416 517) scale(0.925 1)" text-anchor="middle">C</text>
<text transform="translate(551 517) scale(0.925 1)" text-anchor="middle">D</text>
<text transform="translate(26.4 264.3) rotate(-90) scale(0.93 1)" text-anchor="middle" font-size="30.8">b*</text>
</g>
<path d="M119 124.5V130M119 135.5V141M108.2 124.5h21.6M108.2 141h21.6" fill="none" stroke="#000" stroke-width="1.6"/>
<rect x="98.6" y="130.3" width="40.8" height="4.8" fill="#77774C" stroke="#000" stroke-width="1.6" stroke-linejoin="round"/>
<path d="M254 265.5V284.3M254 298V313.8M243.2 265.5h21.6M243.2 313.8h21.6" fill="none" stroke="#000" stroke-width="1.6"/>
<rect x="233.6" y="284.7" width="40.8" height="13" fill="#A6DEA3" stroke="#000" stroke-width="1.6" stroke-linejoin="round"/>
<path d="M389 323.5V338.5M389 350.5V363M378.2 323.5h21.6M378.2 363h21.6" fill="none" stroke="#000" stroke-width="1.6"/>
<rect x="368.6" y="338.9" width="40.8" height="11.3" fill="#FAE1A8" stroke="#000" stroke-width="1.6" stroke-linejoin="round"/>
<path d="M524 378V392M524 406V423.5M513.2 378h21.6M513.2 423.5h21.6" fill="none" stroke="#000" stroke-width="1.6"/>
<rect x="503.6" y="392.4" width="40.8" height="13.3" fill="#555555" stroke="#000" stroke-width="1.6" stroke-linejoin="round"/>
<path d="M146.3 122.2l2.3-2.3 2.3 2.3-2.3 2.3zM148 121.3l2.3-2.3 2.3 2.3-2.3 2.3zM150.3 123.2l2.3-2.3 2.3 2.3-2.3 2.3zM152 121l2.3-2.3 2.3 2.3-2.3 2.3zM155 120.8l2.3-2.3 2.3 2.3-2.3 2.3zM157.8 122.8l2.3-2.3 2.3 2.3-2.3 2.3zM158.7 120.7l2.3-2.3 2.3 2.3-2.3 2.3zM144.9 124.1l2.3-2.3 2.3 2.3-2.3 2.3zM147.7 124.7l2.3-2.3 2.3 2.3-2.3 2.3zM150.1 125.3l2.3-2.3 2.3 2.3-2.3 2.3zM152.7 124.8l2.3-2.3 2.3 2.3-2.3 2.3zM155.6 126.5l2.3-2.3 2.3 2.3-2.3 2.3zM157.4 124.3l2.3-2.3 2.3 2.3-2.3 2.3zM158.9 123.5l2.3-2.3 2.3 2.3-2.3 2.3zM161.4 126l2.3-2.3 2.3 2.3-2.3 2.3zM164.7 126l2.3-2.3 2.3 2.3-2.3 2.3zM165.7 126.2l2.3-2.3 2.3 2.3-2.3 2.3zM169.4 124.6l2.3-2.3 2.3 2.3-2.3 2.3zM171 125.8l2.3-2.3 2.3 2.3-2.3 2.3zM145.2 129l2.3-2.3 2.3 2.3-2.3 2.3zM147.1 126.7l2.3-2.3 2.3 2.3-2.3 2.3zM149.3 128.5l2.3-2.3 2.3 2.3-2.3 2.3zM152.5 127.3l2.3-2.3 2.3 2.3-2.3 2.3zM155.1 126.3l2.3-2.3 2.3 2.3-2.3 2.3zM156.3 127.2l2.3-2.3 2.3 2.3-2.3 2.3zM158.9 129l2.3-2.3 2.3 2.3-2.3 2.3zM161.2 128.7l2.3-2.3 2.3 2.3-2.3 2.3zM163.7 128.6l2.3-2.3 2.3 2.3-2.3 2.3zM165.5 129.1l2.3-2.3 2.3 2.3-2.3 2.3zM168.1 128.4l2.3-2.3 2.3 2.3-2.3 2.3zM170.4 126.1l2.3-2.3 2.3 2.3-2.3 2.3zM145 130.4l2.3-2.3 2.3 2.3-2.3 2.3zM147.7 131.6l2.3-2.3 2.3 2.3-2.3 2.3zM150.2 131.3l2.3-2.3 2.3 2.3-2.3 2.3zM151.8 131.4l2.3-2.3 2.3 2.3-2.3 2.3zM154.2 129.1l2.3-2.3 2.3 2.3-2.3 2.3zM157.8 129.1l2.3-2.3 2.3 2.3-2.3 2.3zM160 130.4l2.3-2.3 2.3 2.3-2.3 2.3zM160.9 128.6l2.3-2.3 2.3 2.3-2.3 2.3zM163.4 130.8l2.3-2.3 2.3 2.3-2.3 2.3zM166.8 130.4l2.3-2.3 2.3 2.3-2.3 2.3zM167.9 130.8l2.3-2.3 2.3 2.3-2.3 2.3zM170.3 130.3l2.3-2.3 2.3 2.3-2.3 2.3zM145.1 134l2.3-2.3 2.3 2.3-2.3 2.3zM146.9 132l2.3-2.3 2.3 2.3-2.3 2.3zM149.3 131.7l2.3-2.3 2.3 2.3-2.3 2.3zM152.5 131.5l2.3-2.3 2.3 2.3-2.3 2.3zM155.4 134.2l2.3-2.3 2.3 2.3-2.3 2.3zM157.3 133l2.3-2.3 2.3 2.3-2.3 2.3zM158.5 131.2l2.3-2.3 2.3 2.3-2.3 2.3zM162 134.2l2.3-2.3 2.3 2.3-2.3 2.3zM164.1 132.6l2.3-2.3 2.3 2.3-2.3 2.3zM165.9 134.3l2.3-2.3 2.3 2.3-2.3 2.3zM168.6 133.5l2.3-2.3 2.3 2.3-2.3 2.3zM171.2 133.4l2.3-2.3 2.3 2.3-2.3 2.3zM173.8 132.2l2.3-2.3 2.3 2.3-2.3 2.3zM146.2 135l2.3-2.3 2.3 2.3-2.3 2.3zM148.5 135.5l2.3-2.3 2.3 2.3-2.3 2.3zM149.9 135.6l2.3-2.3 2.3 2.3-2.3 2.3zM151.6 135.7l2.3-2.3 2.3 2.3-2.3 2.3zM155.4 136l2.3-2.3 2.3 2.3-2.3 2.3zM157.4 135.6l2.3-2.3 2.3 2.3-2.3 2.3zM159.9 134l2.3-2.3 2.3 2.3-2.3 2.3zM160.8 135.6l2.3-2.3 2.3 2.3-2.3 2.3zM163.4 135.9l2.3-2.3 2.3 2.3-2.3 2.3zM166.4 136.6l2.3-2.3 2.3 2.3-2.3 2.3zM167.6 134.7l2.3-2.3 2.3 2.3-2.3 2.3zM170.3 134.2l2.3-2.3 2.3 2.3-2.3 2.3zM173.4 135.1l2.3-2.3 2.3 2.3-2.3 2.3zM145.8 136.9l2.3-2.3 2.3 2.3-2.3 2.3zM148.4 139.2l2.3-2.3 2.3 2.3-2.3 2.3zM149.9 138.2l2.3-2.3 2.3 2.3-2.3 2.3zM151.7 137.9l2.3-2.3 2.3 2.3-2.3 2.3zM155.3 138.6l2.3-2.3 2.3 2.3-2.3 2.3zM156.6 136.8l2.3-2.3 2.3 2.3-2.3 2.3zM145 140.2l2.3-2.3 2.3 2.3-2.3 2.3zM147.6 139.9l2.3-2.3 2.3 2.3-2.3 2.3zM145.5 109.5l2.3-2.3 2.3 2.3-2.3 2.3zM156.5 112.5l2.3-2.3 2.3 2.3-2.3 2.3zM147.5 116l2.3-2.3 2.3 2.3-2.3 2.3zM151.5 121l2.3-2.3 2.3 2.3-2.3 2.3zM158.5 121l2.3-2.3 2.3 2.3-2.3 2.3zM146.5 120l2.3-2.3 2.3 2.3-2.3 2.3zM176.5 121.5l2.3-2.3 2.3 2.3-2.3 2.3zM175.5 124l2.3-2.3 2.3 2.3-2.3 2.3z" fill="#000"/>
<path d="M147.9 121 L149.8 122.5 L153.1 124 L158.2 125.5 L164.8 127 L171.7 128.5 L177 130 L179 131.5 L177 133 L171.7 134.5 L164.8 136 L158.2 137.5 L153.1 139 L149.8 140.5 L147.9 142 L147 143.5 L146.7 145" fill="none" stroke="#000" stroke-width="1.5"/>
<path d="M280.5 256.3l2.3-2.3 2.3 2.3-2.3 2.3zM280.9 260.3l2.3-2.3 2.3 2.3-2.3 2.3zM283.3 258.6l2.3-2.3 2.3 2.3-2.3 2.3zM285 258.6l2.3-2.3 2.3 2.3-2.3 2.3zM279.9 261.3l2.3-2.3 2.3 2.3-2.3 2.3zM282.7 263.1l2.3-2.3 2.3 2.3-2.3 2.3zM285.7 264.2l2.3-2.3 2.3 2.3-2.3 2.3zM280.5 264.3l2.3-2.3 2.3 2.3-2.3 2.3zM282.7 266l2.3-2.3 2.3 2.3-2.3 2.3zM284.7 264.8l2.3-2.3 2.3 2.3-2.3 2.3zM280.7 268.7l2.3-2.3 2.3 2.3-2.3 2.3zM283.3 269.2l2.3-2.3 2.3 2.3-2.3 2.3zM285.9 268.6l2.3-2.3 2.3 2.3-2.3 2.3zM280.7 271.8l2.3-2.3 2.3 2.3-2.3 2.3zM282.9 271.7l2.3-2.3 2.3 2.3-2.3 2.3zM285.6 270.4l2.3-2.3 2.3 2.3-2.3 2.3zM280.9 274.1l2.3-2.3 2.3 2.3-2.3 2.3zM283.2 272.2l2.3-2.3 2.3 2.3-2.3 2.3zM286 274.6l2.3-2.3 2.3 2.3-2.3 2.3zM280.2 277l2.3-2.3 2.3 2.3-2.3 2.3zM282.5 274.4l2.3-2.3 2.3 2.3-2.3 2.3zM285.2 276.6l2.3-2.3 2.3 2.3-2.3 2.3zM281.1 276.9l2.3-2.3 2.3 2.3-2.3 2.3zM282.2 277.8l2.3-2.3 2.3 2.3-2.3 2.3zM284.5 277.2l2.3-2.3 2.3 2.3-2.3 2.3zM287.8 279.4l2.3-2.3 2.3 2.3-2.3 2.3zM280.5 282.3l2.3-2.3 2.3 2.3-2.3 2.3zM282.3 281l2.3-2.3 2.3 2.3-2.3 2.3zM285.5 281.3l2.3-2.3 2.3 2.3-2.3 2.3zM288 281.1l2.3-2.3 2.3 2.3-2.3 2.3zM289.5 282l2.3-2.3 2.3 2.3-2.3 2.3zM291.5 282l2.3-2.3 2.3 2.3-2.3 2.3zM296.7 279.9l2.3-2.3 2.3 2.3-2.3 2.3zM298.9 281.2l2.3-2.3 2.3 2.3-2.3 2.3zM302 281l2.3-2.3 2.3 2.3-2.3 2.3zM304 281.1l2.3-2.3 2.3 2.3-2.3 2.3zM306.1 279.5l2.3-2.3 2.3 2.3-2.3 2.3zM307.7 282.4l2.3-2.3 2.3 2.3-2.3 2.3zM280.5 282.3l2.3-2.3 2.3 2.3-2.3 2.3zM283.4 284.8l2.3-2.3 2.3 2.3-2.3 2.3zM284.8 282.5l2.3-2.3 2.3 2.3-2.3 2.3zM288.2 282.3l2.3-2.3 2.3 2.3-2.3 2.3zM288.8 282.5l2.3-2.3 2.3 2.3-2.3 2.3zM292.3 282.9l2.3-2.3 2.3 2.3-2.3 2.3zM294.5 282.2l2.3-2.3 2.3 2.3-2.3 2.3zM295.9 283.5l2.3-2.3 2.3 2.3-2.3 2.3zM298.4 283.6l2.3-2.3 2.3 2.3-2.3 2.3zM301 283.2l2.3-2.3 2.3 2.3-2.3 2.3zM302.9 282.6l2.3-2.3 2.3 2.3-2.3 2.3zM306 283.6l2.3-2.3 2.3 2.3-2.3 2.3zM308.3 284.6l2.3-2.3 2.3 2.3-2.3 2.3zM281.1 287.4l2.3-2.3 2.3 2.3-2.3 2.3zM282.5 287.5l2.3-2.3 2.3 2.3-2.3 2.3zM286 287.3l2.3-2.3 2.3 2.3-2.3 2.3zM286.9 286.8l2.3-2.3 2.3 2.3-2.3 2.3zM289 287.2l2.3-2.3 2.3 2.3-2.3 2.3zM292.5 284.9l2.3-2.3 2.3 2.3-2.3 2.3zM294.6 284.6l2.3-2.3 2.3 2.3-2.3 2.3zM296.9 287.4l2.3-2.3 2.3 2.3-2.3 2.3zM301.2 286.9l2.3-2.3 2.3 2.3-2.3 2.3zM303.8 285.1l2.3-2.3 2.3 2.3-2.3 2.3zM305.1 284.6l2.3-2.3 2.3 2.3-2.3 2.3zM280.6 287.6l2.3-2.3 2.3 2.3-2.3 2.3zM282.3 289.8l2.3-2.3 2.3 2.3-2.3 2.3zM286.7 287.3l2.3-2.3 2.3 2.3-2.3 2.3zM292.5 288.1l2.3-2.3 2.3 2.3-2.3 2.3zM294.3 288.5l2.3-2.3 2.3 2.3-2.3 2.3zM295.7 289.3l2.3-2.3 2.3 2.3-2.3 2.3zM298.3 288.6l2.3-2.3 2.3 2.3-2.3 2.3zM301 287.7l2.3-2.3 2.3 2.3-2.3 2.3zM303.5 287.1l2.3-2.3 2.3 2.3-2.3 2.3zM306.3 289.4l2.3-2.3 2.3 2.3-2.3 2.3zM308.3 288.4l2.3-2.3 2.3 2.3-2.3 2.3zM281.4 292.3l2.3-2.3 2.3 2.3-2.3 2.3zM283.5 292.1l2.3-2.3 2.3 2.3-2.3 2.3zM285.7 291l2.3-2.3 2.3 2.3-2.3 2.3zM288.1 291.9l2.3-2.3 2.3 2.3-2.3 2.3zM290.2 291l2.3-2.3 2.3 2.3-2.3 2.3zM291.2 290.8l2.3-2.3 2.3 2.3-2.3 2.3zM293.4 290.8l2.3-2.3 2.3 2.3-2.3 2.3zM296.8 290.4l2.3-2.3 2.3 2.3-2.3 2.3zM299.2 290.8l2.3-2.3 2.3 2.3-2.3 2.3zM301.3 291.4l2.3-2.3 2.3 2.3-2.3 2.3zM304.4 291.8l2.3-2.3 2.3 2.3-2.3 2.3zM306.3 292.8l2.3-2.3 2.3 2.3-2.3 2.3zM308.3 292.1l2.3-2.3 2.3 2.3-2.3 2.3zM279.7 292.9l2.3-2.3 2.3 2.3-2.3 2.3zM282.1 293.1l2.3-2.3 2.3 2.3-2.3 2.3zM285.2 293.9l2.3-2.3 2.3 2.3-2.3 2.3zM290.6 294.3l2.3-2.3 2.3 2.3-2.3 2.3zM291.2 294.2l2.3-2.3 2.3 2.3-2.3 2.3zM293.5 295.3l2.3-2.3 2.3 2.3-2.3 2.3zM296.5 292.8l2.3-2.3 2.3 2.3-2.3 2.3zM299.1 292.5l2.3-2.3 2.3 2.3-2.3 2.3zM301.1 294l2.3-2.3 2.3 2.3-2.3 2.3zM303.3 293.2l2.3-2.3 2.3 2.3-2.3 2.3zM305.9 293.2l2.3-2.3 2.3 2.3-2.3 2.3zM279.6 295.7l2.3-2.3 2.3 2.3-2.3 2.3zM282.2 297.3l2.3-2.3 2.3 2.3-2.3 2.3zM285.8 297.3l2.3-2.3 2.3 2.3-2.3 2.3zM288.3 297.9l2.3-2.3 2.3 2.3-2.3 2.3zM290.4 296.3l2.3-2.3 2.3 2.3-2.3 2.3zM292.9 295.7l2.3-2.3 2.3 2.3-2.3 2.3zM295.1 297.2l2.3-2.3 2.3 2.3-2.3 2.3zM297.5 297.5l2.3-2.3 2.3 2.3-2.3 2.3zM298.2 296.9l2.3-2.3 2.3 2.3-2.3 2.3zM300.7 295.1l2.3-2.3 2.3 2.3-2.3 2.3zM302.8 296.3l2.3-2.3 2.3 2.3-2.3 2.3zM305.7 295.7l2.3-2.3 2.3 2.3-2.3 2.3zM308 297.4l2.3-2.3 2.3 2.3-2.3 2.3zM284.6 297.9l2.3-2.3 2.3 2.3-2.3 2.3zM287.9 299.5l2.3-2.3 2.3 2.3-2.3 2.3zM289.3 299.7l2.3-2.3 2.3 2.3-2.3 2.3zM292.2 299.5l2.3-2.3 2.3 2.3-2.3 2.3zM293.7 298.3l2.3-2.3 2.3 2.3-2.3 2.3zM299.6 297.6l2.3-2.3 2.3 2.3-2.3 2.3zM300.8 298.9l2.3-2.3 2.3 2.3-2.3 2.3zM302.8 299.2l2.3-2.3 2.3 2.3-2.3 2.3zM305.1 299.7l2.3-2.3 2.3 2.3-2.3 2.3zM280.3 301.6l2.3-2.3 2.3 2.3-2.3 2.3zM282.5 302.5l2.3-2.3 2.3 2.3-2.3 2.3zM284.3 300.5l2.3-2.3 2.3 2.3-2.3 2.3zM287.6 302.6l2.3-2.3 2.3 2.3-2.3 2.3zM289.6 300.9l2.3-2.3 2.3 2.3-2.3 2.3zM291.8 302.2l2.3-2.3 2.3 2.3-2.3 2.3zM296.7 302.5l2.3-2.3 2.3 2.3-2.3 2.3zM298.8 301.3l2.3-2.3 2.3 2.3-2.3 2.3zM301.9 300.4l2.3-2.3 2.3 2.3-2.3 2.3zM280.5 304.9l2.3-2.3 2.3 2.3-2.3 2.3zM283.3 302.9l2.3-2.3 2.3 2.3-2.3 2.3zM285.4 303l2.3-2.3 2.3 2.3-2.3 2.3zM287.8 304.9l2.3-2.3 2.3 2.3-2.3 2.3zM289.1 303.8l2.3-2.3 2.3 2.3-2.3 2.3zM291.8 303.1l2.3-2.3 2.3 2.3-2.3 2.3zM281.3 308.3l2.3-2.3 2.3 2.3-2.3 2.3zM282.7 307.9l2.3-2.3 2.3 2.3-2.3 2.3zM284.8 306.6l2.3-2.3 2.3 2.3-2.3 2.3zM288.1 306.1l2.3-2.3 2.3 2.3-2.3 2.3zM280.3 309.2l2.3-2.3 2.3 2.3-2.3 2.3zM282.3 309.7l2.3-2.3 2.3 2.3-2.3 2.3zM285.2 310.6l2.3-2.3 2.3 2.3-2.3 2.3zM280.6 312.8l2.3-2.3 2.3 2.3-2.3 2.3zM291.5 313.5l2.3-2.3 2.3 2.3-2.3 2.3z" fill="#000"/>
<path d="M281.7 250.5 L281.8 252 L282 253.5 L282.1 255 L282.4 256.5 L282.7 258 L283.2 259.5 L283.7 261 L284.4 262.5 L285.2 264 L286.3 265.5 L287.5 267 L288.9 268.5 L290.5 270 L292.4 271.5 L294.4 273 L296.6 274.5 L298.9 276 L301.2 277.5 L303.6 279 L305.8 280.5 L308 282 L309.9 283.5 L311.5 285 L312.8 286.5 L313.6 288 L314 289.5 L313.9 291 L313.4 292.5 L312.4 294 L311 295.5 L309.3 297 L307.3 298.5 L305.1 300 L302.8 301.5 L300.4 303 L298.1 304.5 L295.8 306 L293.7 307.5 L291.7 309 L290 310.5 L288.4 312 L287.1 313.5 L285.9 315 L284.9 316.5 L284.1 318 L283.5 319.5 L283 321 L282.6 322.5 L282.3 324 L282.1 325.5 L281.9 327" fill="none" stroke="#000" stroke-width="1.5"/>
<path d="M414.6 322.4l2.3-2.3 2.3 2.3-2.3 2.3zM417.9 323.8l2.3-2.3 2.3 2.3-2.3 2.3zM420.6 320.9l2.3-2.3 2.3 2.3-2.3 2.3zM414.8 323.6l2.3-2.3 2.3 2.3-2.3 2.3zM418.5 323.6l2.3-2.3 2.3 2.3-2.3 2.3zM419.3 325.7l2.3-2.3 2.3 2.3-2.3 2.3zM415 328.3l2.3-2.3 2.3 2.3-2.3 2.3zM418.3 327.2l2.3-2.3 2.3 2.3-2.3 2.3zM420.9 328.1l2.3-2.3 2.3 2.3-2.3 2.3zM415.9 330.8l2.3-2.3 2.3 2.3-2.3 2.3zM417.6 331.1l2.3-2.3 2.3 2.3-2.3 2.3zM420.7 331.1l2.3-2.3 2.3 2.3-2.3 2.3zM416.3 333.1l2.3-2.3 2.3 2.3-2.3 2.3zM418.2 333.7l2.3-2.3 2.3 2.3-2.3 2.3zM420 331.6l2.3-2.3 2.3 2.3-2.3 2.3zM417.2 334.4l2.3-2.3 2.3 2.3-2.3 2.3zM419.7 336.8l2.3-2.3 2.3 2.3-2.3 2.3zM422.1 334.1l2.3-2.3 2.3 2.3-2.3 2.3zM425.2 334.3l2.3-2.3 2.3 2.3-2.3 2.3zM426.9 335.6l2.3-2.3 2.3 2.3-2.3 2.3zM428.5 334l2.3-2.3 2.3 2.3-2.3 2.3zM431.1 334.5l2.3-2.3 2.3 2.3-2.3 2.3zM434.1 334.4l2.3-2.3 2.3 2.3-2.3 2.3zM414.9 338.7l2.3-2.3 2.3 2.3-2.3 2.3zM417.9 338.9l2.3-2.3 2.3 2.3-2.3 2.3zM419.7 339.1l2.3-2.3 2.3 2.3-2.3 2.3zM422.1 338.1l2.3-2.3 2.3 2.3-2.3 2.3zM424.7 337l2.3-2.3 2.3 2.3-2.3 2.3zM427.8 338.9l2.3-2.3 2.3 2.3-2.3 2.3zM429.3 338l2.3-2.3 2.3 2.3-2.3 2.3zM432.5 338.4l2.3-2.3 2.3 2.3-2.3 2.3zM433 337.8l2.3-2.3 2.3 2.3-2.3 2.3zM436.7 338.6l2.3-2.3 2.3 2.3-2.3 2.3zM437.9 336.8l2.3-2.3 2.3 2.3-2.3 2.3zM440.4 339.1l2.3-2.3 2.3 2.3-2.3 2.3zM416.4 339.8l2.3-2.3 2.3 2.3-2.3 2.3zM417.2 341.4l2.3-2.3 2.3 2.3-2.3 2.3zM420.7 341.6l2.3-2.3 2.3 2.3-2.3 2.3zM421.6 339.8l2.3-2.3 2.3 2.3-2.3 2.3zM424 340.4l2.3-2.3 2.3 2.3-2.3 2.3zM427.8 340.8l2.3-2.3 2.3 2.3-2.3 2.3zM428.9 341.4l2.3-2.3 2.3 2.3-2.3 2.3zM432.4 339.2l2.3-2.3 2.3 2.3-2.3 2.3zM433.4 340.6l2.3-2.3 2.3 2.3-2.3 2.3zM435.6 341.6l2.3-2.3 2.3 2.3-2.3 2.3zM438.2 339.1l2.3-2.3 2.3 2.3-2.3 2.3zM440.7 341.2l2.3-2.3 2.3 2.3-2.3 2.3zM443.3 339.2l2.3-2.3 2.3 2.3-2.3 2.3zM416.3 344.2l2.3-2.3 2.3 2.3-2.3 2.3zM416.9 342.7l2.3-2.3 2.3 2.3-2.3 2.3zM419.6 343.3l2.3-2.3 2.3 2.3-2.3 2.3zM421.5 344.7l2.3-2.3 2.3 2.3-2.3 2.3zM424.2 343.5l2.3-2.3 2.3 2.3-2.3 2.3zM426.8 343.2l2.3-2.3 2.3 2.3-2.3 2.3zM429 342.8l2.3-2.3 2.3 2.3-2.3 2.3zM431.2 342.1l2.3-2.3 2.3 2.3-2.3 2.3zM433.6 344.5l2.3-2.3 2.3 2.3-2.3 2.3zM436.6 342.6l2.3-2.3 2.3 2.3-2.3 2.3zM437.8 342l2.3-2.3 2.3 2.3-2.3 2.3zM441.1 343.8l2.3-2.3 2.3 2.3-2.3 2.3zM416.1 346l2.3-2.3 2.3 2.3-2.3 2.3zM417.3 344.6l2.3-2.3 2.3 2.3-2.3 2.3zM419.9 344.3l2.3-2.3 2.3 2.3-2.3 2.3zM422.3 345.7l2.3-2.3 2.3 2.3-2.3 2.3zM425.2 346.7l2.3-2.3 2.3 2.3-2.3 2.3zM426.7 345.4l2.3-2.3 2.3 2.3-2.3 2.3zM429.1 346.3l2.3-2.3 2.3 2.3-2.3 2.3zM434.2 346l2.3-2.3 2.3 2.3-2.3 2.3zM435.9 345.2l2.3-2.3 2.3 2.3-2.3 2.3zM437.8 345.3l2.3-2.3 2.3 2.3-2.3 2.3zM441.3 346.7l2.3-2.3 2.3 2.3-2.3 2.3zM416 349.6l2.3-2.3 2.3 2.3-2.3 2.3zM417.5 348.3l2.3-2.3 2.3 2.3-2.3 2.3zM420.5 349.9l2.3-2.3 2.3 2.3-2.3 2.3zM422.8 349.4l2.3-2.3 2.3 2.3-2.3 2.3zM425.5 348.7l2.3-2.3 2.3 2.3-2.3 2.3zM426.2 347.5l2.3-2.3 2.3 2.3-2.3 2.3zM429.7 347.8l2.3-2.3 2.3 2.3-2.3 2.3zM431.4 348.2l2.3-2.3 2.3 2.3-2.3 2.3zM434.8 347.1l2.3-2.3 2.3 2.3-2.3 2.3zM436.3 348.5l2.3-2.3 2.3 2.3-2.3 2.3zM438.1 349.6l2.3-2.3 2.3 2.3-2.3 2.3zM443.3 347.1l2.3-2.3 2.3 2.3-2.3 2.3zM416.2 350.1l2.3-2.3 2.3 2.3-2.3 2.3zM418.4 349.9l2.3-2.3 2.3 2.3-2.3 2.3zM419.3 349.4l2.3-2.3 2.3 2.3-2.3 2.3zM423.3 352.3l2.3-2.3 2.3 2.3-2.3 2.3zM424.4 351.4l2.3-2.3 2.3 2.3-2.3 2.3zM426.8 351.2l2.3-2.3 2.3 2.3-2.3 2.3zM428.4 349.9l2.3-2.3 2.3 2.3-2.3 2.3zM431 350.5l2.3-2.3 2.3 2.3-2.3 2.3zM433.3 351l2.3-2.3 2.3 2.3-2.3 2.3zM436.3 350.4l2.3-2.3 2.3 2.3-2.3 2.3zM437.7 351.4l2.3-2.3 2.3 2.3-2.3 2.3zM441.6 351.2l2.3-2.3 2.3 2.3-2.3 2.3zM442.9 351.3l2.3-2.3 2.3 2.3-2.3 2.3zM416 353.5l2.3-2.3 2.3 2.3-2.3 2.3zM420.7 353.2l2.3-2.3 2.3 2.3-2.3 2.3zM422.5 354.8l2.3-2.3 2.3 2.3-2.3 2.3zM424.7 353.3l2.3-2.3 2.3 2.3-2.3 2.3zM426.7 352.1l2.3-2.3 2.3 2.3-2.3 2.3zM430 354.2l2.3-2.3 2.3 2.3-2.3 2.3zM432.1 352.9l2.3-2.3 2.3 2.3-2.3 2.3zM433.1 352.3l2.3-2.3 2.3 2.3-2.3 2.3zM436.2 353.2l2.3-2.3 2.3 2.3-2.3 2.3zM438.9 353.6l2.3-2.3 2.3 2.3-2.3 2.3zM440.5 353.2l2.3-2.3 2.3 2.3-2.3 2.3zM442.3 354.8l2.3-2.3 2.3 2.3-2.3 2.3zM416.2 355.8l2.3-2.3 2.3 2.3-2.3 2.3zM417.3 356.9l2.3-2.3 2.3 2.3-2.3 2.3zM420.8 354.8l2.3-2.3 2.3 2.3-2.3 2.3zM421.7 356.2l2.3-2.3 2.3 2.3-2.3 2.3zM423.8 355.3l2.3-2.3 2.3 2.3-2.3 2.3zM426.7 354.7l2.3-2.3 2.3 2.3-2.3 2.3zM429.9 355.8l2.3-2.3 2.3 2.3-2.3 2.3zM431.8 354.6l2.3-2.3 2.3 2.3-2.3 2.3zM434.6 355.5l2.3-2.3 2.3 2.3-2.3 2.3zM437 357.6l2.3-2.3 2.3 2.3-2.3 2.3zM438 355.4l2.3-2.3 2.3 2.3-2.3 2.3zM441.5 355.1l2.3-2.3 2.3 2.3-2.3 2.3zM442.8 356l2.3-2.3 2.3 2.3-2.3 2.3zM416.4 357.7l2.3-2.3 2.3 2.3-2.3 2.3zM417.2 359.9l2.3-2.3 2.3 2.3-2.3 2.3zM419.4 359.4l2.3-2.3 2.3 2.3-2.3 2.3zM423.1 359.9l2.3-2.3 2.3 2.3-2.3 2.3zM424 359.3l2.3-2.3 2.3 2.3-2.3 2.3zM426.9 357.4l2.3-2.3 2.3 2.3-2.3 2.3zM429 359.4l2.3-2.3 2.3 2.3-2.3 2.3zM431 357.9l2.3-2.3 2.3 2.3-2.3 2.3zM415.7 367.5l2.3-2.3 2.3 2.3-2.3 2.3zM415.6 372.8l2.3-2.3 2.3 2.3-2.3 2.3z" fill="#000"/>
<path d="M416.9 318 L417.1 319.5 L417.4 321 L417.9 322.5 L418.6 324 L419.6 325.5 L420.9 327 L422.6 328.5 L424.6 330 L427.1 331.5 L429.9 333 L433 334.5 L436.2 336 L439.5 337.5 L442.5 339 L445.2 340.5 L447.2 342 L448.6 343.5 L449 345 L448.6 346.5 L447.2 348 L445.2 349.5 L442.5 351 L439.5 352.5 L436.2 354 L433 355.5 L429.9 357 L427.1 358.5 L424.6 360 L422.6 361.5 L420.9 363 L419.6 364.5 L418.6 366 L417.9 367.5 L417.4 369 L417.1 370.5 L416.9 372" fill="none" stroke="#000" stroke-width="1.5"/>
<path d="M550.7 370.8l2.3-2.3 2.3 2.3-2.3 2.3zM550.7 377.2l2.3-2.3 2.3 2.3-2.3 2.3zM550.1 378.9l2.3-2.3 2.3 2.3-2.3 2.3zM552.1 379l2.3-2.3 2.3 2.3-2.3 2.3zM554.6 379l2.3-2.3 2.3 2.3-2.3 2.3zM556.8 381l2.3-2.3 2.3 2.3-2.3 2.3zM561.9 380.5l2.3-2.3 2.3 2.3-2.3 2.3zM550.5 381.3l2.3-2.3 2.3 2.3-2.3 2.3zM553.1 381.9l2.3-2.3 2.3 2.3-2.3 2.3zM555.6 382.4l2.3-2.3 2.3 2.3-2.3 2.3zM558 382.9l2.3-2.3 2.3 2.3-2.3 2.3zM560.5 381.3l2.3-2.3 2.3 2.3-2.3 2.3zM561.4 382.6l2.3-2.3 2.3 2.3-2.3 2.3zM564.2 383.2l2.3-2.3 2.3 2.3-2.3 2.3zM567.1 381.5l2.3-2.3 2.3 2.3-2.3 2.3zM550.6 384.9l2.3-2.3 2.3 2.3-2.3 2.3zM553 385.6l2.3-2.3 2.3 2.3-2.3 2.3zM555.8 383.9l2.3-2.3 2.3 2.3-2.3 2.3zM556.5 384.9l2.3-2.3 2.3 2.3-2.3 2.3zM559.6 384.1l2.3-2.3 2.3 2.3-2.3 2.3zM561.2 386.2l2.3-2.3 2.3 2.3-2.3 2.3zM564.4 385.8l2.3-2.3 2.3 2.3-2.3 2.3zM566 384.3l2.3-2.3 2.3 2.3-2.3 2.3zM568.6 385.3l2.3-2.3 2.3 2.3-2.3 2.3zM570.8 385.2l2.3-2.3 2.3 2.3-2.3 2.3zM574.1 383.8l2.3-2.3 2.3 2.3-2.3 2.3zM550.8 388.6l2.3-2.3 2.3 2.3-2.3 2.3zM552 387.2l2.3-2.3 2.3 2.3-2.3 2.3zM554.6 389l2.3-2.3 2.3 2.3-2.3 2.3zM557.4 388.3l2.3-2.3 2.3 2.3-2.3 2.3zM561.9 388.3l2.3-2.3 2.3 2.3-2.3 2.3zM563.8 388.7l2.3-2.3 2.3 2.3-2.3 2.3zM566.4 386.9l2.3-2.3 2.3 2.3-2.3 2.3zM568.1 386l2.3-2.3 2.3 2.3-2.3 2.3zM573.9 386.6l2.3-2.3 2.3 2.3-2.3 2.3zM575.8 386.7l2.3-2.3 2.3 2.3-2.3 2.3zM550.3 389.6l2.3-2.3 2.3 2.3-2.3 2.3zM554.3 389.8l2.3-2.3 2.3 2.3-2.3 2.3zM556.6 389.6l2.3-2.3 2.3 2.3-2.3 2.3zM560.4 390.4l2.3-2.3 2.3 2.3-2.3 2.3zM561.9 389.8l2.3-2.3 2.3 2.3-2.3 2.3zM564.1 391l2.3-2.3 2.3 2.3-2.3 2.3zM566.3 389.1l2.3-2.3 2.3 2.3-2.3 2.3zM568.3 389.2l2.3-2.3 2.3 2.3-2.3 2.3zM571.1 389.5l2.3-2.3 2.3 2.3-2.3 2.3zM574.4 390.7l2.3-2.3 2.3 2.3-2.3 2.3zM575.3 389.7l2.3-2.3 2.3 2.3-2.3 2.3zM550.3 392l2.3-2.3 2.3 2.3-2.3 2.3zM552.2 391.9l2.3-2.3 2.3 2.3-2.3 2.3zM555.9 393.4l2.3-2.3 2.3 2.3-2.3 2.3zM557.1 391.6l2.3-2.3 2.3 2.3-2.3 2.3zM559.4 393.6l2.3-2.3 2.3 2.3-2.3 2.3zM562.7 391.2l2.3-2.3 2.3 2.3-2.3 2.3zM564.1 391.4l2.3-2.3 2.3 2.3-2.3 2.3zM566.3 393.6l2.3-2.3 2.3 2.3-2.3 2.3zM568.1 392.4l2.3-2.3 2.3 2.3-2.3 2.3zM570.4 391.6l2.3-2.3 2.3 2.3-2.3 2.3zM572.7 392.1l2.3-2.3 2.3 2.3-2.3 2.3zM575.9 391.5l2.3-2.3 2.3 2.3-2.3 2.3zM550.9 395.8l2.3-2.3 2.3 2.3-2.3 2.3zM552.3 394.6l2.3-2.3 2.3 2.3-2.3 2.3zM554.9 394.9l2.3-2.3 2.3 2.3-2.3 2.3zM556.9 394.6l2.3-2.3 2.3 2.3-2.3 2.3zM559.2 393.8l2.3-2.3 2.3 2.3-2.3 2.3zM562.2 395.5l2.3-2.3 2.3 2.3-2.3 2.3zM565.2 394.7l2.3-2.3 2.3 2.3-2.3 2.3zM567.4 394.4l2.3-2.3 2.3 2.3-2.3 2.3zM569.2 396.8l2.3-2.3 2.3 2.3-2.3 2.3zM570.7 395.7l2.3-2.3 2.3 2.3-2.3 2.3zM573.4 395l2.3-2.3 2.3 2.3-2.3 2.3zM575.6 394.8l2.3-2.3 2.3 2.3-2.3 2.3zM577.7 394.2l2.3-2.3 2.3 2.3-2.3 2.3zM549.9 398.4l2.3-2.3 2.3 2.3-2.3 2.3zM552.1 397.4l2.3-2.3 2.3 2.3-2.3 2.3zM554.5 398.2l2.3-2.3 2.3 2.3-2.3 2.3zM557.5 398.5l2.3-2.3 2.3 2.3-2.3 2.3zM559.5 397.5l2.3-2.3 2.3 2.3-2.3 2.3zM561.8 396.5l2.3-2.3 2.3 2.3-2.3 2.3zM564.5 397.8l2.3-2.3 2.3 2.3-2.3 2.3zM566.2 396.4l2.3-2.3 2.3 2.3-2.3 2.3zM569.6 398.1l2.3-2.3 2.3 2.3-2.3 2.3zM571.5 396.9l2.3-2.3 2.3 2.3-2.3 2.3zM573.7 399.4l2.3-2.3 2.3 2.3-2.3 2.3zM575.9 399.3l2.3-2.3 2.3 2.3-2.3 2.3zM550.7 400.2l2.3-2.3 2.3 2.3-2.3 2.3zM552.4 401.6l2.3-2.3 2.3 2.3-2.3 2.3zM554.9 401.8l2.3-2.3 2.3 2.3-2.3 2.3zM556.7 400.5l2.3-2.3 2.3 2.3-2.3 2.3zM559.4 402l2.3-2.3 2.3 2.3-2.3 2.3zM561.4 399.6l2.3-2.3 2.3 2.3-2.3 2.3zM563.8 398.9l2.3-2.3 2.3 2.3-2.3 2.3zM566.4 399.7l2.3-2.3 2.3 2.3-2.3 2.3zM569.2 400.7l2.3-2.3 2.3 2.3-2.3 2.3zM571.3 401.6l2.3-2.3 2.3 2.3-2.3 2.3zM575.5 401.7l2.3-2.3 2.3 2.3-2.3 2.3zM578.5 401.1l2.3-2.3 2.3 2.3-2.3 2.3zM552.2 403.5l2.3-2.3 2.3 2.3-2.3 2.3zM555.2 402.7l2.3-2.3 2.3 2.3-2.3 2.3zM557.8 403.2l2.3-2.3 2.3 2.3-2.3 2.3zM559.2 402.5l2.3-2.3 2.3 2.3-2.3 2.3zM562 401.9l2.3-2.3 2.3 2.3-2.3 2.3zM563.5 401.8l2.3-2.3 2.3 2.3-2.3 2.3zM565.9 402.9l2.3-2.3 2.3 2.3-2.3 2.3zM568.9 402l2.3-2.3 2.3 2.3-2.3 2.3zM571.9 401.7l2.3-2.3 2.3 2.3-2.3 2.3zM573.5 404l2.3-2.3 2.3 2.3-2.3 2.3zM576.2 402.3l2.3-2.3 2.3 2.3-2.3 2.3zM577.8 402.6l2.3-2.3 2.3 2.3-2.3 2.3zM551.1 405.9l2.3-2.3 2.3 2.3-2.3 2.3zM553.2 406.1l2.3-2.3 2.3 2.3-2.3 2.3zM555.6 404.5l2.3-2.3 2.3 2.3-2.3 2.3zM557.7 404.8l2.3-2.3 2.3 2.3-2.3 2.3zM558.8 406l2.3-2.3 2.3 2.3-2.3 2.3zM562.8 404.5l2.3-2.3 2.3 2.3-2.3 2.3zM564.2 406.1l2.3-2.3 2.3 2.3-2.3 2.3zM567.4 407.3l2.3-2.3 2.3 2.3-2.3 2.3zM569.3 404.5l2.3-2.3 2.3 2.3-2.3 2.3zM570.8 406.4l2.3-2.3 2.3 2.3-2.3 2.3zM549.6 408.4l2.3-2.3 2.3 2.3-2.3 2.3zM552.6 407.7l2.3-2.3 2.3 2.3-2.3 2.3zM555.7 407.6l2.3-2.3 2.3 2.3-2.3 2.3zM557.6 409.1l2.3-2.3 2.3 2.3-2.3 2.3zM562.3 408.4l2.3-2.3 2.3 2.3-2.3 2.3zM563.7 407.3l2.3-2.3 2.3 2.3-2.3 2.3zM567.4 407.5l2.3-2.3 2.3 2.3-2.3 2.3zM568.2 407.7l2.3-2.3 2.3 2.3-2.3 2.3zM571.2 407.2l2.3-2.3 2.3 2.3-2.3 2.3zM550 410.8l2.3-2.3 2.3 2.3-2.3 2.3zM552.4 409.5l2.3-2.3 2.3 2.3-2.3 2.3zM555.8 410.3l2.3-2.3 2.3 2.3-2.3 2.3zM556.8 410.8l2.3-2.3 2.3 2.3-2.3 2.3zM562.7 410.8l2.3-2.3 2.3 2.3-2.3 2.3zM564.9 410.6l2.3-2.3 2.3 2.3-2.3 2.3zM566.7 411.4l2.3-2.3 2.3 2.3-2.3 2.3zM568.5 412.3l2.3-2.3 2.3 2.3-2.3 2.3zM572.1 410.7l2.3-2.3 2.3 2.3-2.3 2.3zM549.9 412l2.3-2.3 2.3 2.3-2.3 2.3zM552.1 412.1l2.3-2.3 2.3 2.3-2.3 2.3zM555.6 412.9l2.3-2.3 2.3 2.3-2.3 2.3zM556.5 412.6l2.3-2.3 2.3 2.3-2.3 2.3zM562 414.5l2.3-2.3 2.3 2.3-2.3 2.3zM564.7 413.2l2.3-2.3 2.3 2.3-2.3 2.3zM567.2 414.4l2.3-2.3 2.3 2.3-2.3 2.3zM551.3 415.8l2.3-2.3 2.3 2.3-2.3 2.3zM552.4 417.4l2.3-2.3 2.3 2.3-2.3 2.3zM555.2 415.2l2.3-2.3 2.3 2.3-2.3 2.3zM557.2 416.6l2.3-2.3 2.3 2.3-2.3 2.3zM559.5 416.5l2.3-2.3 2.3 2.3-2.3 2.3zM561.6 417.4l2.3-2.3 2.3 2.3-2.3 2.3zM563.6 415.6l2.3-2.3 2.3 2.3-2.3 2.3zM566.1 416.9l2.3-2.3 2.3 2.3-2.3 2.3zM549.9 417.4l2.3-2.3 2.3 2.3-2.3 2.3zM552.5 418.5l2.3-2.3 2.3 2.3-2.3 2.3zM555.1 418.4l2.3-2.3 2.3 2.3-2.3 2.3zM557.5 420.1l2.3-2.3 2.3 2.3-2.3 2.3zM560.4 418.1l2.3-2.3 2.3 2.3-2.3 2.3zM561.3 420.3l2.3-2.3 2.3 2.3-2.3 2.3zM565.1 417.8l2.3-2.3 2.3 2.3-2.3 2.3zM550.7 420.5l2.3-2.3 2.3 2.3-2.3 2.3zM550.7 425.1l2.3-2.3 2.3 2.3-2.3 2.3zM550.6 426.1l2.3-2.3 2.3 2.3-2.3 2.3z" fill="#000"/>
<path d="M551.9 367 L552.1 368.5 L552.4 370 L552.8 371.5 L553.4 373 L554.2 374.5 L555.1 376 L556.3 377.5 L557.8 379 L559.6 380.5 L561.7 382 L564 383.5 L566.6 385 L569.3 386.5 L572.2 388 L574.9 389.5 L577.5 391 L579.8 392.5 L581.7 394 L583.1 395.5 L583.9 397 L584 398.5 L583.4 400 L582.2 401.5 L580.5 403 L578.3 404.5 L575.8 406 L573.1 407.5 L570.3 409 L567.5 410.5 L564.9 412 L562.4 413.5 L560.3 415 L558.4 416.5 L556.8 418 L555.5 419.5 L554.5 421 L553.6 422.5 L553 424 L552.6 425.5 L552.2 427 L552 428.5 L551.8 430" fill="none" stroke="#000" stroke-width="1.5"/>
<line x1="119" y1="133.5" x2="254" y2="289.5" stroke="#CC0010" stroke-width="2.15" stroke-dasharray="11 11" stroke-dashoffset="18.5"/>
<line x1="254" y1="289.5" x2="389" y2="344.5" stroke="#CC0010" stroke-width="2.15" stroke-dasharray="11 11" stroke-dashoffset="18.5"/>
<line x1="389" y1="344.5" x2="524" y2="398.5" stroke="#CC0010" stroke-width="2.15" stroke-dasharray="11 11" stroke-dashoffset="18.5"/>
<path d="M98.5 132.7h41" stroke="#000" stroke-width="1.8"/>
<circle cx="119" cy="133.5" r="2.8" fill="none" stroke="#222" stroke-width="0.7"/>
<path d="M233.5 292.5h41" stroke="#000" stroke-width="1.8"/>
<circle cx="254" cy="289.5" r="2.8" fill="none" stroke="#222" stroke-width="0.7"/>
<path d="M368.5 344.5h41" stroke="#000" stroke-width="1.8"/>
<circle cx="389" cy="344.5" r="2.8" fill="none" stroke="#222" stroke-width="0.7"/>
<path d="M503.5 397.5h41" stroke="#000" stroke-width="1.8"/>
<circle cx="524" cy="398.5" r="2.8" fill="none" stroke="#222" stroke-width="0.7"/>
</g>
<text transform="translate(794.5 625) scale(0.95 1)" font-family="'Liberation Sans',Arial,sans-serif" font-weight="bold" font-size="34" fill="#000">D</text>
</svg>
</body></html>
